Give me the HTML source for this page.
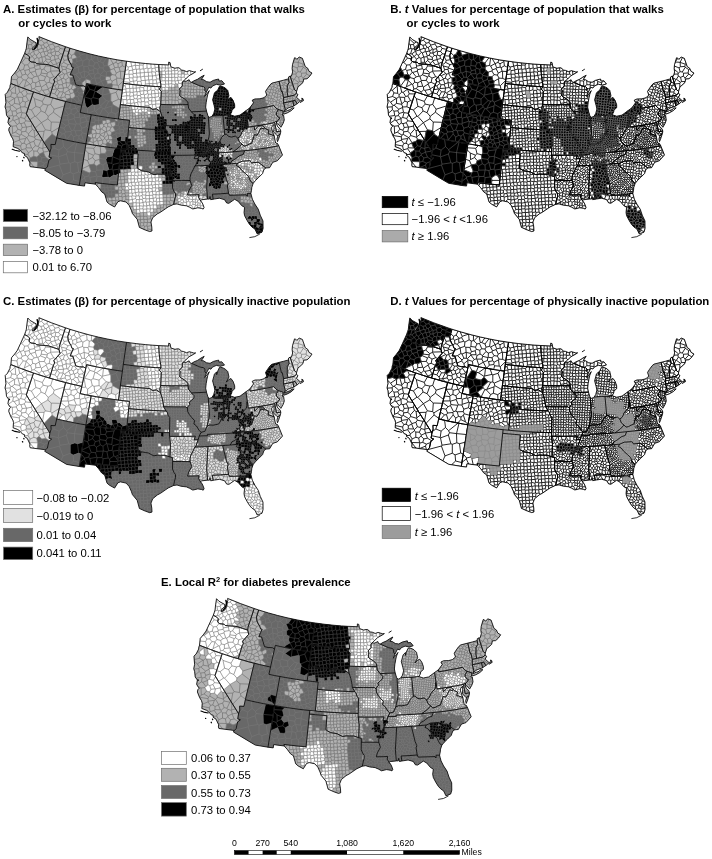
<!DOCTYPE html>
<html><head><meta charset="utf-8"><title>Figure</title>
<style>html,body{margin:0;padding:0;background:#fff}svg{display:block}text{font-family:"Liberation Sans",sans-serif;fill:#000}</style></head>
<body><svg width="712" height="859" viewBox="0 0 712 859"><defs><path id="m" d="M51 1072l51-4 2 30-41 35-4-36-8-25-1-3 9-43-3-33-1-15 50-13 39 18 2 1-1 50-24 18-12 3-7 13M55 978l-3-34 22-22 11-21 19 1 48-41 5 72 13 14 27-25-13-58 48-66-21-27 11-20 35-9-9-38-13-10 12-44-29-25h-14l2-3 32-69 8-19 28 16-12-7-16-9 10-29 4-12 28-8 13 4 18-1 5-15 15-5-7 7-7 22 22-4 20-21 6-13 8-14v-5l28 13 11 30-42 15-5-39M56 993l30 28 58-38M63 1133l2 20 7 10 15 19-8 43 4 7 45-32 6-39 29-4 7-22 45-13 5 5 45 5-2 6 5 9-21 38 10 23-14 19-33 10 12 38-13 27 9 16-7 25-11 9-46-30 25-30-17-34-39 4-32-17-8-13M72 1163l55-8 7 6M85 901l14-28 2-20 7-18 4-43 3-26 27-32 3-3 28-38 10-22 16 32-43 34 26 35 29-1M86 1021l23 34M91 1245l3 6 12 12-15 16-4 23 21 53 85 13 2 26 62-9-17 47-22 3-12 25 8 38-7 11-7-8-22-16-47-18 2-21 73 14M104 902l15 27-14 36M104 1098l16 14 39-4 9-16-47-40M112 792l57 6 13-26M119 929l38 4M120 1112l7 43M123 1262l3 70-18 23 1 3 19 31 7 26-1 10 59-24 25 34M126 1332l28-10M128 1200l13 5 30 41-9 12M133 1446l1-21M141 1205l49-19 1-3-28-26M142 734l14 3M145 1034l52 9 10 27 42-2 6-48 30-14-27-46-21 5-11 9-47-2 19 66 30-26 27 8M146 984l25-17 8 5M152 861l4-8-48-18 55 21 21 8h-1l-20-8-7-3M159 1108l11 27M168 1092l37-17 2-5M169 798l14 66M170 947l1 20M171 1246l22-15 17 6M179 1292l30 10M183 671l21-46M184 864l34 13 14 5 11-14 55-27-35-37-20 64M190 1186l3 45M191 1183l16-8 13-48M193 1368l7-16M193 1401l2-7M197 922l15 1 44-31v-1l16 6-40-15M197 1043l1-5M199 703l4 1 19 47M203 704l32-10M205 1075l10 47M207 1175l40 10M207 1509l18 21 19 5v11l36-3 4-15 41-29-1-13-8-6-54-2 2-31-24-15M211 1343l56 33h2l17-21 60 18 2-4-7-64-17-11-39 44 1 17M212 923l25 42M214 1498l42-11 6-9M218 625l36-44 39 7-3 15 2-14 29-25-23-25 38-28-17-23M218 877l38 14M218 1318l40-4 9-43 47-10 10 33M222 1275l42-5 3 1M226 974l2 38M232 798l30 3 1 3M238 553l16 28M243 1227l21 43M244 1546l1 9 28 19 18 38 5 3 44 56-38-4-5-15 2-23-8-17 10-33-21-36M247 650l31-2 18 36 48-9 13 21-4 15-46 14 36 44 28-8-18-50M248 704l44-9 4-11M249 1068l32 14-16 50M256 892l16 46 56 2-24 73-23 69M256 1487l28 41M257 742l20 11 24-28h6M257 1208l53 7-42-68M257 1385l10-9M258 960l14-22M258 1314l27 24M260 493l3-10 5-47 1-6 6-39 46 42 26-14-4-2-41-23-24-25-3 22M262 543l24-5 12 1M262 801l20-24 38 9 23-17M264 1447l33-16 19 49M268 436l16 11 4 38M269 1376l30 50-2 5M274 550l22 18-4 21M277 753l5 24M278 648l27-33-15-12 20 16 27 3 17 2-19-2 10-30 25-17-5-22-20-10-9-32 42-12v-1M279 1090l-16 48 36 59 51 84 6 9 15 25 54 86-39-63-38 31M279 1090l43-131 13-40-8-3-23-8-32-11 55 19M279 1090l35 9 45-35-16-78-21-27M284 447l31-2 6-12M285 1006l19 7M286 538l15-49M292 695l9 30M293 588l3-20M296 1615l80 2 2 3-7 56-31-5M298 841l9 3 20-22-7-36M299 1197l50-35 10 2 55 62 64-37 4-26 52-41 7-30-34-48-28 7-28 76-40-17-52 54M299 1426l40-13 15 45 29 6 8 12 35 9 3-3 4-68-8-13 15 23 59 95 5-14 35-25 8-35-38-1 43 2-5-1M301 1579l37-16 29 7 23-18 4-11 40-19 1-1 59-10-26-41-39 12M304 908l15-18 23-4 15-19v-39l34-17 2-6-14-41-8-3M305 615l5 4 25 3M307 844l12 46M310 1215l13 22 33 53 8 13-23 2M314 1099l35 63M314 1261l9-24M315 445l9 28M321 564h1l23 28M322 564l23-21M324 1486l30-28M325 1499l13 11v53M327 822l30 6M328 940l7-21 46 15 7 2 48 16-55-18M337 622l9 39 51-9 4-12h-2l-33-3-12-13M338 1510l35 2 18-36M339 468l22-23v-18l-14-8M339 1413l15-21-8-19M342 886l50 33-4 17M343 986l80 28 32-56-19-6 18 5 3-6 44-19-19-39-53 11 28 47M344 675l2-14M350 1281l64-55 40 72-13 15-70 2M354 1392l57 12-28 60M357 696l46-8-6-36M357 867l50-5-16-51M359 1064l41 13 11 33M364 1303l22 35M365 553l28-29 10 5 14 41h2l30-3 11 24 44 4 6 11 39-9 1-2-6-38 8-6 5-37 29 1 14-31-13-21 9-17 59 21 45 15-14 45-8 26 4 33v4l3 7-44 7-19-39 2-7 55 3 3 29 14 32 10 15-25 10-16 26-51-13-10-11 33-25 4-20M366 637l10 1 15-15-2-40-19-8M367 1570l9 47M371 1676h4l60-25 9-20-37-17-29 6M373 1512l21 29M375 1676l69 9 12 2 18-18 15-67 28-22-22 17-6 5-3 13-12 54M376 638l23 2 40 2 15 2-6-1-47-3M378 499l15 25M379 764l25-16 51 20-12 36-50 1M381 440l2-27 32-11 15-20-41-16 2 21-8 26M389 583l28-13M390 1552l29 27-12 35M391 623h36l-8-53M392 919l25-20-2-29 46-29 22 47-1 5M400 1077l32-36 47 10M403 529l30-14 6 3 15 42-5 7M403 688l15 9 20-6 39 35 28-12 32 53 20 7 13-15 8-9 22-25-3-9 21-2 19 22 9 5 21-5 21 39 12 4 2 49 43-24-2-6 7 23 46-21 23 27 7 32h11l-22-1-9 17-25 10-17-8-32 21 6 28-34 11-15-36 1-5 24-7 18 9M404 748l8-17 6-34M407 862l8 8M409 453l25-5 17 26h12l10 36 1 1 31-20 6 3 33-7 8 22-42 22 11 24-17 20-34-22-16 7M411 1404l14-3 16-88M412 731l60 7 5-12M415 402l27 29-8 17M417 899l12 5M419 1579l36-7 40 25M420 483l12 6 19-15M423 1014l9 27M426 1485l9 36M427 623l6 3 23-20 4-15M430 382l44 18-3 26-29 5M432 489l1 26M433 626l6 16M433 1414l35 56M434 1522l21 50M435 1651l9 34M438 691l18-32-8-16M439 518l34-8M440 1424l81-84-3-21-11-12-53-9M443 804l22 27-4 10M444 1631l42-16M451 1127l31 36M454 957l37 11 4 2 32 9-20 65M455 768l13-8 32 21 37-14M455 958l36 10M456 606l29 24 23-17 2-7M456 659l51 4 5-6 24 8 46 15 8 3 6 25 4 17-30 34-6 7 12 44 38-17 14 46 33-12h1l39 3 4 7 20 14h22l17 26M463 474l23-18 19 35M465 831l27-8 8-42M468 760l4-22M470 553l14-23-10-19M471 426l17 25-2 5M474 400l42 17 18 7 62 22M478 647l-24-3 32 4 26 9M478 647l7-17M478 647l8 1 39 14 11 3 54 18 7 33M478 1189l35 31 92 3-12 51-75 45M483 888l45-27-22 73-5-2M484 530l25 1h1M488 451l41-11 20 31 38-8M491 1571l26 9M491 1571l8-52-4 28 87 18 9-64 44-36-9-72h1l-41-9-19-5 59 14M491 1571l4-24M492 823l42 20 1-3 11-21-1-3 26 2 5-8M494 1511l5 8 12-36-7 22M495 970l50 14 24 7 8-11 27-2 28-56-2-3-35-1-23 44-24-23 24-46h1l22 25M495 970l13-42 40 11M495 970l11-36M504 575v20M505 714l2-3 89-3M507 663v48M507 1307l6-87M508 613l24 35 34-9 16 41M508 928l9-31 13-43 5-14M509 531l2-37M509 1444l2 39M517 897l47-7-16-31-18-5M521 555l23 2M521 1340l48 34 24-100M525 662l7-14M527 979l18 5 55 16 33 8-28-30h-1M528 861l6-18M529 440l5-16M534 1122l81 62 30-125-104 33M539 1480l52 21M544 487l5-16M545 816l-6-22 18-20M546 819l-7-25 25-28M548 859l30-23 13 11-12 38 56-3-5 37M549 597l18 39 38-19-11 34-4 32M550 595l35-10 24 18-4 14M552 509l5 5M552 551l28 7 5 27M552 1446l15-67 2-5M564 890l8 3M566 639l1-3M567 1379l17-68 9-38 14-58 4-15 12-50 17-68 1 1 55-1 16 11 48-11 5 3 45-34 8 2 9-40 9-42 5 1 6-1 63 18 13 55 18 8 50-7-1-55 31-28 1-7 4-5 74-16-19-55 41 7-5-1 9-37-8-13 3-23 44-24 5-7-16-30 9-20-22-45 6-8-16-42 29-12 20 14 39-22 4-10 42 6-9 62-6 41-45-2-4-2-38 20M569 991l31 9 54 14-21-6M571 818l7 18M572 962l5 18M573 893l6-8M578 750l14 7 45-21M580 558l26-20-20-23M582 1565l3 4 79-29 11-23-9-20-31-32M584 1311l41 27 20-1 11-17-16-38-47-9M585 1569l15 73 89-14 14 5 45-15-3-92-70-9M586 1384l39-46M591 847h32l5-8M592 757l24 32-2 4M594 648v3M594 648l28-83M594 648l10 1M594 1650l-138 37-9 15 161 97 22-50 73-27v-89M594 1650l6-8M594 1650l36 99M600 484l46 10 9-27-13 37-18 54M605 978l46-9 17 23-11 23 52 13 6 1 1-44 15-3 22-19 24 2 9-10 4-23-13-17-33 14-6-3M605 1223l10-39M606 538l24 4-21 61M607 1215l54 42 23-11 31 61 22-6 15 7 13 46 25 6 24-18 9-14-10-22-61 2M608 1799l58 34 29 5 98 16 6-41 14-82 33 39 41-10 11 14 14 63 42 5v-2l-2-14 33 4 25 3-1 47 34-5 5 3 26-6v-32l25 3-5-1 5-38h78l1-6-23-42-17-7-43 29-13-8-51 6-12-11h-47l-14 61h-6l3 16 12 14 18-26M611 1200l70-1 3 3 5 34-5 10M614 660l11 37-7 17M616 789l16-6 14-42M623 847l12 33v2M623 1150l55 6 4-10-41-63M625 697l35-4 5-13 56 22 13-27-10 21-4 10 1-4M630 542l16-48M632 783l26 13 30-21M632 922l13 7 10 13 44 7 5-12M635 880l34-4-8-49M637 624l44 23M640 1082l16-68-11 45M640 1282l21-25M642 504l47 15 11-37 61 18 19 6 22 47 64-22 5 57 22 12 21-3 1-54-25-6-23-7-1 1M645 929l44-28M645 1337l19 61 48-59-3-24-53 5M651 969l4-27M654 1014h2l53 14h3l-16 54M656 1014l1 1M658 796l4 31M660 693l10 39-3 4M664 1398v3l-37-8 60 13 60 12-14-3-46-9-23-5M664 1540l25 88M665 673v7M666 1497l96-77-15-2 11 2 30-34 47 22-21-66M668 992l38-14 10 7M669 876l9 3 12 17M670 732l47-19-15 35 27 3 5 17-34 11M678 879l27-42M678 1156l3 43M679 561l-1-8 11-34M682 586l31-8 12 15 4 33 25 7 14-18 50-12-21-36-27 6-29-33-25 13-30-26M682 1146l27-12 31 14 36-37-11-26M684 1202l58-17 22 54 34 1 20 42-5 24M685 597l11 25 12 18 21-14M689 1236l69 7-21 58M695 1838l41-38-5-61 56-19-12-93-27-9M699 949l7 29M701 830l1-2M703 1722l28 17M706 637l3 4-1-1M709 641l10 30 15 4M709 1134l3-41M709 1315l6-8M712 1028l31 8 17 46M712 1339l25 32-4 44M713 578l3-25M714 889l11-38M715 1029l45 11h3l47 11M717 713l3-7-18 42 24 3 29-5 34-21 11 5 41-17 2 1 1 59 10 4 35-37 33 45-17 19 4 41-43-9-5 21-3-62-39 32M724 696l57-26 8 55M725 593l42-16 1 38M726 751h3l14 47-9-30M731 982l42 37 20-10 34 4M736 1800l63 16-6 38 52 7 5-33 18 3 44 6M737 1371l28-17M740 1148l6 29 47-3 9 8v51l-4 7M741 540l20-40M742 1185l4-8M743 1036l20 4 55 13 18-82 22-99 3-15M744 929l9 34M745 804l10 34-8 13M750 821l8 27 36 9 32 2M754 633l27 36v1M755 746l45 44-4 10M755 838l3 10M758 1243l6-4M758 1420l48 9-36-7-25 104 99 9-12 77-57 15M760 1040l13-21M762 1420l8 2M767 577l3-4M776 1111l21 11-4 52M777 915l4-30M777 965l16 44M780 506l16 5 71 19M781 669l44-15 13 9 3 50M786 955l50 16 4-18 11-47 7-34 8-36 32 56 45 14 5 8 16 3 58 38M787 1720l25 11 20-119M788 1386l2-26M790 932l39-5 11 26M794 857l21 1M797 567l5-14M797 1122l6-1-1 4 44 9 11 3-55-12 14-61 2-11-15 68M799 1813l44-33 3-10M799 1816l13-85M800 730l19 42 25 1M800 790l19-18M802 1182l48-13-4-35M802 1233l67-21 4 3h27l11-64-56 23 14 38M806 875l27 38 18-7M806 1429l53 9 1-2 37-24 15-32-39-19 3-14 7-40 32 1 11-12-7-26-27-15 7-34 7-42 38-4 9 26-8 25-46-5M813 1731l5-34 1-8 71-33 22 56 43 4 13-14 64-2-13 65M816 1064l40-3-15-89M818 603l11 8 42-23M818 1282l47-15 8-52M818 1697l77 33 17-18M819 1689l16-96 40 13 10-10-2-65 51 20-8 24 26 31-12 35 25 19 3 42M823 1328l54 15-17 92-25-27M825 654l4-43M829 927l4-14M835 1593l15-97 33 35M837 859l21 13M838 663l41 1 10-9 4-55M843 714l42 10 4 14 52-1-9-39 11-15 35 9 20-14-23-53 8-9-12-59-9-3-47-11M843 1780l25 51M844 1535l15-97 7 1 60 10 39 6-28 28-84-5-3 18M847 971l51-79M850 1169l5 5M853 1478l6-40 1-3M854 777l6 12 45 15M856 1061l21 19 46-36M858 795l2-6M860 1436l13-75M865 1267l22 18 13-70M866 836l51 11 41 8 9-16 46-27 40-17 6-29 3-3 2-43-24-15-10-25-32-2M872 1139l-15-2 55 10 55 10 18 3 36 6-31-5-35-50 57-43 16 18 14 2 6-4 72-25-6 64 43 14 3 50-29-4-55-8-6-1-49-8 1 1-3 31 4 8 37-2 8-11 31 5 6 26-1 2 15 41-7 5-15 32-32 10-2-37 15-10-3-31 29-10M872 1139l40 8-6 32M872 1139l2-3 3-56M874 1136l74-29 7 4M875 1606l18 42-3 8M876 1347l41-12-2-27M877 1343l10-58M879 664l15 43 38-9M883 1307l9-52M885 724l9-17M885 1596l41-21M887 1760l8-30M889 655l46 6 15-32 25-4M889 738v2M893 1648l47-7M897 1412l36 14 1-1 38-23 6 9 10 48 7 1 50 7 5 1 16 39 75-9-19 65-48 5-20-34 12-27M898 1774l71-13 3 4M909 845l8 2 46 10-20 49M910 989l20-13 60 14M911 1151l1-4 47 9-15 19M912 1380l14-4 4 2 4 47M914 597l5 1 43-44M917 1335l6 7 40-11-9-29-28-6M919 598l31 31M919 1270l35-25 9 4 26-5h1l33-8v-30M922 785l22-7 5-33-8-8M923 1342l3 34M926 1449l10 2-3-25M930 976l18-62M930 1378l22 1 12-46-1-2M934 1551l16-14-13-54M935 661l8 22M936 1451l49 7 3 1M941 1052l7 55M944 778l4 3 19 58M945 1226l9 19M948 781h51l14 31 32 60-26-4 11 2 5 1-9 79M949 745l31-15-2-38M950 1537l42 10 6 38-5 10-41 11M952 1379l17 11 3 12M953 1201l32 4 4 39M954 1302l11-11-2-42M955 1716l14 45M958 855l10 3 51 10M958 1826l67 8 6-58M959 1156l8 1 23 4 38-75M963 857l5 1M964 917l66-47M964 1333l34 5 5 6 1 6-9 19 25 32 7 2 19-16 19 13 5 27h15l20-30 12-1 8-13 40 2 3-5-10-43 2-8 38 5 2-4 33-7 15 20 36-35 3-25v-8l-2 25 21 1 1 28-1 2h-24l3-31M965 1291l39 3-6 44M965 1455l20 3 17 3 43 6 24 3-10-27 11-16M965 1660l38-22-10-43M967 1856l17 18 14 18 11-12M969 1390l26-21M971 557l13 3 45 9 40 9 9 2 8 1-10 73 11 6 44-24-31-52-14-3M978 1411l42-10M980 730l25 15 35-40M983 616l14-1 33 15 39-52M985 1160l1 45 33-7M985 1205h1M990 1244l15 49 11-2 39 26 9-1 15 33 6 3 24 2 6 6 43-23M991 1045l16 12 5 11M992 1547l16-13-6-73M995 1460l32-24 32 7M997 615l32-46M998 1585l62 9 14-26M998 1892l13 18 37-1 4 3-4 31 35 6v23l36 8 1 25h36l1 33 6 5 16-26 20-7-11-8-30 1-2 2M999 781l8-28 52 13M1003 1344l49-25 3-2M1003 1638l27 13 3 48-1 1M1004 1294l1-1M1004 1350l33 17 15-48M1005 745l2 8M1007 1057l54-51 26 6-39 72M1008 1534h46M1010 1833l16 2 68 7M1011 1910l6 9 30 21v3l12 38 11 39 5 4 19 17 21 11 10-13 32-1M1016 1291l23-31 24 17M1021 962l40 44M1022 1167l35 5 19 3 35 5-12 18M1023 1236l13 9 3 15M1025 1834l1 1 12 1 5 39M1027 1403v33M1030 630l11 31 35-7M1030 680l11-19M1030 1651l35-27-5-30M1033 1699l36 7 19-10-19-69 49 6 12 12-9 47-33 4M1035 871l35 6 11 2M1036 1245l25-12-1-29M1037 1367l9 10 33-28M1038 1836l36 4M1042 1088l44 47-16 39M1045 872l2 1 26-32 45-6M1046 1377v10M1047 873l23 4 47 8M1047 1943h1M1048 1878v31M1050 1468l54 7 53 6-31-48-2-1-12 9-27-14M1052 1912l29-1 2-3 29-6-2-32 36-1 4 31-1 1-31 6-6-5M1053 795l13 11 41-8 14 14M1057 1172l11 21M1059 1981l21-5 3-4M1061 1233l14 3M1062 763l39 5 6 30M1064 720l35-10 6-12 36-12M1064 1316l1-2M1065 1400l19-7 21 4M1065 1624l4 3M1066 806l7 35M1069 1470l31 4 12-33M1069 1706l13 64M1074 1872l3 2 33-4-2-27h-9l74 7 4-46M1075 2024l13-14 31-4 6 33M1077 1874l6 34M1078 1267l34 5M1080 1976l8 34M1081 1911l7 32 26-2 2-2 34 1-1 29-26 7-4 4M1083 1949l5-6M1084 1393l1-41M1086 1135l28-12M1087 660l18 38M1087 1012l21-2 14 11 64-28 24 6 14-98 9-68 4-28 1-7 12-83M1095 1778l4 26M1097 1304l21 19-9 31M1099 710l21 36 34 5M1100 584l67 13-7 27M1100 934l8 5 52-16 26 70M1100 1474l4 1 52 6-15 17M1101 768l19-22M1105 1224l45-7 4-6h18l14-21 44 6 10 1 15 1 29 56-58-7-2 3 20 41-9 7-2 25M1108 939v71M1108 1843l36 4 2 22 32-7 10 9-5 28v1h-33M1111 1180l20 3 16 2 7 26M1114 1941l9 35M1115 1360l10 23M1115 2052l31 18 17-27M1116 1939l2-32M1117 1396l7 36M1118 1323l34-11v-1l42-26 4 4 2 41M1118 1633l7-66-3-4M1119 1267l13 2 20 42M1119 2006l1-1M1120 1059l7-13 72 40 5-41 23 3 31 4 5 1-13-2-15-2-6-54 35 1 5 4 1 32 35 1-1-37 32-2 6-7 28 1 4 4 33-8 8 34 29-3 4-35 30-1 7-38 27 1 2-2 3-36-7-7-36 13-2-1-32-5-4-28-34-5-5 6-35 4 5 35-34 6-2 2 6 28-3 6-35 5-4-4 7-37 29 2M1121 1692l8 8 60-8 7-64-66 17M1122 886l51 8 7 1-20 28M1122 1021l5 25M1125 1567l74 30 8-74 2-14 2-22-4 36-4 37 24 1 4-4-2-32-22-2 48 5-3-19h-43M1126 848l46 3-7-63M1126 1433l47-10 2 22-15 36h-3M1129 1700l9 49M1132 1269l24-16 27 5 7-35 35-16 1 40M1144 1847l29 3 2-22 3-27 3-36 4-32 20-3 2 34 34-1 36-9 1 1 2 34 29 1h1l34-3 3 3-4 32-29 2 7 33-6 7-31-6-5 6-24 3-5 32-2 2 4 29 34-1 2 2h31l4 3-2 24 39 5 3-3-9-33 34-7-3-30 33-5 3-28 29-5 1-1 36 3 1 26 33 8 6-9-7-27-6-4 5-31-35-6-2 2-28 3-9-33-30 6-2 25-27 8-6-4-29 10-8-6M1147 678l35-7-2-33M1147 1185l38 5 6-40 1-6 4-32 33-4 9 25-6 6 6 27 27-4 30-3 2-2 28 4 1 2 29-3 2-3-8-28-22-1-2 33M1149 1901l5 35-4 4M1149 1969l3 3 6 31M1150 1217l6 36M1152 1312l8 17M1152 1972l32-3 4 33M1154 1936l29 2 2-2-2-36M1155 1756l29-18-6 60M1156 1481l7 1 48 5 11 1 44 4 5-53 17 13 1 24 27 5 5-4 23 3 5-4 22 1 5-5-1-25 28-4 4 25 24 1 4-30-2-2-29 5-1 1M1157 1137l39-27 3-24M1160 1187l25 3 17 2 1-26 31 5 4-5M1160 1481l3 1M1165 1385l11 32 20-1 36 32 30-9 9 5-5 48 2 1-16 16M1167 597l5 1 51 8M1168 1380l36-17-6-29M1170 781l37 3-2-71M1172 851l10 7 55-53M1172 1211l18 12M1173 894l18 2-9-38M1173 1423l3-6M1175 1445l44 17 13-14M1175 1828l4 5h33l2 2-1 30-25 6M1178 1801l29-5 2 2 3 35M1178 1862l1-29M1180 895l44 6v-6l34-5 4 31v1l38-2-2-35-2-2-3-42 35 4 2 37 2 1 30-2v-32l-21-2-13-2M1181 1765l24 1 2-2M1182 671l9 6 10 34M1183 1258l9 8 32-16M1183 1899l32 5 8-7-8-30-2-2M1183 1938l5 26 29 2 5-29-9-7-28 6M1184 1738l5-46M1184 1969l4-5M1185 1733l5-49 3-26 3-26 3-34 4-38M1186 1190h-1l11-80M1190 1684l11 10 5 35-1 1M1191 677l33-19 32 16M1191 896l33 5-5 31-4 33-2 15 16 15M1191 1150l12 16M1192 1144l40-5M1192 1266l2 19M1193 1658l46 3-7 31-31 2M1196 1112l4-34 4-33 31 4M1196 1416l14-10 7-38-13-5M1196 1628l3-31M1196 1632l40-3 3 32 28 1 5 27h-1l-34 6-5-3M1198 1289l37 9M1199 1598l34-6v-1l-6-30M1199 2010l6-2 18 4-2-41 35-9 1 1 2 31-24 21-12-3M1200 1078l30-3-3-27M1202 1192l34 4 4 1 31 3-6-38-2-28v-1h-25M1205 1766l2 30M1206 1729l32 1 3 33 5 30 30-1 4-3M1207 784l31 14M1209 1798l36-3 1-2M1210 999l-6 46 9-65M1210 1406l40 3 12 30M1211 1487h1l10 1M1212 1487l7-25M1213 1930l2-26M1214 1835l32-5h1l35-1 4 3-2 26M1215 965l53-8 27 2M1215 1867l36-4 4 4M1217 1368l32-2-1-23M1217 1966l4 5M1219 616l5 42M1219 932l43-11M1222 1937l27-2 3-5M1223 1897l25 4M1224 895l6-37 3-25 54 7-23-3-31-4 2-17 4-27 7-44 43-4 2 2 37-2 6 30 38 1 1-1-10-38-31 3-6-35 2-3 32-7 5 3 28-4 1-34 4-5-6-23 55 6 9 1 13 1 39 3 19 2 19 1 6 36-2 2-31 6-1 31-2 3 9 40-2 35 6 5v36h-1l2 27-28-2-26-2-4 50M1225 1207l5-11M1229 1108l1-1 31-5-1-27 28-3 17-15 7 1 10 1-14-1-45-5 42 4M1229 1525l31 3 5 1 30 3 29 2 23 2-10 12-37 10-6-5 1-21M1230 858l21-1 13-20M1230 1107v-32l30-1v1M1231 1557l33-2 3 3 27-5M1233 1591l32-5 4 4 3 34 31-1 7 28h31l-2-33-2-2-2-31h44l3-46-35-3M1233 1592l5 34 32-1 2-1M1234 1171l2 25M1235 816l61 8 4-5-9-36-52 6M1235 2015l26 5 20 22 10 11 6 14 16 35 6 18 2 6 3 9 35 42 13 16 2 5 8 31 22 2 4-5 29 2v28l8 6-6 32-44-20h-1l-12-45M1236 1629l2-3M1237 1695l5 30-4 5M1242 1725l30-1-1-35M1244 1291l43-8M1245 1795l2 35M1246 745l5-38 31-11-1-26 36-8 11 36M1246 1830l5 33M1249 1366l3 3-2 40M1249 1935l7 27M1250 1051l20-19M1250 1899h38l2-3-11-32M1251 707l8-58 6-37 43 6 45 6v28l-36 10-9-44M1251 857l9 31 36-5M1252 1369l26-1 6-60M1255 1198l40 5-6 55-2 17 4-33 2-24 36 3 1-30 25-1 6 25 28-2-1-29v-1l26-3 3-28-2-2-4-21 8-10 23 1 4-30-2-1-32 4v-1l-27 6-3 25-27 1-3-29-3-1-26 3 3 30 1 1M1255 1528l10 1 21 2 1-37 26 3 28 2 7 1 37 2-5 36 2 1v1l-2 20 37 3 2-2 1-28 23-6 1-21 15 1 7 1-5-38-27 2-3-3M1257 1963l30-4 1-28M1258 890l2-2M1258 1052l2 22M1259 649l22 21M1259 1994l29 3 2 2 33-3 7 31-43 8 3-36M1260 1528l4 27M1261 1102l2 2v29M1262 922l6 35-4 39M1263 1104h28l-3-32M1263 1134l32-4 1 1 1 26M1265 1586l2-28M1266 1492l9 1 14-17M1267 1662l4-4 34 1 5 29-1 1h-37M1268 1493l14 1h5M1269 1000l31-8 4 4M1269 1590l34-3 3 33 31-4M1270 1625l1 33M1271 1200l18 2 8-9-2-34M1271 1439l2-19 3-33h36l1-26 26-7 3 3 1 28h26l1-1 30-2 2 3 28-2 5 27 22-3 5-29-1-1-30 5-3-27-28 3v24M1271 1444l7-76M1272 1724l2 1 3 29M1273 1420l36-3 5-29-2-1M1274 1725l33-6 2-30M1275 1493l7 1 32 3 2-16M1276 1387l3-26 3-30M1276 1792l6 37M1278 1755l33 1 3-3 28 3 2 31M1279 1361l27-5 7 5M1281 2042l6-7M1282 696l9 10-2 35M1284 1254l5 4M1286 1531l30 2 8 1 28 2-4-36M1286 1832l27-8-4-34M1286 1929l2-30M1287 1959l3 3-2 35M1288 1452l24-4 2-26-5-5M1289 1202l6 1-2 15M1290 1896l26-2 3 37M1290 1962h27l6 34 33-10 4-23M1291 706l35-5M1291 743l3 35-3 5M1291 1104v1l31-8-10-39M1291 1105l4 25M1291 1242l14 12 25-7 1-24-2-2M1293 841l-6-1 11 1 43 6h1l29 3 5-36-8-7 4-35M1294 778l35 1 5-8M1296 824l2 17M1296 1131l30-4M1297 1193l27-7 2-23M1297 2067l32-3v-1l33-2v-33l-2-1-29 1-2 35M1298 885l32-3M1299 963l1 29M1300 819l33-8-4-32M1300 920l2 2M1300 1558l4 27 30-1 3-36M1303 1587l1-2M1303 1623l3-3M1305 1033l2 2 1 23M1305 1254l1 23-19-2 22 2 26 3 5 18 25-2 10-13 28 2-7 39-25 1-6-29M1305 1659l5-8M1306 1277l26 2 4-28-6-4M1306 1300l3-23M1306 1300v1M1306 1300l30 2 4-4M1306 1331v25M1307 1035l34-7 4 2 4 32-27-3 25 3 2 32M1307 1329l30 1-1-28M1307 1719l5 5 2 29M1310 1688l29-2 5-33-3-2M1310 1790l1-34M1312 1448l5 3 27-5 2 1 25-4 2-28h-1l-3-30M1312 1724l36-5 3 3 27-1 6 32 28-1 3 36v1M1313 1497l3 36M1313 1824h1M1314 1388l24 2 6 25h28M1314 1422l26-2 4-5M1314 1497l27 2h4l-1-19M1315 1864l1 30 32-1 3-3-3-32 5-6 31 4 5-5-3-29M1317 1451l4 26M1317 1962l4-4M1319 2120l18-26-8-30M1321 1857l27 1M1321 2126l44 7v37l-6 7M1322 1097h1M1323 1934l30-8 1 1M1324 1186l6 5M1328 741l4-5M1330 2027l1 1M1331 1223l27-4 5 26-5 7 9 31 26 2 19 1-9-1M1332 883l1 39M1332 1279l18 2-15-1M1333 811l2 1 33-5M1334 958l8 29M1334 1584l1 1M1335 812l7 35M1336 994l5 34M1336 1251l22 1M1337 952l33-2 6 6 27-3 5-7-10-31 2-3-3-35M1337 1330v1l34-6v29l28 4 2-29-5-5M1337 1331l2 23M1337 2094l28-1 2 1 27-1 7 34-3 3-33 2 2-38M1338 1390l5-5M1339 1618l38-4-3 38-2 27 16 12 1 1-8-6-3 35 37-3 8-9 26 4 5 1 30 5 29 16 5 2 21 10 15-3-5 33-29 3-3-2-31 5-2 28M1339 1686l4 3 35-6 3 3M1340 1420l4 26M1342 1357l26-1 3-2M1342 1756l4-4 32 8 6-7M1343 1689l5 30M1344 1653l30-1M1345 1030l29-7 4-5-4-26M1345 1499l31 3 24 2-15-2M1346 1447l3 29M1346 1752l5-30M1347 1062l31 3h2l31 3 28 2h-3l13-16h38l4-6-11-29 9-12 26 1 2 2 2 32-28 6M1347 1790l27-2 6 30M1348 1893l5 33M1349 1062l31 3 6 1 25 2v-46l4-4M1349 1129l6-5M1351 1828l2 24M1351 1890l32-2 2 2M1352 1095l25-5 8 8M1352 1536l28 2M1353 624l9 1 30 3M1353 652l1 2 40 2M1354 654l6 37M1355 1160l1 29-1 1M1356 1189l32-5M1356 1986l8 9-4 32M1357 1157l23-1 2 1 6 26M1358 1219l3-4M1362 849l32 3-23-2M1362 2028l31 2 2 2 35-7 1-1 26-5 4-31-5-5-27 3-9-30 5-7 31 3 2 2 35 1 1-1-2-33 31-7 6 33h31l1-28 31-7 2 35 32-2v-32l-5-4-29 3-9-32h-24l-3-3-29 2M1362 2061l2 1 1 31M1363 733l2-1v-38M1363 1245l27-2 3 42M1363 1960l24-2 5 4 28-6M1364 1995l29 1 4-3-5-31M1364 2062l31-3v-1v-26M1365 732l37-3h1l-4-35 34-6 5 3 33-11 9 7v36l3 1 33-4M1365 2132v1M1365 2170l36-9-3-31M1367 916l4 2 27-3M1367 1283l-17-2 25 2M1368 1356l2 28M1370 950l1-32M1370 988l6-32M1371 1443l4 4M1371 1477l5 25M1373 771l31-3 2 2 37-8 1-36-41 3M1373 1415l25-2 6 29M1374 1023l12 43M1374 1788l5-5-1-23M1374 2198l30-1v1l4 28M1375 1636l3-42 38 2 2-2-1-31M1375 1636l41-10v-30M1375 1636v5l-3 38 6 4M1375 1641l13 17 33 2 3 3 30-5-7-30 3-4h28l4-4-2-27 2-2-2-25 31-8-4-27 36-5 12-14-37-1 38 1-2-23 29 3 1 21 30 1v-24l29-2v27l33 1-2-28 22-6v-26l-26 2-4-4-23 4-7-25 6-7 26 5-2 23M1376 814l33-2 4-5 39-4 1 1 33-6 3 2 34-5M1376 1472l25 2 6-6M1377 1090l1-25M1377 1614l2-29M1378 1018l33 4M1378 1594l2-34M1379 1783l36 5M1380 1156l3-32 28 5M1382 1123l1 1M1382 1157l33-7M1382 1540l31-12 7 5M1383 1888l1-32M1387 1958l4-36-3-2M1388 1658v33M1389 1213l1 2 4 23 27 4 3-3-1-29 29 2-4 26 8 7-2 25 2 2 5 18 13 1h15l-2-23 2-3 24-4 2-23-1-2-32-3-3-19 5-6 24-5 1-29v-1l-6-30h1l34 2 1-1 27 1 2 24-1 2-33 2 7 30 27-6 4 3-2 29 7 5 1 27-3 3-24-3-7 7 1 26 36 2 18 1h3l42 1-8 11-31 5-2 3-26-3-4 5-30-2v-1v-22l32 2 2 18M1389 1851l30 4 2 2M1390 1215l31-7 2 2M1390 1243l4-5M1391 1922l29 1h1l36-6 4 3-5 32M1393 690l6 4M1393 1996v34M1394 2093l3-3 32-2 4-27-38-3M1395 2059l2 31M1395 2274l10-12 32-6M1397 1993l26 1 6-8M1398 651l33-1 2 38M1398 853l4 18M1398 853l50 4h-5l11-16 39-6 35 1M1398 853l-4-1 24 2-9-42M1398 1413l3-3 1-25M1399 1358h1M1400 912l38-5 2-3M1401 1329l22-2 4-4 25-2 4 30h1l30-8 4 4 23 2 1 2 30-2 2-2 25-1 2-2 31-2-2-25M1401 1410l31 4 3-4M1401 1474l4 30h-5h7l37 2M1401 2127l32-2-1-33-3-4M1401 2161l1 1h34l-2-36-1-1M1402 729l2 39M1402 2162l2 35M1403 953l8 26-4 5M1404 2198l32-6 2 2h35l1-1 32-5-1-30 2-2-2-31 30-5-1-32-2-1-27 2-1 1-3 29-32 3-2-32-35 2M1404 2231l1 31M1405 1504l27 2 27 1 17 1 3 21-3 2-29-1-4-3M1406 770l7 37M1407 1504l6 24M1407 1702l-18-10 29 16 34 6h2l25 4 5 1 23 13 6 3 26 12 13-2 21-4h12l24 1h11l1 33 32 1 2 31-33 3-3-2-31 7-6-5-24 1-6 7 2 25 33 4 5-5-4-27M1407 1702l16-13 1-26M1407 1702l11 6 5 1M1408 946l29-4 7 7 3 29 1 2M1411 979l36-1M1412 1092l-1-24 25 2M1412 1093l7 26M1412 1752l3-3 27 4 8-8-1-32M1413 1286l48 4M1413 1286h-1l8 1 7 36M1413 1286l10-11 31-5M1413 1814l4 4 2 37M1414 1180l8 7 25-6 4 2 24-6 9 31M1415 1718v31M1416 1626l7 5 24-3M1417 1152h25l4-5 28 6 1 24 34-3M1417 1818l33 3 4-5M1418 854l25 3M1418 1594l28 1 34-2M1418 1885l3 4v34M1419 1561l29 1-1-32M1420 1287l35 2 19 2h9l5 28 24-4v-22l25 1h8M1420 1923l5 26M1421 1208l1-21M1421 1242l2 33M1421 1660l2-29M1421 1889l31 1 5 27M1423 1327l7 25 26-1M1423 1689l24 5 10-9v-25l-3-2M1423 1994l8 30M1424 1239l24-1M1428 1355l2-3M1430 1383l1-1M1430 2025l6 33-3 3M1431 650l16-16M1432 1414l1 23M1432 1506l2-34M1434 2126l34-3 1-1M1435 1439l25 3 2-3 3-24-8-8M1436 876l15-19 25 2M1436 2058l31 2 1-2-7-36-4-3M1436 2162l1 2-1 28M1437 942l1-35M1437 2164l33-3 4-4 31 1M1437 2228l4-5-3-29M1438 691l7 33 35-1M1439 2294l13 6 14 5 12-15 41 5 1 15-23 6-31-11M1441 2223l33 3-5 34-24 2M1442 1120l5 5-1 22M1442 1152l5 29M1442 1753l4 28-1 2M1443 762l2 2 7 39M1443 1070h-4l51 4-3-20M1443 1070l1 19M1443 1070l41 3 14 1h-8M1444 726l1-2M1444 949l35-14 6 6M1444 1015l5 5v34M1445 764l39-2 2 36M1446 1090l25 3 13-20M1446 1781l34-4 6 6M1447 1125l24-6 9 26 23-2M1447 1694l5 20M1448 1562l2 2 25-2 5 4M1449 1020l31-1M1450 1564l-4 31 4 29M1450 1745l29 7 1 25M1450 1821l1 30M1450 1852l4 36-2 2M1451 857h-3l45 4v-26l-4-35M1451 1183l3 28-2 1M1452 1321l2-3 1-29M1453 804l1 37M1454 1211l25 3M1454 1318l31 4 3-3M1454 1888l32-5 2-3M1456 1245l23-6 3-6M1456 1272l31-4M1456 1983l2-29M1457 1351l4 26M1457 1660l23-6-2-30M1457 1685l26 6 1 28M1460 1442l4 25h31l1-1-2-26-32-1M1461 1470l3-3M1461 1920l26-2 5 3M1461 1988h34l1 26-3 5 2 33-27 6M1461 2022l32-3M1462 1378l22 2 5 4 3 23 26 2 3-30 23 1 6 25-3 4h-28h-1M1465 1415l24-5 3-3M1466 1508l29 1v-42M1467 2060l1 28 36 2M1467 2090l1-2M1468 2123l6 34M1469 636l2 44M1469 2260l5 4 4 26M1470 2161l4 32M1471 1093l5 18-5 8M1473 2194l3 30-2 2M1474 910l5 25M1474 1153l6-8M1474 2264l41-9 3 16 1 24M1475 1562l1-31M1476 1111l30 4-4-37 21 15 29-3 10-15 38-3 7-28 2-37 43-5 4-33 3-2 24 2 2-2 35 1 1 2-1 29-31 1-6-31M1476 1508l32 2 10 1-2-1 11-14-6-31 3-3 28 7 1 19 1 1M1476 2224l34 2v-6l7-19 10-24 18-15 28-23 10-6 22-11 3-3-6-36-32 1-3 4h-33M1478 979l3 2 8 26M1479 1239l10 26M1479 1529h26l2 2M1479 1718l4 30 32-5 2 35M1479 1752l4-4M1480 687l32-7 7 6M1480 1654l8 5v27l-5 5M1481 981l40-9-9-30M1482 1591l33 1h28l4-3 28 3-2 28 6 4 26-2 8 29-3 4 2 26 3 31-4 5 5 25h-7l-28-1-1-27h1l30 3M1482 1620l32 4h1l30-3-2-29M1482 1813l6 40-1 1M1483 724l2 36h40l32-6 37-7 26-2 32 2 4-5-3-28-5-4 7-30v-1l-35 1 2-34-35-1-41-3M1483 1291l29 2M1484 762l1-2M1484 1380l7-33M1485 1322l2 21M1486 1883l1 35M1488 1659l24-6 9 30 22 1 3 3 31-1-1-28-28-4-33-4-3 3M1488 1686l28 3 5-6M1488 1853l26-5M1489 1291l25 2 23 1h6M1489 1384l28-9-2-24M1489 1410l6 29-1 1M1493 861h9l6 1 39 2 8 1 29 1 25 1v-1l9 7 33 3v25l32 3 2 3-4 22 9 10-5 28M1493 1955l2 32 36-4 5 30 26 1 6 5-4 31 2 2 4 32M1494 1954l32-2 3-5M1495 1439l23-6 1-24M1495 1509l21 1M1495 1987v1M1495 2052l3 2 34-6-2-26 6-9M1496 1466l25-1M1496 2014l34 8M1498 2054l7 35M1501 2119l4 6M1502 1078l-4-4 25 18v1l12-1 31-3 26 19 13 8-7-36 8-30 9 10v26l1 1-4 30-5 6 4 13 9 27 22-1 2 2-1 26-1 1v22l25 4 3 21-1 2-34 3-2-17 3 30-25 4-5-3-28 4M1504 1143l4-27-2-1M1505 1529l3-19M1506 2188l11 13M1507 1732l8-11 1-32M1507 2156h29l9 6M1508 639l4 41M1508 862l2 35M1508 1116l24-4 3-20M1508 1203l7 6-1 27M1509 1173l24-1 1 1M1510 2226l5 29M1511 1558l4 2 24-2 4-32M1512 1315l8 6 23-5M1513 1261l4 5 27 2M1514 940l37-5v39l35-8 8 8-2 29-34 6-1 31h51l-1 4 33 1 22 1h28l27 1h1l-1 10-22 5 1 22-5 4-20-2-1 1-4 24 4 4 21-2v-25M1514 1293l3-27M1514 1349l6-28M1514 1624l1-32v-32M1515 1008l7-35-1-1M1515 1209l26-5v-1M1515 1238l30-2 6 25M1515 1624v26M1515 1721l30-8 9 6 26-5M1515 1743l3-6M1517 904l28-1 6 32 35-2 1-1 25-2-2 41-16 3M1517 1010l40-1h1M1517 1375l4 4M1518 717l37 4 2 33 11 36 31-1-5-42-2-22-1-14-2-30v-4l-2-32 2 27-37 6M1518 1433l10 8-4 21M1519 1042l5 3 31-2 2-3M1519 1817l3-3-2-34M1520 1852l33-7 3 32M1521 1888l3 26h-1M1522 973l28 2 1-1M1522 1814l30 4M1523 1092l1-47M1524 1914l29-2 8 7M1526 1952l6 31h-1M1527 1496l26-8M1528 1441l21-7-2-25M1529 800l33-3 6 36h1l36-10 3 18-3-19 13-13v-33l-20-1-4-28M1529 836l39-3M1530 863l25 2 19 1 35 1-1-26v1l1 24M1532 1112l3 2 4 30M1532 1983l27-6 1-30 32 2 2-2M1532 2048l1 1-1 38M1533 1172l5-27M1533 2049l31 1M1535 1114h27l5 30-1 1M1535 2120l5 4 31-3 12 12M1536 2156l4-32M1539 1558l5 4 26-5 5-8-6-36-14-1M1541 1204l6 29-2 3M1543 1317l4 30M1543 1684l5-30 3-29-6-4M1544 1380l4-5 28-2v30l-26 2M1544 1562l3 27M1545 903l7-7-5-32M1545 1349l3 26M1545 1713l1-26M1547 1233l23-4M1549 1434l2 1 27 1 4 21-2 3 4 30-1 2M1549 1777l1 1 38-2-3-35M1550 680l10 35 31-4M1550 975l7 34M1550 1778l8 33M1551 1435l2 33 27-8M1551 1625l22-5M1552 896l28 4 7 32M1552 1090l14-1 11 9 15 10M1552 1469l1-1M1552 1745l2-26M1553 1845l1-2M1553 1912l6-32M1554 1744l19-3h8M1555 721l5-6M1555 1043l7 32M1556 1512l21 1h7M1559 1977l8 6-5 31M1562 797l6-7M1562 1114l15-16M1566 2052l33-5-2-31v-1l35-1 1-2 32-2 2 37 35-3-7-31 8-10 40 10 2-12 1-2 29 1 8-11 16-4 6-22-2-2 5-33 27 17 4-3 3-31-1-2-24 4-9 9-21-30-20 16-17-3 4-30 1-1h24l1-22 11-9-20-21-14 2-4-4-27-3-1 34 30-6v1v28M1567 1144l31-7 9-13 14 42v1l-1-4M1567 1171l1 26M1567 1983l27-1 3 33M1567 2088l4 33M1568 1169h30l2 29 26-6-5-25 4 21 17 3M1568 2019l29-3M1569 833l5 33M1569 1513h8l34 1-3 40 29 4 33-10 6 6-3 27 26 3-4-32h7l14 41 3 1 15-3 22-38-54-1M1570 1557l8 32-3 3M1572 1200h26l2-2M1572 1346l5 26 26-1 4 4 32-4 1-2 21-3 5-27 12-10 4 14 13 17 15 4 1-1 28-2 2-4 25 2v-25l-4-4-25 7 4 20M1573 1319l1 25M1575 1264l6 32M1575 1296l24 1h9l3-37M1575 1549l31 6-5 31 6 5 34-11 4 4-4 29 28 4 6-6 27 1-3-28M1576 1373l1-1M1576 1403l2 1 30-2-1-27M1576 1658l4-4 30 1M1577 1234l27-9 1-1 28 2-4-19-3-15M1577 1686l2 2 33-7h30l3 3-2 24-28 4M1578 1404l1 31 29-6 1-27h-1M1578 1436l1-1M1578 1589l23-3M1579 1624l1 30M1579 1688l2 26M1580 900l7-9-3-25M1582 1457l29 4 4-26-7-6M1582 1810l7-34h-1M1583 1880l5-6h36l1 1-4 34M1584 1490l26-5 4 5M1586 933v33M1587 891l7 1-1-1 20 23-1 16M1587 1847l1 27M1589 672v9l2 32 1 12M1589 677l29 5 2-2M1589 1776l27 4 5-5M1591 713h27l2 32-1 29 35 3 3-3-5-27M1592 1003l16 16v21M1592 1842l29 1 3 31M1592 1949l2 32v1M1593 891l16-24M1594 892l19 22v6l-1 16 43-1-4-34-28 6-10 13M1594 1981l35-2 4 33M1598 775l2 22-1-8M1598 1137l4 27 19 2M1598 1169l4-5M1598 1200l7 24M1599 1085l6 31 2 8M1599 1085l-1-5 2-8M1599 1085l16 1M1599 2047l2 2 4 31-3 3M1601 2049l33-6-2-29M1602 1297l3 17M1603 1371l4-27h26l7 25M1604 1225l2 32M1605 822l-5-25 5 26M1605 1116l2 7M1605 1342l2 2M1605 1622l7-10 26 4 3-3M1605 2080l27-2 16 14 8-5 10-7 16-11 33-15-13-10M1606 1050l1-6 51 2h4h5l-2 13-21 3-3 23 29 2M1606 1555l2-1M1607 1591l5 21M1608 842l45 3 3-4h30l4 30-5 4-30-3-4 4M1608 1019l2-48M1608 1297l53 2-25-43 29 1h26h1l20 1 5 26 21-1h1l25-1v26l24 2 1 23-23 1M1608 2119l40-27M1609 1007l2-41 45 3M1609 1402l30 1 3 23M1610 1485l2-23-1-1M1611 966l1-30M1611 1136l31 2v24M1611 1514l25 1-22-1M1612 1117l32-6-5-24 2-2M1612 1462l28 1 3-5M1613 1651l26-4 2 1 1 33M1615 1060h27l2 2M1615 1435l21-2M1616 1087h23M1616 1742h31l1-29-5-5M1616 1780l3 28M1618 682l1 30 29-2M1618 713l1-1M1618 776l1-2M1618 809l34-2 2-30M1618 873l5 34M1620 1742h26h5h-4M1621 1843l2-2-1-31M1622 646l28 1 5 32M1623 1841l33-2 1 1 32 1 2-2h35v-35v-10v-28l-12-3-14-4-5-2-9 9 2 39-2 2 5 32M1625 1188l4 19 4 17 9-11M1625 1875l30-1 2-34M1626 1913l32-1 4 30-34 5 3 30 35-2 1 1 36 1v26M1626 1945l2 2M1629 1979l2-2M1632 2078l5-32 28 3 1 31M1633 1224v2M1633 1344l4-6-1-29M1634 2043l3 3M1635 1243l1 13 35 1-2-17M1636 1256l19 32 6 11-17-1M1637 1338l29 1M1638 1515l-1 43 4 22M1638 1515l27 1 5 32M1638 1515h-2h7M1638 1616l1 31M1639 1371l3 29 25-2 5 30-4 3M1639 1403l3-3M1640 1045l2 15M1640 1463l4 24-1 1M1641 1648h28l2-1-2-30M1642 1138l2-2 23 5 2 17 22 5 3-2 24 3 1 1-1 21-26 3 2 22 3 2h18l4 3 24-5 3 4h22l1 24 1 1h21l3 18h-27l3-18M1643 1190l24-2 23-1 2 2M1644 1111l2 1 20-1M1644 1136l2-24M1644 1164l22-3 3-3M1644 1487l27-1 3 2M1645 1584h25l3-3M1645 1684l26-5-2-31M1646 1742l10 30-3 4M1648 1713l27-3 3-4 24 4 1-34-26 8 1 22M1650 647l32 2-1 32-26-1M1652 807l2 1 2 33M1652 1002l4 2 2 42M1653 714l31-5 31 3 2-3 26-4 1-25-27-9-6 6-29 4 2 28v32l3 2v30l30 2 1 33 1 1 29-1 3 2 29-5 1 1 6 27 36 5v-18l5-4 5-4-10 8v8v31l-23 26-19-14-2-31 8-7M1653 845l2 27M1654 808h30l3 33h-1M1655 1288l6-5 28 1-4 26-10 10-3-10 6 19M1655 1874l4 3 2 31 35 2v-1l39-6-10-24v-11l29 7M1656 742l28-1M1656 1004h29l5 42M1656 1772l30-6M1656 1839l-1-32h31M1657 774h29l1-1M1658 1912l3-4M1659 967l-4-32 26-6M1659 1877l28-6 2-30M1661 1283l4-26M1661 1299l11 11M1661 1366l7 5 2 23 27 3v30l-1 29M1662 1942l5 5 30-8-1-29M1665 1059l3 3 24-2 3 2M1665 1516h30l1-34M1665 2010l2-1v-33M1665 2049l2-2M1666 1161l1 27 3 26 24-3M1666 1975l1-28M1667 1046h24l1 14M1667 1141l2-3 1-23M1667 1217l3-3M1667 1398l3-4M1667 2009l28 4M1668 1062l3 24M1668 1371l28-8-14-20-1-6 30-4 1-24-27 1M1669 1138l26-2-4-23 26-3v-22l-21-4M1670 1238l24-1 3 3 24 1-1 17h26l-4-19h-20l-3-23M1670 1458l1 28M1670 1584l5 27M1671 1257h21l3 1h25M1671 1647l33-2-1 31M1671 1679l6 5M1672 1428l25-1M1675 1320l6 17M1675 1710l4 42-28-10 44 15M1676 1516h19v36l-19 2M1679 1752l21 7 26 7v35v3h10v-8l-10-2M1681 681h1M1682 649h4v-4l19 4-4-23-14-5-1 24M1683 904l2-29M1684 808l1-1 33 1M1685 807l1-33M1685 907l31-1 2-1 30-2 1-2 33 4-2 27 19 18-1 7 2-41 15 1 3 3-4 33-10 9-6-5 16 13 1 24 2 3 2 28 28 2 5-31 27 25 2 17v8l-1-14h-28l-5-5M1685 1004l4-4M1687 743l30-4 30 2 1-1 29-1 6-28-6-6-1-28h-3l-23 5-6-2M1687 841l29-5 3 3 27 5 7-7 26 3M1687 1871l6 4 3 34M1688 1805l38-4M1689 1284l1-1 22 5 2 20-2 1M1690 871l25 3 3 31M1690 939l29-2 2 2-1 29M1690 1187l1-24M1690 1283l1-26M1691 1046l26 1 4-47 30 3h29l6-6 29-3M1693 1875l32-6v10l13 32 2 3-5-11M1694 1161l2-24 18-1 6 5 21-3 4 23 21-3 7 6 21-2 2 25-1 2-3 24 2 2 27-3-3-23 2-3h25v-24h25v27h-1h-21l-3-3M1694 1237l3-24M1695 1136l1 1M1695 1258l2-18M1695 1360l3 5-1 32M1695 1513v3M1695 1513l16-3 3-19 1-2-4-25 6-6 18 4 4 5 24-7-2-20 4-4-3-24h29l-5 24h-21M1695 1513l1-27v-23l15 1M1696 1363l2 2-1 22 15-4-2-19M1696 1439l1-28v-24M1696 1439v24M1696 1439l18-1 3 20M1696 1486l18 5M1697 1411h14l6-23 20-1 3 25-1 1-27-1 3 24-1 2M1697 1939l4 3 35-3-3 36 16 13 6-23-9 34M1701 1600l15-7M1701 1600l-6-48 15 1h17h32h20h10l2-37-1-2-25 1-1 1-24-4-5 5-22-5-2-2M1701 1600l4 32-1 2v21l33-4 13 30 20-3 4 32 2 3-9 16-16-3-11 9 9 20-9 12 10 18-14 11M1701 1734l18 7 3-5 18-1M1701 1734l-1 25 2-49M1701 1734l1-29 18 9 20-12 2-4 32 12M1701 1942l3 34 29-1M1702 1612l3 20-1 13M1702 1705l1-28 39 12 8-8M1703 1677l1-22M1703 1977l1-1M1704 1634l19-17 12 6 18-11 18 15-1 12 7 9-4 27 26 10 2 21 35-6-3 24 17 9 8-4 18 6v22l-20 3-4 29-18-10-6-12 8-12-23-24 20-7M1705 649l2 11 5 10 5 1M1710 1553l3-41M1711 677l6 32M1711 1333l5 4-5 26M1711 1411l1 1M1712 1258h24l2 25M1712 1288l5-4M1712 1383l5 5M1714 1136l5-24 21 4 1 21v1M1714 1308l21 2 2 27h-21M1714 1763l2-2 3-20M1715 712l2 27v36l29-3 1-31M1715 1213l5-25-2-2M1715 1436l23-2 2 3 21 3M1715 1489l22-4 2-18M1715 2054l21-10 9-43 4-13M1716 836l3-27M1716 906l3 31M1716 1761l24 6M1717 1047h34v-44l4-34-34 1M1717 1057l2 2 23 3 5-4h24l-2 26-2 3-23-1-2 28-2 2M1717 1088h1l1-29M1717 1110l2 2M1718 1047h26l3 11M1718 1088l25-3 1 1M1718 1164l2-23M1719 839l-4 35 34-3-3-27M1719 1165l24-2 2-2M1719 1594l4 23M1720 999l1 1M1720 1188l22 5 1 18M1720 1714l2 22M1721 939l29-3-2-33M1721 1241l1-2M1725 1851v17M1725 1869l1-30M1726 1817v-13h29l-2 16M1727 1553l11-12-3-24M1734 1591l18 10 1 11M1735 1310l3-2 1-25M1735 1462l5-25M1735 1623l6 23 29-7M1736 1258h11h19h29h8h-9M1736 1804h28h36h13h-1h-28l-4 8 27 20 8-18 27 6 4-5 27 10-14 23-13-4-9 4-25 1-3 28-19 6-11-9M1736 1939l13-12 6 9v28l15-4 13 29M1736 2044l49-24 4 25-19-6-34 5 7-31M1737 1387l3-3-1-23M1737 1485l4 4h23l1 26M1737 1651l4-5M1738 1308l25 2 1-2M1738 1434l1-21M1738 1541l23-3 3-22M1738 1911l12-6M1740 1384l22 2 5-26-1-1M1740 1412h22l3-23-3-3M1740 1512l1-23M1740 1702l11 24M1741 1137l26-1 1 1 27-1 27 2 1 22 22 2 2-24h24v-22l4-4-6-27h-20l-3 4v20l1 2 24 5M1742 1062l1 23M1742 1114h24l1 22M1742 1193l6-6 20 1 3 24 21 1M1742 1239l1-1 3-23M1742 1689v9M1743 705l4 2 1 33M1743 1163l5 24M1743 1238l26 1M1744 1047h28h4h44l-4-18 3-4M1746 772l3 2-1 34M1746 1258h1h20M1747 707l30-2M1749 774h27l4 31M1749 901v-30h32M1749 1755l21-5-2-18-1-3M1749 1927l-9-13 14 20 22 4-2 17-4 5M1750 936l2 1 28-5M1750 1785l10 2 19-28 18 2 11-29 1-1h4M1751 810l2 27M1751 1047h21h8h15l3 35 22 3v-1l26 5M1752 937l3 32 23 2 21-21 2-51-8-7 17-18 11 13-6 30M1752 1601l13-10-1-38h26l8 25 7 8-7 28h-15l-12 13M1754 1934l1 2v29v-1M1755 1804h29M1755 1845l2-21M1755 1846l25 6M1756 1553h3h5M1760 1787l5 7 34 2 1 8M1761 1538l18 15M1762 1330l1-20M1763 1460v1l27 1-1-23 25-3v-23l25 3 2 21 25-2 3 4 23 5-1 20 2 28h-24l-2-2-27 2-1 24 1 1h24l8 35h17h17l11 12 34-4 3-9-6 17-6 19 25-1h15l-10 28-9 24 14 6 3 14 25-1 1-12 7-9 20 4 3-24 18 5 2-1 4-14-11-11 17-17 7 1 4-3 3-18-5-22-1-3 1 13-29 1h-9l-14 1-31 1h11l2-21-1-3-12 24 4-7-27-5 1-21-3-3-1-21 3-4 21 4v-1l-16-27-9-15-17-14-3 4-1 25 24 4 1 20M1763 1461l2 27-1 1M1764 1282l1-1 1-23M1764 1804l1-10M1765 1281l25 4 1 1 23-2 3 25-3 2-23-4v-21M1765 1389l22-1 3-3-1-22-1-2-21-1M1765 1488l20-1 5 6v21M1765 1591l13 7 5 16M1766 1114l3-3-2-24M1766 1158l2-21M1767 1908l13 23-4 7M1768 1187v1M1768 1187l27 2M1768 1187l5-23M1768 1215l3-3M1768 1732h40M1769 1084l23 3 4 25-1 1v23l-1 25v1M1769 1111l26 2M1770 1678l3-3M1770 1750l9 9M1771 1058l9-11M1771 1822l9-10M1774 1955l29 6M1775 2000l10 19 17-2 11-20-14-12M1776 677l14 1 26 22 1 1 19 3 10 4 19 8 10-3 2 29 16 14-3 1-32 32-16-18-30 4v25l-31 6M1776 774l5-5-1-26-3-4M1776 1047l11-13-7-31M1776 1713l25-5v-2M1777 1648l18-1 8-29-5-4M1778 971l8 26M1778 1598l20-20M1780 743l34-2 3-2 25 2 4-33M1780 1931l27-6 1-3M1781 769l29 4 2 2M1782 905l12-12-1-1 7-7M1783 711l26-3 7-8M1785 1487l6-24-1-1M1785 2019v1M1786 1436l3 3M1787 1034l29-5M1787 1388l4 24 22 1h1M1787 1892l3-9M1788 1310l3-3M1788 1361l5-24-4-4M1789 1363h26v-26l-3-2 2-24M1789 1553h24h11h20l-2 10-10 21-6 6-21-4M1789 2045l14 5 5 1 24 3-3-25 8-9 27 5 5 35 8 4 19 8 32 18 7-2 5-1 16-34 15 1 3-2 6-24-6-8-18 5-3 23 3 5M1790 1285l5-27M1790 1385l27 2 1-22 24-4 2 1h22l3 1-1 23-1 1-3 24 5 4 21-3 3-21 24-1 11-15-11-11 2 1 8-7 4-22h22l21 1 4-20 3-3-5-23h-16l-5-6-24 3 1 21-2 2-27-2-1 1 2 24-5 6 18 24v-1l-24 1v27l-25-5M1790 1493l23-4-1-25-21-1M1790 1553h34h17l31-1M1791 1240l4-3 26 3 2-27-2-1M1791 1516l23-1v-25l-1-1M1791 1843l14-2 7 8M1792 1087l6-5M1793 1337l19-2M1794 893l7 6-1 17M1794 1161l26 2v23M1794 1215l1 22M1795 1047h13h19h17l37-1-33 1 4-15M1795 1647l9 4 15-5 8-24 4-2-5-30M1796 1112l20-3 4-24M1796 1187l22 2M1797 1761l3 4 28 2M1799 1685l8-7 19-1 5-18-12-13M1799 1796l1-2 20-2 14-13M1800 1765v29M1801 1708l8 23M1802 2017l10 10 17 2M1803 1618l24 4M1803 2050l9-23M1804 962l10 8 25 15 6 4-31-19M1804 1651l3 27M1805 1841l2-9M1805 1963l27 1 6 9 32-18 9 14 9 4 3 17 36 7-2 15-24 10-1 30-23 12M1807 1925l1 3M1808 1047l15 13-3 24M1809 708l8 31M1809 1877l4 3 24 2v-34M1810 773l4-32M1810 874l12-14 1-1v-21M1812 800l16 16M1812 1464h1l5-24-4-4M1812 1804l3 10M1813 1413l5-24 21 1 6 20-6 6M1813 1464l25 4 6-5-4-24-22 1M1813 1553l4-36-3-2M1813 1880l4 33M1813 1997l17-1 10-13 14 4 25-18M1814 953l32-2 3 24-10 10M1814 1258h27l-3 26 4 5-5 20 3 4-2 24h-23M1814 1258h-11h17h28l-1-17 23-2 14 11 14-16-1 1h11v-21l24-1-3-30 29 10-3 17 2 2 23 4 5-5-1-19-24-1-2 2M1814 1258l2 25-2 1M1814 1490h24l2 2M1815 1363l3 2M1816 1109l6 4 24-4M1816 1283l22 1M1817 997l31-5 4 4M1817 1309h20M1817 1387l1 2M1817 1517l22-1M1818 920l29 1 2 26 25 2 6-26 4-3 19 4 8-32v-1l23 4 31 2 3 23-1 1 2 31-4 3-2 24-2 2 1 30-30-2 3-25-28-4 3-25 23-1 6 27h22M1820 1047h7h21M1820 1163l3-3M1820 1258l3-17-2-1M1820 1792l11 12 21 1h33l5-11 11-2-1-16 1-4 8-32 1-2 15 2 6-27 17 4 10 13h1l17-6 17 27-11 12-23-33M1821 887l30 4v1l27-2 1 1 32 1M1822 860h28l2-2-2-26 1-1 4-19h7l22-11 7-4 9 21 16 5 3 2 20 8-1 27 3 3 28 3 15-14h-1l-44-19M1822 1113v24v1M1822 1137l22-2 3 3M1823 828l27 4M1823 1060l20-2 1-11M1823 1213l19-1 6-23M1823 1241h24l-1-26h22l5-5 19 3v-1l18-15 8-7 9-9 2 2M1826 1677l5 6 20-8 2-21-22 5M1830 1996l7 24M1831 1620l12 2 7 5 34-8 3-18 21-5 16 23-6 7v28l27-4 7 5 8-7 3-10M1831 1683l5 17 18 1 5 5 27-4-9 32-1 1M1831 1804h-18l38 1h19l7 17-4 3M1832 1584l24 14 7-4-21-31M1832 1964l3-19M1832 2054l7 1 25 3 5 2M1836 1755l8-3 12 8M1837 1882l7 5-3 22M1838 1337l1 1 3 23M1838 1468v22M1838 1973l2 10M1839 1338l28-3-1 27M1839 1390l3-4 2-24M1839 1942l30-1 1 14M1840 1313l26 1 11-13-1-14-34 2M1840 1439l1-2M1840 1517l1 36M1841 1258h17h-10M1842 741l3 3 32-2M1842 771l3-27M1842 1212l4 3M1842 1386l25 1M1842 1820l4 24M1842 1911l27 9 8-12-11-29-22 8M1843 1058l4 3 30-5 5-5-1-5 3 23 19 3-3 28 29 3 3-3-5-28-20-3-2-29 25-4h1l29 3 2 3-7 25 5 7-4 23-24 3M1843 1622l13-24M1844 1135l3-24M1844 1463l18 1 7-25M1844 1553l35-1h10l35-1h6h24l-48 1M1844 1752l6-19M1845 1410l19 1M1846 951l3-4M1846 1815l5-10M1847 921l1-2 3-27M1847 1061l2 24M1848 919l32 4M1848 992l-3-3 25 23 9 9 1 11M1849 975l26 5-3 30 33-4-1-24 3-2M1850 860l1 31M1850 1627l5 26 25 6 1 18-22 7-5 17M1851 831l32 2 1-32M1851 1675l8 9M1852 858l29 2 3-26 25 1 10-10M1852 1789l1 2-1 14M1853 1654l2-1M1853 1791l24-9 3-20-4-5M1854 1987l4 5 8 30-2 3M1855 812h-22l24-22 1-1M1858 1258l17 14 1 7 26 6 6-23-3-4h-27l19-23M1858 1729l1-23M1858 1992l30 2 3-4M1859 1848l8 10 44-21-10 42 2 3-13 24-13 2M1862 1464l5 5v21M1863 1594l18-1 6 8M1864 1517l4-4 1-21M1866 1314l2 19 24 4-3 24 4 3M1866 1435l3-20M1866 1879l3-5 32 5M1866 2022l19-10 16 10M1867 1335l1-2M1867 1469l24-5 23 5 2 19-1 2-22 3v-1M1867 1858l2 16M1868 1215l2 24M1868 1513l25 4 1 1 23-1 7 34M1869 1085l4-4 16 5 13 16-6 7 5 24-5 5h-25v22l23 3 3-2h25l11 13 6-6 2-22-2 19v3l-12 13M1869 1189l4 21M1869 1363l20-2M1869 1920l4 16-4 5M1870 1012l2-2M1870 1162l1-2M1870 1189l26-4-2-22M1870 1805h31l3 10 24 2 6-21-33-6-1-14 4-14 5-22 3-6h-35M1873 1081l4-25M1873 1936h7l-4 14 16-1 2-23 5-2 4-21-7-10 12-22 9-16-4-13 17-2 8 10 14 5-4 25-22 1-2 22h-21M1874 949l5 6-3 24 28 3M1875 713l19-7 11 3 13 4 20 6 19-1-24 16-24 13-16 9M1875 980l1-1M1875 1112l21-3M1876 1260l8-10M1876 1260l2-2M1876 1260l-1 12 1 15M1876 1279l1 25v-3M1877 1782l13 12M1877 1822l31 5 3 10 6 18-14 27M1878 890l5-27-2-3M1879 891l5 29M1879 955l26-4 5 4M1879 1552l2 41M1880 1309l22 1M1880 1309l14 26 23 28M1880 1309l-3-5 17 31 5 5M1880 1659l9-10 29 5v24l-2 1-9 34 10 11 15-28 1-4 16-33h12v35l-3 3-10 20M1880 1762h24M1880 1936l7-26-3 12-8 28 28-1h26l-2 16 27-5-2-12-9 1h-15h-37M1881 1038h21l3 2M1881 1677l7 8 28-6M1882 1051l4 31 14 18 14 18-12-16M1883 833l1 1M1883 863l26 1 2 27M1884 1069l2 13 3 4M1884 1619l3 5 31 2M1884 1922l10 4M1885 1805h16v-15M1885 2012l3-18M1886 1702h1l20 11M1887 1624l2 25M1887 1702l1-17M1888 1973l19-12 17 7 4-3M1889 1552l5-34M1890 1412l3 4h26l-1 24 27-1M1890 1906l-3 4 9-17M1892 1213l6 21-6-22 8-7 8 9M1892 1337l2-2M1892 1444l2-2 23-1 1-1M1893 1416l1 26M1893 1493v24M1896 1138l1 23M1896 1185l14 12M1899 1924l26 5 1-2 30-11 1-15-32 4 1 22M1900 1205l18-15 15-16M1900 2052l16 2 13-11 24 5M1901 1133l21 5v23M1901 1772l30-8 8 4 14-2 3-34 2-2M1901 1792v13l7 22M1902 1038l3-32 26 4 1-1M1902 1285l3 4 23-4 3 3M1903 924l3 2-1 25M1903 1072l4-3M1903 1309l2-20M1904 1334l24-1 3 3M1904 1815l9 27M1904 1949l3 12M1905 709l4 38M1905 1258l4-22-1-1M1906 926l28-2v-29l7-32M1908 1262l20 2 3-3 25 5-1 19M1908 1596l9-11v-21M1908 1871l9 2 9 8M1909 835l2 27 27-2M1909 864l2-2M1909 1236l23 2-1 23M1910 1738l15-30 7-12 3-7-17-11M1912 1734l5-10M1914 1469l7-7-4-21M1915 1490l4 24 21-2 3 3v26l-13 10M1916 1488h23l4-23 1-1M1916 2054l19 34M1917 1390l5 23-3 3M1917 1517l2-3M1917 1585l26 10-1 22-18 2M1917 1873l21-23M1919 1365l24 26 7-5 23 2 3 24-4 2-2 24-8 8 3 3 8 14-5 5M1921 1462l22 3M1922 1138l6-6 13 14-5-5-1-2-21-21 23-1-2 22M1922 1413l20 1-3 14 9 7M1924 1903l1 2M1924 1968l4 28-1 1M1925 1708l6 5M1925 1740l5 5 26-13M1925 1929l4 20M1925 2012l4 5v26M1927 1072l6-5h22M1927 1358l25 4-2 24M1928 1132l-14-14 16-1 31-1 29-1 25-1 15-1 5 31 2 1 24-5-1 30 23-3 2 28-25-4-4 4h-23l-3-3 5-23-24-2-2-2h-25l-1-1 2-24-23-3-3 3 1 25h-21M1928 1264v21M1928 1333l2-22M1928 1375l18 20-4 19M1928 1817l7 8 12-3 14 11 9-5 20 19 12-2 4 4v17l9 11-26 23-2-1-3-2h-25l-2 4M1928 1996l26-4 6-2 19 11-5 19M1929 1103l1 14M1929 2017l24 6 3 2M1930 1036l3 31M1930 1745l1 19M1930 1840l5-15M1930 1949h14l32-1-10-18 14-6 19 12-7 16h-3l-4 21 10 17 9 15-6-11-19 7M1931 1010v26M1932 1213l1 1 22-4M1932 1238l1-1v-23M1932 1309l22 3v-1l6-20M1933 954l6-6 26 7M1933 1237l24 1v-26M1933 1692l25 5M1934 924l4 4 1 20M1934 1796l3-3 2-25M1935 984l4-3M1935 1689l14-30 31-1M1936 1141l23-1M1937 832l-21-9 25-16h2l-6 25 41 18 5 2 16 7-15-7M1937 1117l22-1 27-1h4l17-1-17-15-3-26-27 1M1937 1793l11 5 22-26-17-6M1938 928l29-7M1939 1488l2 3-1 21M1940 2087l38-9h3l-10-24M1941 1491l25 1M1942 1413l30 1M1942 1413l4-18-3-4M1942 1413l-3 15 23 18M1942 1617l4 4 24-2-10 29-11 11 3-4M1943 807l26-11 12 11 35 3 2 53 6 1 4 32-28 2-4 25-28-3M1943 1515l24-2M1943 1541h22l4-4M1943 1595l9-8h-10l9-27M1944 1949l19-20 3 1M1945 1650l1-29M1947 1822l7-17h17l7-12-1-20 1-1 4-9M1948 1568l19-1v19M1948 1798l6 7M1948 1880l6 6 24-19-3-9 15-11M1952 1361h21l3-22 24 3 25-2 2 2-3 24h-22v24v1h19l3 23-27-1 5-22M1952 1361l1-25 1-24M1952 1361v1M1952 1587l30-1v-2l15 13-6 18 21 6-2-27-13 3M1952 1855l5-3 4-19M1953 1948l37-1-1 5M1953 2023l1-31M1954 1311l24 6M1954 1886l5 11M1955 1960l7 5-2 25M1956 1097l5 4 29-2M1956 1266l2-2 23 1 2 1 20-3 1 1 2 27 22-1 2 3 22 4 1 17 23 5-1 20 18 4-3 23-13 1-3-2-2-23h-18l-4-24-23 2-2 20M1956 1916l7 13M1957 1238l1 1 21-2h1l24 2-1 24M1957 1852l18 6M1958 1239v25M1959 1116l3 21M1960 1039l5-25-3-3M1960 1165l2 1 21-2M1960 1191l2-25M1961 1101v15M1961 1659l9-1 30-1h9h-4M1961 1694l22 13 2 6-9 11M1962 1042l25 5 7-7 27 6 2-1-1-30 2-2 3-25 26-3 2-26-2-3 5-4 35-46-15 37-4 17-19-1M1962 1965l26-9-3 17 13 21M1963 979l29 6 5-30-3-3 2-29 27 3 1 29h25l-3 8 7-7M1965 897l4-5v-26M1965 1014l27-3 1 1 29 3M1965 1541l5 24 17 1 5-17-6 20 26 3 11-24M1967 1567l3-2M1969 796l6-3 34-23 6-4 9 13 18-27-27 14M1969 892l29 4 2 2M1969 952h25M1970 1438l25 2v21l-1 2-20 1M1970 1516l39-5 2 1-15 30M1970 1619l12-33 5-20M1970 1658l21 30 18-1 8 8-19 21 6 7 25 1 4-4-3-15-7-9-6-1M1970 1772l7 1M1970 1828l6-9 26 3 1 2-1 21M1971 1805l5 14M1972 1614l14 4 5-3M1973 1361l6 6 20-4 3 3M1973 1388l2-2 27 4M1973 1463l17 28 1 2 20 19 7-1v-20l1-1 28 4 4 3-3 6-26 7 8 5 13 2 7 6 3 16h-23v-24M1974 1337l2 2M1974 2052h28v-20l14-13 12 21 6 18 7 18-9 15-16-7-19-3 10-23h27M1975 1386l4-19M1976 1291l5-4 2-21M1976 1412l20 3 1-2M1976 1948l14-1-2 9M1977 1644l10-12 19 13M1978 850l3-43M1978 1772l33 11 4 12 18 4 2 1 20-3 16 11-2 27-2 44v5l-30-6-9 5-13-6M1978 1793l27 14-3 15M1978 1867l8 10-2 20M1979 1237l2 28M1980 1216v21M1980 1924l7-25M1980 2028l22 4M1981 1287l22 6 3-2M1981 1314h19v28l-1 21M1981 2078l16 3M1982 1584l4-15M1983 1707l8-19M1984 1165l2 24 22 1 2-1 20 3M1984 1192l2-3M1985 1140l1-1v-24M1985 1211l23 5v-26M1985 1713l13 3M1986 1139l21 1 8-26M1986 1618l1 14M1986 1877l20-11M1987 1047l2 24-2 2M1989 1071l30-1 2-24M1989 1900l13 8 24-9 5 9-13 23 9 8-1 20 3 6-2 10 45 10 4 3v3l-44 5-7-15 2-6M1990 1492l19 19M1991 1493l5-4 22 2M1992 985l2 2-2 24M1992 1952l2 3 32 4M1993 1012l1 28M1993 1751l9-3 2-25M1994 987l30-2 3 3M1994 1463l2 26M1994 1955l6 31-5 4M1995 1440l3-5 22 3 2 2 23 1-3 23-20 3-3 23M1995 1461l23 1 4 5M1996 1415l2 20M1997 955l26 1 1-1M1998 896l2-37 24 5 25-17 32 1 3 4-6 36 2 2-5 10-12 22-10 23-4 10M1999 1936l8-7 11 2M2000 859h-1l19 4M2000 1314l1-1 2-20M2000 1657l10 12-1 18M2000 1986l25-5M2001 1313l25 6 1 1M2002 1748l4 1 20-8 10 10 22-8 3 2 13 1-1 31-2 31M2002 1908l5 21M2002 2052l5 6M2003 1549l23-1 35-2h5h9v-10M2003 1824l35 1 2-1-5-24M2004 1239l3-3 25 6 3-22 21-2v-23M2004 1264h26l2-21v-1M2004 1525l7-13 11-2M2005 1528l23 13 2-2M2005 1807l10-12M2006 1749l12 21-7 13M2006 1849l17-1 15-23M2007 1114l12-1 1-40-1-3M2007 1140l6 5-4 20M2007 1236l1-20 21-3 4-18M2010 1189l1-22M2010 1669l21-4 8 9-16 22M2012 1621l1 1v14M2013 1145l22-1M2013 1622l20-8 3 2M2016 810l15-13h4l12 8 2 42M2016 2019l-2-4-13-7 3-3 16-8 12-1M2018 1462l4-22M2018 1511l30-8 5-10 2 4-12 20M2018 1770l16-5 2-14M2019 1113l46-2-35 2M2020 1073h38l-1-1 3-28 2-20 1-6-39-5M2020 1438l4-23h20l5-21 5-4 21 3 7 6-4 16-2 7-5 29-6 14-14 32M2021 1391l5-4 23 7M2023 926l1-1 4-29 22 1-1 8 14 17-6 6-4 17M2023 956l1 29M2023 1045l37-1M2023 1848l14 11v19M2024 779v1l-11 15 18 2M2024 864l10 2 16 14v17M2024 925l33 3M2024 1366l3 3-1 18M2024 1414v1M2026 1319l4-26M2026 1548l2-7M2026 1741l3-17M2026 1899l2-16M2027 1342l24 3 3-3M2027 1369l23-2 1-22M2027 1939l24-7 6 3 1 13 15 5 3 35M2028 1290l4-23-2-3M2028 1656l10-11-5-5M2028 1656l28-1h14l3-1h6h8l11-32-16-7-2-9-8-6-12 6M2028 1656l-19 1 23-1 30-1h8M2029 1213l6 7M2029 1965l25-6 4-11M2030 1705l30-11-6-18-15-2M2031 1665l1-9M2031 1908l15 6 22-23-1-7M2032 1243h27l1 1 28 2-2-30 16 3-1 17-1 2-1 20-9 11v6l29 6v-1l23 4 2-2 15-1 1 23 17-1 5 6 19-1 1 1-1 17 16 6 7-6-3-17h-19M2032 1267l23 3 5-26M2033 1600v14M2033 1600l-23-6 2-22 24 11 3-5 21-3-14-28M2033 1600l4-5h12M2033 1720l18 4 13-27 13 3 2-31-17-3-8 10M2033 1799l11-26h12l5-28M2034 1765l10 8M2035 1169l2-1v-23M2036 1583l1 12M2037 1168l20 5 3 18M2037 1547l2 31M2037 1859l28-24h4M2038 1645l8 1 10 9M2040 1824l25 11M2042 1464l3 3 20-2M2044 1415l3 4v21l25 6-1 5 22-9 6-3-13 6 4-21 17-3 3 3-2 15h-9l13 1h13l9 16 15-6 4 16 17-4v-9l4-4 20 2 2-2 11-1 5-16 12 3 7 8 17-7 6 7 9 1 5-4 3-13 13-2 6 14-6 7-1 7 7 8-11 18-9 1-3 3-2 13 20 4-2 22-13 1-5-26v-1M2045 1441l2-1M2045 1467l2 27M2046 1646l8-25M2046 1914l5 18M2047 805l19 12 19 2-4 29M2047 1419l30-2-5 29M2049 905l1-19 28 2M2050 880v6M2050 1318l3-4M2050 1367l1 2 23-4M2050 1523l19-10 2-2v-7l-16-7M2051 1369l3 21M2051 1724l5 6 20-9 1-21M2052 1297l3-4 25 2-4 24h17l1 19-1 5M2053 985l13 16 4-21 4-20M2053 1493l7-15 10-25 5 9-1 12v1l-3 28v1M2053 1539l8 7M2054 1959l18 26M2055 1270h1l34 2-2-26M2055 1293l1-23M2055 1797l4-22-3-2M2056 1218l2 2 1 23M2056 1620l13 6 10 28M2056 1730l2 13M2057 1173l3-3M2057 1935l14-6 2 24M2058 1073l7 38 6 20 8 26 4 9 13 7 5-2 4 4 21 1 1-1 22 5 2-21 15-2h3l23-2-2 25h22l2-25h-16l-18 1-14 1-16 2 9-32 22 5 3-2 24 2v1l26 7 1-1-1-29 5-4 5-21-2-3h-27l-1-2 3-23 1-1 24 3v23M2058 1220l28-4-1-20-2-30v1M2059 1775l14 2M2060 1478l14-4M2060 1575l6 3M2060 1694l4 3M2061 1140l10-9M2062 1655v11M2063 1018l3-17M2066 1546l3-33M2067 1887v-8l1-20 2-34 2-31 24 3 5 11h19l6-6 25 3-4-26-11-3-6-29-28-1-4-4-24 3 3-40 16-2 12 15 26-6-5-19-20-8 9-33-42 2 6 7v8M2067 1887l3 26 15 9-5 31-7 7-3-47M2067 1887h21l11-11 17 10-1 25-3 3h-17l-10 8M2068 1859l15-4 7-25 5-3 6-19M2068 1891l3 38M2069 1626l13-11M2070 1453l1-2 15-6M2070 1825l20 5M2071 1503l16-5 6 5 8 2 8-6 12 3 9-21-18-4-2-14 23-1 1-6M2071 1511l13 10 7 11 11-1h26l-1-20-6-9M2072 1342l3-3M2072 1600l1-21M2072 1794l1-30 1-19M2073 1764l27 20-4 13M2073 1960l3 31h19l5-26 5 20 23-16 4 23-8-50 21-1 40-2 19-1 4-1 36-2 20-1 11 24 1 1-5 30 16 5 19-6 22 15 1 2 17-12 14 8 1-1 11-6 15-35-5-8 34-1 1 11-11 7-19-9M2074 1475l16 6h1l5-18 13-1 3-22M2074 1746l2-25M2075 1393l2-26M2075 1462l17-3 1-17M2076 1422h12l-3-23-2-3 4-15 25 2 1 1-3 18 21 5 1-1v-20l3-2 1-20h19l3-18 19 2 1-1 2-18 17 1 1 19-20-2M2077 1417l1-2 5-19M2077 1576l19 7 4-1 23 2 6-20 13-4 12 25-5 4-26-4v14v1l13 11 2 11-4 4-1 25h-2h-5l10 25-10 17M2077 1705l2-34 18 19 9-5M2079 1661v10M2080 890l8-17 21 8 16-21v-1l28-12 4-31 40 10-4 24 11 2 41-12-13-17-13-15-22 18M2080 1295l11-8 2 32M2080 1558l23 2 1 2 25 2-18-33 32-1 23-1h-6l5-16 4-4 21 7v-26l-2-2 7-20 10 1 2 2 17-2 3 8h17l1-16v-1l-16-4 2-13M2080 1606l16-10 8 11 19-8M2080 1953l39-4-7-35M2082 1399l7-28-2 10M2083 1855l15 14 1 7M2084 852l36 3 5 4M2084 1521l9-18M2085 819l16 3 20-12 14-7 11-3 11 16M2085 1195l1 21 2 21 2 32M2085 1196h20v1l20-1 1-20M2085 1399l23 5 2-2M2087 1498l3-17M2087 1654l26-2 18-1 32-2 24-1 5-1 35-2 5 21 7 27 15 3-2 20 21-3 4 6-11 17 3 3 19-4 5-4 13 7-2 12-18 8 9 17 4-1 13 20 6-2 5-9 3-1 8-22 11 4 9-5 1-15 14-1 8-18 18 8 5-5 18-2-1-24-1-1-14-17 8-4 6-18-6-13 5-15 28-1 2-1 29 6 2 3-5 24-3 29 13 5 6 23 3 4-12 27-3 2 12 12-2-2-6 5-10 26 6 4 15-5 4-8-7-20 8 24 8-6 2-30-27-2M2088 1237l12 1M2088 1422l2 2M2088 1887l7 27M2090 1272l1 15M2090 1275l2 24 1 22 22-2 5-17 18 1h2l2-19M2090 1366l-1 5 2-14 22 4 2 4 21-1-2-22 1-1 2-16-1-1 2-21M2091 1357l3-18 24 2-3-21v-1M2091 1481l14 2 4 16M2091 1532l-17 1 35-2h2M2092 1299l26 1 1-19M2092 1459l4 4M2093 1321l1 17v1M2093 1703l4-13M2095 1827l20 13 28-9-23-23M2096 1583v13M2098 1622l3-2 3-13M2098 1742l7-24M2098 1869l17-13 15 9v15l20 11v1l15 4 13-10 25 3 1-1 7-20 20-2 6 27-6 6-27-11M2099 1258l20-2 4-17h-1v-19l4-4 19 5 2-2 19 5 2-2 19 2-3 18-19-1 1-17M2100 1582l4-20M2100 1784l7-7-5-31M2101 1171l16-7 4-3 8-1-2 15M2101 1236l21 3M2101 1505l1 26M2101 1620l14 5 8-25M2102 1219l3-3v-19M2103 1560l6-29M2105 1175v21M2105 1216l17 4M2105 1483l7-6M2105 1985l2 12 25-5 13-2 10-2 39-6 17 5-26-41v-7M2107 1421l1-17M2107 1777h27l2-1M2108 1439l20 2 2-12 19-1 7 8-25 5 22-5 6-1-3 1M2109 1462l1 1M2110 1424l17 1 3 4M2112 1383l3-18M2113 1361l6-19-1-1M2113 1384l19 2M2113 1652l3-26h18M2115 1320l21 4M2115 1625l1 1M2115 1652l11-1M2115 1840v16M2115 1911l22 1 6 12 33 3-3 12 31-1 16-1 17-2-6-36M2116 1886l14-6M2118 1300l2 2M2119 1256l5 7-5 17M2119 1342h15M2119 1949l6 3-1-10 14-1 5-17M2120 855l1-45M2123 1239l18 1h1v19l20 3-1 18 20 4-4 19M2123 1584v1M2124 1263l15-1 5 20M2125 1196l3 2 18-1 3-17 22 1-2 20h-19l-4-4M2125 1440l6 1h-3M2125 1952l3 17M2126 1216l2-18M2126 1802l8-25M2127 995l15 3 3 23-10 10-9-33 1-3 10-37 13 12-6 26 25 2 2 3 23 2-2 22 4 6 25-1h1l23 4 4-4 23 2 6-18-5-6 2-9 12-14 13-6-3 33-19 2M2127 1425l4-18M2127 1511l18-11 6 7 14 6M2128 1531l6-1 17-23M2129 1160l22-1M2130 1747l5-5 33 5h9l16-4 20 13-3 13 28 16-4 17 10 10-7 23h-17l-6 5-3 28-24-14-13 6-17-4-7 35M2130 1865l21-16 6 7M2131 1712l3 1 1 29M2132 1406l19 2 2-21 2-1 2-20-2-2M2133 1462l2 4-5 15 17 9 7-4 16 2-1 21M2133 1651l25-2-3-23 2-1 24 7 5-4-1-12 8-6 13 3 4 22 22-4-1-14-4-8 5-16-3-3-16-1-5-18 7-4-6-23-12-3-7 9 1 22-2 3-2 8 8 9 12 1 5 15 15 1M2134 1530l26-1M2134 1713l14-3 12-24 5-3-2-34M2135 1031l3 12 3 12 7 31 1 4-9 35 18-1 1 3M2135 1341l21 3 2 2M2135 1384l18 3M2135 1466l15 2 4 18M2136 1611l13-11 16 11-8 14M2136 1676l24 10M2137 958l1-5 3-14 3-8 23-24v29l6-21 6 8h26l-3 24-5 5 2 24-1 2-27-5-2 25M2137 1325l21-2 3 3-5 18M2137 1912l13-20M2138 1043l25 8-6 28-7 7h-2M2138 1622l17 4M2138 1941l35-2M2139 1262l3-3M2140 1125l-3 10-16 26 29-2M2140 1303l17 4 3-3M2141 939l32 4 6-20M2141 1240l4-19M2142 998l2-2M2142 1240l22 3v17l-2 2M2142 1560l4-4 17 2 10-9 17 1M2143 1530l3 9 23 1 2-11 22-1 4 13M2143 1831l5 1 6-7 1-11-4-9M2145 1021l19 1 4 5 24-2M2145 1500l2-10M2145 1941l10 46v1M2146 800l28-7 12-3 5 20 27-3 1 1M2146 1539v17M2147 1219l3-18M2147 1779l9-4 12-28-5-26 21-12 12 20 22-12 9 13-6 22-8 4M2148 1710l15 11M2148 1832l3 17M2149 1428l2-19h18l2-2v-18l-16-3M2149 1450l6-5-2-9M2149 1589v11M2150 970h18l7-22 22 4M2150 1086l10 14 27 3-3 27M2150 1468l3-2M2151 1408v1M2153 847l11-4 29 7M2154 1585l6-1 12 7-2 17-5 3M2154 1825l34 3 12-22 5-2 29-2M2155 1445l15 8M2155 1814l25-19 20 11M2155 1987l30-41M2156 1775l20 10 11-12-10-26M2157 1079l31-4 3 3 23 2M2157 1307l1 16M2157 1366l17 2 4-3-1-17M2158 1124l2-24M2158 1649l17-1 17-1 13-1 22-1 15-1-5-9 20-18-4-10-22 10M2159 1281l2-1M2160 1584l6-19 23 10M2161 1326h17l2 3M2163 1051l4-2 1-22M2163 1558l3 7M2164 1022l7-21M2164 1243l1-2M2164 1260l18 2 1 1-2 21 17 2 3 3v19M2165 1683l20 6 3 6-4 14M2165 1896l12 29-1 2M2167 1049l22 4-1 22M2168 970l3 3M2168 1222l2-19-1-2M2169 1157l3 23-1 1M2169 1409l4 23 14-3 13-20-1 1-9 15 22 7 4-16-17-6M2169 1540l4 9M2170 1203l20 1-1 19 16 5v15l-3 3 2 20 18 1 3 21-2 19 21 3-2-22h-17l-24 1M2170 1462l1 3 23 2 1 1M2170 1608l15 8M2171 1389l5-3 15 2 12 15 14-29-1-2 5-21h20l6-7-1-16-3-32v-2l11-10 22-1 2-21-17-5 1-18 20 1v19l17 3 5-20 3-2 19 7 4-2 17 4 7-23 17 1 2 2 24 1 2 2h18l3 2-3 20 19 6 5-24-2-2h-19M2171 1407l30 1 2-5M2171 1465l-1 23h18M2171 1529h-5l23-1 2-12h-1M2172 1180l18 1v-1M2172 1591l15-8M2173 915l4-14 3-8 26 8-1 22 21 4 3 26 24 1-2 27-23 1-5 23-2 1 1 24M2173 943l2 5M2173 1432l-14 3 20-4-5 18M2174 1368l2 18M2174 1860l4 26M2175 1648l6-16M2176 1785l4 10M2177 1925l23-3 3-33M2178 1326l4-17M2178 1365l18 3 1-1 19 5M2179 1431l8-2 2-3 7 23M2180 893l14-29 11-3 5 1-4 38v1M2180 1156l1-24M2182 1262l5-16-3-4M2183 1263l21 4-6 19M2185 1689l12-20 36 1-6-25 26-2-11 1M2186 1628l21 10 3-3M2187 1224l2-1M2187 1246h15M2187 1648l10 21M2187 1773h20l3-4M2187 1854l2-21 25 7M2188 1695l31 8-1 14M2188 1828l1 5M2189 1053l2-1 5-21M2189 1426l1-1M2189 1528l17-1 2-14 9 3v1l3 9-14 1M2190 1181l2 21-2 2M2190 1490l18 2-1 21h1M2191 1052l26 5M2191 1078l-4 25 26 4 21 3M2191 1388l5-20M2191 1516l16-3M2191 1572l17-1M2192 1155h6h6l4-22M2192 1202l18 1 24 2-2-22-19-2-1-1M2193 1528l32-2h8l20-1 17-2M2193 1610l2-18M2193 1743l3-14M2194 1003l2-2 2-23M2194 1451v16M2196 1001l25 5M2197 1330l4-4M2197 1367l2-17-1-1M2199 976l23-2 6 8M2199 1350l18-3 4 4M2200 1922l20 15M2201 1408l-1 1 10-21 7 8 23 3 2-2h5l13-13h9l7-6-1-14-11-5-10 2-15-9 8-8 15-1 2 16M2202 947l25 7 2-1M2204 1155l26 1 1 11 3 30 9-10 21 6 4-22 4-2-1-18-22 3v14l19 3M2204 1266v1M2205 1228l5-3 17 2 9-6 2 25-12 1 1-20M2205 1243l19 5 2-1M2205 1469l6-17-4-4M2205 1646l2-8M2206 900l24-2 5 5 25-1-4 26-1 1-1 24 35 4 1 2-12 24-12 24-2 3 3-3 6 1M2206 1613l6-5M2207 1471l2 20-1 1M2207 1593l6-4M2207 1773l-2 31 15 31M2208 1132l5-25 2-25M2208 1937l30 19 6-21M2209 1491l15-1 7 6-14 20M2209 1544l3-2 13-16M2210 862l23 7 2 1-5 28M2210 1225v-22l3-22M2210 1388l4-8 3-6 18-18 4-4M2211 1452l18 4-5 13M2211 1987l14 4 21 6 4 7 21-15M2212 1542l25 11v1l-2 9 22 14 1 13 13 3 6 25 15-8 11 13h8l-8 16h-4l-35 3 1 6 12 11 23-12-1-8M2214 1155l16 1 2 27M2214 1380l21-3v-21M2215 1567l14 2v21M2216 1416l4-3-3-17M2217 1332v15M2217 1374l24-23M2217 1517l25-2-1-13-4-4-6-2M2218 1056l3-26M2219 1703l18-16-4-17M2220 1413l15 4-11 18M2220 1526l28-1-6-10M2221 1309l2-2M2221 1752l34 10 1 3 8 32 9 21 4 9 4 11-2 6-5 16v1l24 1 2 21h12l5 7 2 9-21 7v12l-13 11-5-30-1-7-3-19 21 12 3-2M2222 974l5-20M2222 1267l2-2 16 1 2 22M2223 1005l27 3-1 22M2224 1248v17M2224 1326l22 5-2-21M2224 1490l3-13M2225 1991l13-35 37 2M2226 927l5-3 4-21M2227 1730l20-2 7 27 6 26 1 6 23 19 8-6-1-20h-29l14-22-6-9-16 6M2229 1569l6-6M2231 924l24 5M2231 1167l14 4-2 16M2231 1866l8-4 31 24 8-2-4-24 6-20 21-6 1-3 10-14 12-1 5 9 11 7 15-9h2l4 3 22-5-1-16 7-5 14 6 3 10-1 3 7 11-4 11 15 11-11 16 11 10 18-8 1-9-19-9 11-20 5 1 9 7 5 11-11 10M2232 1156l40-5-12-15 4-19-25-11M2232 1156l2-16M2232 1156h-2l19-2M2232 1593l24-2 2-1M2232 1631l5 4M2232 1666l14 2 25 6-4 17-9 2-12-25 19-20M2233 1526l4 27M2234 1197l1 14 25 3 6-19h20l3-2 19 6v1l-3 20 3 3-1 17M2234 1205l2 16M2235 870l19 11 13 13-7 8M2235 1139l25-3M2235 1211l2 26h23l2 2M2235 1377l2 2 5 18M2235 1417h1l12 7v12M2236 1417l4-18M2237 1237l2 19 4 38M2237 1379l12-4 5-14M2237 1498l10-18 20 3M2237 1554l17-8 3-2 1-20 11-1 33-2 16-1 12-1 12-9-1-6-19-5-1 21 9-1 33-24 20-15 18-18 3 6 16 6-4 20-15-13 3-13M2237 1687l10 41-1-3 6-9M2237 1835l6 13 36-4M2237 1893l30-3-18 45 36-3v-3M2237 1935h12M2238 1246l2 20M2238 1785l18-20M2239 1256l16 5 6-4M2239 1693l7 32M2239 1862l4-14M2241 1502l24-5M2242 1059l4-4 22 3 6-22-2-4M2243 1296l32 14-4 16-25 2M2244 1085h20l8-21 22 1 1 1-1 22 27 8 2 2-3 3-2 14-1 6-15 26-12 1-18 3M2244 1477l3 3M2244 1812l26-1 7 16M2245 1034l1 21M2245 1171l4-3M2245 1460l9-17M2245 1461l20 5 5 14M2246 1331l1 13 18-2 16 17-6 5M2247 1397l9 7 13-9 7 10-15 13 10 9M2248 1424l13-6-5-14M2248 1525h5l5-1M2249 1375l11 9M2250 1008l2-3v-23l-1-1M2250 2004l17 26 21 2 1 1 39-27 1-1M2252 982l26 1M2252 1005l14 2M2253 954l1-1M2253 1607l3-16M2254 1284l1-23M2254 1546l7 25 15-8 3-8 9-5-19-27M2254 1696l4-3M2255 1762l-8-34 19 8M2256 928l27 1 6 28M2257 1544l22 11M2257 1577l4-6M2257 1617l18 7 2-6M2260 1214l3 4h21l2-23M2260 1237l3-19M2260 1781l2-1M2261 1787l3 10 6 14M2262 1343l3-1 5 6 14 14v1l30 8 5-2-6 14 2 5 18 7h1l13-4 6-5 10 5 16-9 10 25 5 13-7-18-9-22-18-14-7-5-18 4 7-29-2-22 3-3v-15l2-3-1-22 5-4 19 6-2 17-21 3M2263 1444l5 15 15-6M2264 1117l1-1 22-3 5 4 26-2M2264 1193l2 2M2264 1642l-11 1 24-2 26-2 11-1 14-2-7 19 18 5 1-25 36-3-19 1-40 4-3 1M2264 1934l21-2 4 9 6 12 11 35M2265 1116l-1-31 24 8 6-5M2265 1466l3-7M2267 894l11 11 5 24M2267 1007l8-8M2267 1691l9 6 13-1 1-21 7-2 9-20-6-6M2267 1890l3-4M2268 1058l4 6M2268 1440l16 6M2269 1384v11M2269 1739l1 10M2270 1348l3-18-2-4M2271 1151l25-3 6-1 12 4-1 22-24 1v19M2271 1593l13-5 5 2 9 7-6 13M2271 1674l6-6 13 7M2272 1169l17 5 7-26M2273 1330l22 5 2-2v-21h21l3 3 19-1M2273 1713l3-16M2273 1818l11-11 18 24M2274 1036l22 5-2 24M2274 1861l2 12M2275 1310l4-3 14 1 10-20 16 2h1l23 6M2275 1624l3 13-1 4M2276 1283h1l2 24M2276 1378l15 7-1 20 19 1 4 18-2 3-4 14-1 1-16-3M2276 1405l12 2 2-2M2276 1563l8 16v9M2276 1758h9l3-23M2276 1959l19-7v1l37-1-4 51M2277 1283h22l4 5M2277 1659v9M2277 1719l14 3 6-11-4-13-4-2M2278 1262l4-3M2278 1637l25-14M2278 1884l1 8 6 40 10 20M2279 1479l12 6 11-2 1-23-13 1M2280 1840l1-2M2280 1899h12l6 7M2281 1359l3 4 13 3 17 5 11-3-7-11-26-3-8 8M2282 1240l2-1 20 3M2283 1522l18-1 20-1M2284 1218l2 2-2 19M2284 1425l4-7 23 9M2284 1579l16-16 5 8-16 19M2284 1806v1M2285 1500l5-3 1-12M2285 1758h1M2286 1220h19M2287 1113l1-20M2287 1994l1 38M2288 1407v11M2288 1550l9-1 5-4v-24M2289 1941l26 6 7 5 39-1h8l24-1 4-22 18 11-4 11h-18M2290 1148l2-31M2290 1497l12 11-1 13M2291 1385l6-2v-17M2291 1722l2 9M2291 1780l4-5M2292 1354l3-19M2292 1800h10l10-6M2292 1899l5-14M2293 1308l4 4M2293 1698l20-11v-4l-16-10M2295 1066h25l3-3 24 4v-19l-2-7-22-2v24M2295 1953l27-1 12-26 1-1 19 6v1l16-12 10 10-11 21M2296 1041l2-2h25l2-24 8-7 12 33M2297 1333l19 3 2 21M2297 1383h16M2297 1549l3 14M2297 1711l18 2 3 4 15 3 6-6 16 7 2 2 17-2 4-20-1-1-20 2-12-6 17-17-4-5 6-18-1-1 13-23h-1l-10 19-2 4 15 8 14 7-11-5-17-9M2298 1039l-1-27 28 3M2298 1597l19 1 5 8 26-13 11-9 11-8-2 1-3-2 4-18 6-4 1-16h19l2-4 15-7 14 21 6-2 5-15 1 1 22-3 21-24 6-1 30-3-2 37 5 3-2 22-11 7-1 13-21 9-1-2 4-25 19 5M2298 1862l2-1 7-20-6-7M2298 1918l10 5 7 24M2299 1262l3 3-3 18M2299 1774l12-5 12 14M2300 979l10-5 22 31 1 3M2300 1861l18 7-6 15M2302 1265l20-1 4-17M2302 1483h1l21-7 2-9 4-4h16l4-16h11l10 9-2 6 17 16-3 2-14 11-3-2-7-21 10-6M2302 1508l8-11 11 1 1 1M2302 1545l16 4 1-1 11-18-12-10M2302 1800l10 17M2303 1460l1-1 22 8M2303 1483l7 14M2303 1639l16-31-8 15M2304 1459l2-17M2304 1750l8 13 18-7 4 4M2305 1571l16 10-4 17M2306 1653l11 4 4-2M2306 1738l5-1 7-20M2307 1441l20 5 1-2v-17l19 2 3-4-6-11 7-8 14-2-2-13M2307 1841l5 1 17-17M2308 1199l8-23-3-3M2308 1200l23 2-1 20-22 1M2308 1923l7-4 5-18-1-2M2309 1406l1-1 5-17M2310 1405l23 3-9 15-11 1M2311 1737l18 6 7-6 14 1 7-15M2311 1769l1-6M2312 1842l9 6 17-7h1l1-9M2313 1683l5-12 20 6-1 17h-15l-9-7M2314 1151l26 8-5 16 21 7 6-4-2-19-14 3-6-3M2315 1713l7-19M2315 1919l19 7M2316 1176l15 2 3 22-3 2M2316 1336l1-1 25 1 17 2 4-22-20-5M2317 1335l4-20M2317 1637l11-27-3-5-6 3 3-2M2317 1657l1 14M2317 1890l16-9-2-14-6-2-4-17M2318 1312l1-22M2318 1549l8 27 16-3 7 4-1 16 20-16M2318 1792l11 15 17-4-8-19-12-2M2318 1868l7-3M2319 1369l17-4-3 30M2319 1548l24 4 5-6 21 11M2320 1066l1 30M2320 1290l6-19h18M2320 1901l18 5-3 19M2321 1498l7-15-4-7M2321 1581l5-5M2322 1264l4 7M2323 1098l24-21v-10M2324 1423l4 4M2324 1816l5-9M2325 1368l10-3M2325 1605l23-12M2327 1446l3 17M2328 1444l18-5 1-10M2328 1483l15 5 1 1h22M2328 1610l25 6 3-4 6-23-3-5M2328 1636l12-1M2329 1743l1 13M2330 1222l1 1-1 22M2330 1530l17-1 2-12-19 2 43-4-3-13-7-7M2331 1178l4-3M2331 1223l21 1v-23l1-1 22 4 5-20 20 2 5-25 19 7-3 17 5 6-5 18 22 6-4 19M2331 1867l8-3 16 2 3-4 24 7 3-5 16-3 9 7-13 18 8 10 18-3v-15M2332 1952h21l8 48M2333 1408h1l10 6M2333 1720l3 17M2333 1881l8 7 15-14-1-8M2334 1200l18 1M2334 1395v13M2336 1365l12-3 5-1 25 19 6-4 15-11 9-14 5-10 3-9 3-14 11-6 3-8 1-3-4 9v2M2337 1694l3 3 5-1M2338 1677l5-7 15 4M2338 1784l8-7-1-13M2338 1841l1 23M2338 1906l4-3h13l-1 28M2339 1660l2 1 2 9M2339 1714l1-17M2339 1841l21 13 7-9-6-19M2341 1504l3-15M2341 1661l27-20-3 10M2341 1888l1 15M2342 1510l27-19M2342 1573l1-21M2343 1488l4-23-1-2M2346 1439l4 8M2346 1777l18 7h1l25-1h1l15 3 11-14-11-10 3-8-14-21-6 10-18 2 5 16 11 2 2-20M2347 1249l1 2 1 16M2347 1391l4 15M2347 1465l12 3M2347 1529l3 4-2 13M2348 1251l25-3v-19M2348 1362l5 24M2349 1517l30-3 7-1 11 20M2349 1577l16-2M2350 1425l12-1 8 7-9 16M2350 1533l25 2 1 2M2350 1738l5 6M2352 1224l2 2M2353 1200l3-18M2353 1616l4 17M2353 1952l29-1M2354 1759l13 7-2 18M2354 1932l7 19M2355 1721l2-19M2355 1823l-9-20 17-11 1-8M2356 1612h25l12 12-17 8 6-3v28l-4 6M2356 1874l5 6 20 6-6 18-5 3v13M2357 1823l15-21 10 3M2358 1862l2-8M2359 1338l4 4-3 24M2360 1159l26-5 12-3 7 10M2360 2001l20 11 17 20 21 25 4 2 12-36 5-3v-17l19-10 2-23 18-6 2-30h-6h9h14l6-18 8 7 4-19v-2l3-25-15 4-3-4 5-25h-17l-5 8-16 2-1 14 15 3-1 15-15-2-2 2 3 20-5 3-4 15-22-1 2-13-13-9-9 8h-16l-2 10v1M2361 1880l-6 23 15 4M2362 1178l18 5v1M2362 1424l7-15 20-2M2362 1589l21 5-2 18M2362 1679l13 4 6-8 16 2 4 5 15 19 12 11 11-22-29-10M2363 1316l3-2 5-18h15l5-3 2-17 21 1 2 2 17-1 11 13 19-19 2-10-29-2-3 18M2363 1342l17-3 5-16 4-2-3-25M2363 1792l9 10M2365 1404l4 5M2366 1290l5 6M2366 1314l19 9M2367 1766l9-5M2367 1845l13 1 9-6 11 4 1 17M2368 1273l2-1 21 1 2 3M2368 1641l7-9M2369 1743l2 2M2370 1272l3-23 21 4 1 1 19 3v20M2370 1431l15 5-1 13-13 7M2370 1502l23-3v-12l8-6M2371 1227l5-22-1-1M2372 1994l35 1v-1l23 2 6-31 8-4 16 9M2373 1248v1M2373 1515l33-4h4l6-15v-2M2374 1721l3 4M2375 1535l4-21M2375 1553l19 6-24 17 17-13 10-7 21-7 14-4 14-38 35-3M2375 1683l2 17M2375 1904l24 11v2M2376 1205l21 5 6-4-1-18 19-3M2378 1701l17 2 5 25M2379 1382l-1-2 13-9 8-6 13-22 1-2 1-4 5-19M2380 1183l6-29M2380 1339l5 7-1 30M2380 1846l5 18M2380 1930l17-3M2381 1665v10M2381 1886l3-2 13 2M2382 1629l21-9 19-8 13-1-5-9 15-25-4-7-24-1v27l13 6M2382 1657l28-8M2382 1869l2 15M2383 1480l10 7M2383 1594l9-4 13 9-8 24-4 1M2383 1821l5 4 1 15M2384 1449l7 8 16-2 5-5 9-10-20 22M2385 1346l27-3M2385 1436l14-12-5-4 19 14 9-9 18 1 8 34-8 1-1-1-13-15-2 27 9 3 4 14-3 3-18 4M2386 1478l3-4 18-19M2386 1513l29-3-3 16M2387 1402l3-2 4-25 26 3 2 3 16 7v8l-18 21 2 8M2387 1563l7 6-2 21M2387 1763l5 3-2 17M2388 1825l17-6M2389 1321h16l11 11M2389 1474l2-17M2389 1800l2-17M2390 1400l20 1 10 16M2391 1273l4-19M2391 1293l17 7-3 21M2391 1371l3 4M2392 1766l14-4M2393 1499l13 12M2394 1253l5-21M2394 1559l3-3 4-1-6-18M2394 1569l23-1v1M2395 1703l6-3 15 1M2397 1210v20M2397 1623l25-11 24-1-1 21M2397 1677l-5-7 10 14M2397 2032l7-9h30M2398 1151h2l22-16 37-28 4 29-12 8-21-2-2 24-4 2M2399 1915l6-19M2400 1186l2 2M2400 1844l8-3M2401 1555l25-8M2401 1682v18M2403 1206l16 4-2 22M2403 1620l12 14M2403 1806l9-11 13 1 4-3 20 3v11l-20 9-5-6-18 6M2404 2023l3-28M2405 1599l12-3M2406 1786l6 9M2406 1968l1 26M2408 1300l4-2 4-19M2408 1351l14 15-2 12M2409 1754l12-6 11 5-3 19 22 2 2-21-11-4-10 4M2410 1401l12-20M2410 1511l25-3-1-16M2410 1868h2M2411 1950l25-1h15l12-1 10 14 1-20-17-9v-1M2412 1298l21 6M2412 1450l-13-26 22 16 5 5M2412 1830l18-2 4 4M2413 1434l8 6 19 21 23-5h2l-5 1-12 3M2414 1257l3-3M2414 1337l13-2 9-21 10-1 12 14 13-3 10 17 8 1 3 10-2 9 8 10-3 16-26-2-3 5 2 13-21 9-9-16M2415 1510l31-3h1l3-15 18 3 2-12 7-8 19 8 26 5-18 13-13 2-16 1-28 3M2415 1917l12 19-12 3M2416 1662h26l1-29M2416 1950l29-1 18-1M2417 1568l1-19M2417 1702l23 21 16 14 19 18M2417 1772l9 2 3 19M2417 1961l19 4M2418 1726l1 1 2 21M2419 1210l2-1M2419 1727l19-2 4 24M2420 1474l4-2M2422 1135l8 7M2422 1366l11-8 16 4 6-3 10 4 7-18 9-4M2422 2059l8 5 16 9-3 27 10 2 11-10 15 4 10-6 21 1 4 8 2 22-25 8-2 24 1 3 24 8 1 9-9 16h-36l-5 4 5 10 7 11 19 31 6 6 9-7-3-27 5-4-7-24M2423 1893l1 2v14M2424 1810l1-14M2424 1895h19l4-17-6-8M2426 1191h21h1l24 2-4-25-5-32M2426 1774l3-2M2427 1335l5 5 21-1 3-5 2-7M2427 1936h3l5-5M2428 1166l18 3 1-1 4-24M2428 1712l22 19 6 6 10 10 19 18M2429 1816l1 12M2430 1310l6 4M2430 1936l6 13M2430 1996l9 7M2430 2064h24l6-9 2-20-23-15M2432 1340l1 18M2433 1475l8-7 12 1 1 4 16 10M2435 1508l11-1-9 23M2435 1611l22-1 3-28 24 7M2437 1489l12 2 1 1M2437 1918l10-8 14 7M2438 1388l4-2 7-24M2438 1531l9 20-6 19M2438 1725l2-2M2439 1460l2 8M2439 1690l1-1 4-25 27 1 26 7 6-4-8-23 25-11 3-3 20 28 13-10-7-23 30-4h3l12 9 7-9 23 5 6-3 20 2 3 7-6 16 28 10 4-2 3-12-10-9-19-3M2439 1833l13-18-3-8M2440 1426l1-1 22 5-3 27M2440 1689l21 7 7-2M2441 1236l27 7v4l-3 15M2441 1425l6-13M2442 1386l24 4M2442 1662l2 2M2442 2134l-2-9 3-25M2442 2134l2 11 2 12 19 36M2442 2134l5-6 6-26M2443 1215l1-1 4-23M2443 1895l2 2 18-3M2444 1214l25 5v-11l-1 39-2 11 14-5 3 18-4-26 30-7 6-14-3-6-18-4-5 5-15-7-1-8 7 49M2444 1291l-10 10 18-18 6 11 15 2 9-18-18-13-1 7-11 11M2444 1961l1-12M2444 2145l45 8M2445 1577l15 5 11-21h15l2 3M2445 1897l2 13M2446 1169l1 22M2446 1313l12-19M2446 1611l36-3-8 30M2447 1168h21M2447 1551l18 4 6 6M2447 1878h16l2 14M2447 2128l42-1-10-31M2448 1840l16-15-1-5-11-5M2449 1491l5-18M2449 1796l4-4 16 4M2450 1731l5-5 32-4M2451 1774l3 4 25-8M2451 1949l6-16M2453 1339l2 20M2453 1469l10-13M2453 1753l13-6M2453 1792l1-14M2453 1851l6 1 8 10M2454 2064l10 28M2455 1726l6-30M2456 1334l16 11M2457 1610l30-2-2-17M2458 1993l18 10 17-6 7 9 33 4-9-18-7-24-2-9-6-25h-29M2459 1852l18-16h3l8-8v-6l11-11-9-16M2460 1528l12 9-7 18M2460 2055l32 5 5-4 3-22-1-1 1-27M2461 1123l6 38 11-5 11 5 9 11 28-7 5 4-14 26 25 6 1 23h27l5-24 5-3 4-30 20 10 18-20 10 2 4-3 26 8 3 7 22 3 2 19-32 3-1-2-12-5-10-13-2-17M2461 1123h17l10-37-8 6-21 15 2 16M2462 2035l5-4 32 2M2463 1430l2-1 18 4 6 9h1l11-5 6-13 13-5-3-22-2-2 5-22h16l-7 23-12 1M2463 1820l12-12 13 14M2463 1878l3-2M2464 1265l2-7M2464 1825l13 11M2465 1363l5 5-1 17M2465 1429l5-24 16 6-3 22M2466 1914l15 2 2 18M2467 1161l5 34h16l6 19M2467 2031l9-28M2468 1243l1-24M2468 1403l2 2M2468 1495l7 9M2469 1208l4-4-1-11M2470 1368l20-7M2470 2189l20-33M2471 1324l3-3 27 3 2-17-4-4 5-31 19 7 6 11 15-2 1 1 2 11-6-38-25 4-33 5 13-2-14 9M2472 1195l1 9M2472 1452l18-10 5-2 8 5-4 16 3 4h3l21 22-4 1M2472 1452l-7 4 24-14M2472 1452l1 1 26 8M2472 1537l20-1-6 25M2473 1296l3 3-2 22M2473 1453l4 22M2473 1962l1-28v8M2474 1212l5 30v3M2475 1800v8M2476 1299l23 4M2476 1641l13 1 6 3M2477 2214l31 3M2478 1123l3 8-3 25M2478 1964l20 14-5 19M2479 1242l10-23M2480 1836l8 16M2480 1894l4 4-2 17-1 1M2481 1131h24l8 15-24 15M2481 1699l8-5 26 5 2 3-11 25 2 2 31 3 3-16-8-12-17-2M2481 1879l8-5-6-14M2482 1608l14-1 8 3-4-1-4-2-9 1M2482 1915h20l1 1M2484 1898l18-8 1-9M2486 1411l6-2 8-14-5-8M2487 1503l9 30 19 4M2488 1086l9-6 3 20 18-3 23-4 18-3 17-3-3-24-26-7-5 4-1 33M2488 1195l12-9-2-14M2488 1828l17 5 7-16 3 6 14 9 3 1-17-10-18-28-3-8M2489 1342l12-18 14 8 16-4-1-19 22-1 2-2-4-9-3 3 18-18 6-6 11-15 20-1 23-2 11-11 17-3 17-3 7 9 25-1-1-14 27-5 19-4-14 3 5-17h26l3 4-11-1 12 1 13-11 6-8 11-18-20-11-5-8 7-2 9-20 9 4 13-23 20 6 1-14-26-9-18-5-5-2-11 20-6 10v3l-12 2 1 15 10 3 1-20M2489 1642l15-32 10 19 26-2 2-1 22-34-7-7v-12l8-9h21l9 10 10-1 15-25 18 2 9-24 15 1 8 13 18-1-2-25h-11l-10-12-17-5-6 6-1 13-23 5-5-20 9-8 20 10M2489 1694l8-22M2489 1874l11 3M2489 2090l3-30M2489 2127l2 2M2490 1726l16 1M2491 1503l5-20 6-18M2492 1352l22-2 3 3 23-3-4-19-5-3M2492 1409l15 15M2492 1536l4-3M2495 1440l21-9 2 4h13l11-11-1-5 6-6 8-3 5-8 3-3-6-15-11-6-1-3 13-25-14-3 27 5-9-2h-4M2495 1791l2 4 11 16h-9M2496 1269l5-1 3 4M2497 1080l1-2 19-25 18-25-8-16 6 2 16 32 19-13 20 4 2-8 24-14 13 18-9 15 15 16-3 13-12 2-32 6 10 10 5 30-5 2-21-9-17 14-18-14 13-27 6-1 11-2 5 30M2497 1934h12l2-11M2497 2056l26 13-13 22M2498 1078l12 6 8 13M2498 1371l18-2 4 4M2498 1978l19-10M2500 1100l8-2 45-7M2500 1186l16 9h1M2500 1395h15M2500 1609l12-7 3-8 13-6 11 6 18-9M2500 2034h26l1 33 21 6-4 24 6 19-3 5 5 12-3 24 20 4 10-5 28 7 1 1 19 40 3 6v25v29l-30-9 2-26-7-7 8-22 24 4M2501 1268l33-4 7-2 8-1h4l-12-14v-21l2-2M2501 1437l17-6 6-19 17 7M2502 1890l8 11 5 1M2502 1915l8-14M2502 2251l16 18 20 14 4 3 25-15 20 6 2 4 42-5v8l-9 31-2 7-36 14-12 2h-1l-18-40 33 9 5-2-2-24M2503 1307l21-5 6 7M2503 1445l13-5 5 12 20-3-10-14M2503 1668l14 2-2 29M2503 1785l22-7 7-5 30 26 4-4 22-22 14-14 1-1-10-12 2-33 11-5-8-25 26-5v-24l-10-7-32-25-10 1-30 3M2504 1501l31-3 10-1 8-1 13-2 8 31 18-6 5 4 15 6 3 13 5 6M2505 1131l13-17 14 6 8-2M2505 1465l14-7 2-6M2505 1755l6-5-3-21M2505 1833l5 8 19-9M2505 1852l3-1 15 9 9-27 8-9 3-4 14-17 5-4M2506 1582l9 12M2508 1098l10 16M2508 1811l4 6M2508 1851l2-10M2509 1238l10 18 22-9M2510 1084l8-30-1-1M2511 1750l24 12 6-5 20 6 6 5-1 27M2511 2244l22 7 6-7 29-4 1 2-2 29M2512 1218l4-23M2512 1602l27 20v-28M2513 1146l8 3 5 16M2513 2213l11-2 10-17-19-21M2514 1350l1-18M2514 1629l10-1-1 3M2514 2099l30-2M2514 2164l8-5h24l2 30-14 5M2515 1224l26 2M2516 1266l3-10M2516 1369l1-16M2516 1431h2l3-11-1-1M2516 1440l2-5M2516 2121l7 4 24-4M2517 1500l9-1 19-2h4l2-26 4-2-1-23-12 4-1-1M2518 1054l24 6M2518 1562l11 9-1 17M2518 1877v-3l5-14M2519 1458l12 12 7-4 13 5M2520 1540l14-4 6 6 20 8 5 14M2520 1634l-3 36h21l5-11M2521 1149l7-7 4-22M2521 1420l8-24M2522 2159l1-34M2523 1279l11-15M2523 2069l4-2M2524 1302l5-12M2524 1412l5-17 7-23 8-25-2 6-2-3M2524 1628l25-2M2524 2211l12 10 3 23M2525 1778l15 46M2526 1499l12 30-4 7M2526 2034l3-2 19 8 1 1 16 24-17 8M2527 1012l-5-10 28-13h14l33-1-13 24-23-7 3-16M2528 1142l26 7-10 22-13-2M2529 1395l8-2 10 20M2529 1571l13-3 15 5M2529 2032l5-21-1-1M2531 1470l-5 17 9 11M2532 1773l3-11M2533 1014l22-3 13 22M2533 2251l5 32M2534 1704l13-23 21 4 7-33 4-30M2534 2011l14 29M2536 1331l14-5 2-18M2536 1372l9 3M2536 1373l6-20M2536 2221l27-8 11 14-6 13M2537 1393l1-1 22 10M2538 1392l8-14M2538 1466l4-16M2538 1529l12-7 22 4 2-1M2538 1670l9 11M2539 1622l1 5M2539 1732l4 7-2 18M2540 1542l2 26M2541 1262l4 25-1 1M2542 1201l9-12-1-11-6-7M2542 1424l11 11 3 9 21-7 5 5 7 4-2 19h-1l-15-3-1-3 12-17M2542 1716l30-8 1 1-2 25 3 3-13 26M2542 2286l8 6 3 6M2543 1739l28-5M2546 2159l3-2M2547 1056l2-10M2548 2189l14 6 1 18M2549 1497l13-2 5-21 17 6 1 1 24-6 5 12 30-5-1-10-3-4-5-1-21 20-30 4-22 4M2550 1178l34-12v-5l31-9 7 5M2550 1297l17-17 3 12 22-5-3-26 13-1h1l22-2 19 17 15 14 10 5 6 2-3 27-4 4-1 11-21 10v1l3 7-12 18 1 1h20l2-10-11-9M2550 1326l17 9 7 12 12-21 8-16-22-3-5 28M2550 1522l3-26M2550 2116l29-10 6 23 11 4 7 20 4 10M2551 1189l24 11M2552 2133l24 4 9-8M2553 1261l12-2 6-33-1-2M2553 1435l11-14-9-11M2554 1149l5-5-1-12M2554 1306l15-2 1-12M2554 1446l1-1 1-1M2555 1011l6-6M2555 1445l15 14M2555 1469l10 1 2 4M2556 1649l19 3 23 4 16-9M2557 1384l12-7-6-25-1-2M2559 1144l22 10 3 7M2560 1550l12-17v-7M2562 2195l11-7-4-27M2563 1352l23 13 4-1 13 7 1 3h21l-2 19-20-13 1-6M2563 1399h9l8-12 17 2 2 7 1 2 17 6 1 5-9 12-5 4 17 18-15 7-9-6-8 2M2564 1421l15 2 3-3h14l4-22M2564 1592l10 5 13-5 8-18M2565 1259l28-5 22-4-15 3 3 7M2565 1282l-16-21 51-8M2565 1470l6-8M2565 2065l18 28 2 4-6 9M2566 1494l22-3 33-5 1 7M2567 1280l4-4M2567 1768l35-9M2568 1685l1 1 27-5 2 2M2569 1304l3 3M2569 1377l9 4 2 6M2569 1686l3 22M2569 2242l29 14-11 21M2570 1088l16-3M2571 1226l23 7 8-5 9-18 5 1 10 6 14 29 17-33 25 17 3 8-4 1 20-4M2572 1399l8 11 2 10M2572 1533l16 17-2 14M2572 1623l2-26M2572 2338l14-31M2573 1063l18-19 9 6 18-2M2573 1709l22 4M2573 2188l25-1 10-23M2574 1347l-3 5 6-11 9-15 5-9 3 10 13 1 8-3 11 9 6-2v-20l-10-1-7-17 9-9-15-6-10 19-5 12-3 7M2574 1737l19 9M2574 2227l21-5M2576 1087l27-5 15-3 4-1 27-5 29-5-8 1-40 8M2576 2137l3 19M2577 1341l13-4 4-10M2577 1437l2-14M2578 1381l8-16M2580 1197l27 6 4 7M2580 1410l19-14M2581 1154l15-27M2582 1261h7M2584 1012l6 17M2584 1166v1M2584 1480l2-15M2584 1491l1-10M2585 2097l11 36M2587 1465l20 2 1 1 1 7M2587 1592l16 19-2 11M2588 1037l3 7M2588 1491l7 10h18M2588 1550l1-1 26-7M2589 1549l8-26M2590 1337l4 8 20 7-11 19M2590 1364l4-19M2591 2305l31 10M2592 1287l7 11M2592 1519l3-18M2593 1254l1-21M2594 1631l31 23 11 9 11-14M2596 1095l26 3v-20M2596 1420l7 5-6 19M2596 1681l2-25M2597 988h2l10-2 8 15 35 8-2 11 30 19 17 7 14-13 16 6 15 21 1 2 16-13 5-30-1-3 3-6-35-23 17-18 21 5h1l8-34 26 4 4 13 25 5-9-39-10 6-10 15M2597 1389l6-9M2598 2187l5 13M2598 2256l2-1M2600 1050l3 32M2601 1125l5 1 11-5 25 12 6-29 23 12 4 5 22-15 14 17-10 14 21 15 10-3-3-28 19-3 6 12M2601 1294l-7 16 27 2-6 13M2601 1294l8-15 9 4 7-25 17 16 2 1-4 15 1 1-5 20 12 6 15-22-22-4M2601 1294h14M2602 1228l23 21-10 1 21-3M2602 2229l28 6M2603 1425h1M2603 1611l16-12 6 2 16-5 13 8 1 2-5 20M2603 1758l23-23 7-21-27-6M2604 1177l6 13 24-14M2605 1573l7 5 27-4 19 3 7 9 16-5 5 6-6 22-25-3M2606 1126l9 26M2606 1450l1 17M2607 1203l3-13M2607 1328l10 22-3 2M2608 1468l18-7 9 6M2609 986l31-9 7-7 3 3 5 33-3 3M2609 1421l22 11 4-5 12 4 2 18-3 2-6 17M2612 1529l6-8M2612 1578l7 21M2614 1015l3-14M2616 1211l28-22M2617 1121l8-19h23l7-19-6-10M2617 1350h3l6-16M2617 1404l6-11 19 1-2 17-5 6v10M2618 1283l22 7-16-5M2618 1409l17 8M2620 1350l6 4 20-5M2621 1312l1-1M2621 1443h3l2 18M2621 1486l30-5 11-1-18 2M2622 1098l3 4M2624 1443l4-2 18 10M2624 1627l1 27M2624 1654l35 26-20 16-1 3-5 15M2624 1678l14 21M2625 1249l15-3 41-7-11 2M2625 1374l3-2 9 2M2625 1601l5 23M2626 1217l30-6 1-15M2626 1354l2 18M2627 1033l18-6 5-7M2628 1441l3-9M2630 2264l1 12M2632 1312l4-1M2632 1332l9 3 9-13-2-5M2633 1064l22-9 9 4 6 10M2636 1156l8-20-2-3M2636 1663l21 16 18-20M2638 1375l4 19 14-2 3-1 17 12v8l-2 21 11 3 3 19h11l6-4 12 7 12-10 11 3 4-6h21l18 5-9-16-9-2v13l-5 19-18 3-2-16M2638 1550l3 4-2 20 2 22M2640 1411l16 5v-24M2641 1335l5 13M2641 1516l6 10M2641 1554l24 2 5-16M2642 1274l10-13 1-17M2643 1472l22-7 7 13-10 2 18-3-15 25M2644 1136l31-1v-14M2645 1027l10 28M2647 970l7-8 14-9-5-14-8-25 7-11 35 24-9 27-9 15 4 9 30 7-16 26 7 5 7 17M2647 1431l9-3 11 9 7-5M2648 1102v2M2648 1497l3-16M2649 1449h16l2-12M2650 973l29-4M2650 1322l18 5M2652 1261l19 7-10 22-2-1M2654 1604l11-18M2655 1006h25l8 5h9M2655 1083h16l15-17-8 2 24-5-5-17M2656 1194l9-23M2656 1211l1 2M2656 1416l2 1-2 11M2657 1679l2 1 36-3-16-20M2658 1375l3 9 17-6 4-7 14 3 2 6-11 15-3 1-8 7M2658 1417l18-6 14 6 4 8v4l-9 6M2658 1577l10-18 10 5 3 17M2659 1391l2-7M2660 1365l4-2 7-21-4-4M2661 1290l17 8 10-6 4-15 26 3v10l2 7-13 6-19-11M2662 903l9-13 4-7 14-20 11-15 14-12 6-5 31-8 40-10 11 50 2 8 31 18 7-2 31 5v-7v-18l-33-18-7 1-8-19-20-21-14 3 3 12-28 19 8 14-4 25h-2l-12 17 4 16 28-13 1-12-19-8M2662 1164l16-24 9 3 6 20-6 11M2662 1527l13-13M2663 939l25 15 23 7 13-10v-20l7-6 26 5-13 32-20-11M2663 1295l6-1M2664 1059l16-20 8-28M2664 1363l15 3 3 5M2665 1449l3 4-3 12M2665 1556l3 3M2668 1453l19 1h1M2671 890l39 5 4-2 13 5 16-29 25 14M2671 1083l6 8-6 25M2671 1268l5-2 1-16M2671 1342l14 7 8-8 5 1h-2l8-27-19 2-5 21 13 3M2672 1323l11 2-3 13 16 4M2672 1478l11-2 18-3-2-19M2672 1636l11-24-3-3M2675 1135l3 5M2675 1296l14 7-4 14M2676 1266l15 10 1 1M2677 1091l20 7v8M2678 1298l11 5-6 22M2678 1378l6 18M2678 1564l12-7 16 5-5 23-15 2M2679 1366l7-15 17 12-7 11M2680 1006l3-28M2680 1477l4-1 9 13-1 20-6 5M2682 1230l13-33-6-4M2682 1645l15-5 17 6 14-23 22-7v-26l-15-1-8-4-1-21 9-7 22 20 12-6-2-17-11-11 8-22 3-2 23 15 8-5 20 2-15-37-5-11-22-10-11 23-21-3-1-27 26-5 7 12M2683 1476l4-22M2683 1612l11 5 17-8v-16l16-8M2684 1476l41-7 18-3M2685 1238l24-5 1-32 25 6 6-26 5-4-4-24 13-8M2685 1349l1 2M2686 1066l20-4-4 31-5 5M2687 1143l14-6M2687 1395l16 9h9l4-4 15 3 10-10h8l-1-3-4-26-3 1-3 20-19-3 3-15 19-2M2688 1539h1l22-3 3-4-3-14-1-1 14-18 13 2 7-8M2689 863l12-2 11 10 2 22M2689 1539l1 18M2690 1417l13-13M2691 1276l14-24-3-3M2692 1509l18 8M2693 1163l21 6 8-17M2693 1489l24-2 7 12M2694 1425l18-9v-12M2694 1429l13 11-2 10M2694 1617l3 23M2695 1197l11 1 4 3M2695 1677h1l18-31M2697 927l2-1 11-31M2698 1380l17 9 1 11M2699 926l25 5M2701 861l14-23-1-2M2701 1473l21-4 20-3M2701 1585l10 8M2702 1063l35-8 5 5M2702 1093l22 7 7-10 33 5-16 23M2703 1363l3-1 16 5 1-17 19 7-4-9-5-12-1-3-12-36M2704 1016l25-6 5 5-7 24M2704 1315l1-1 27 22 4 13 2-1M2705 1252l17 4 6-26M2705 1314l2-11M2706 1062l13-3 18-4 23 26-17-19M2706 1198l11-22 24 5M2706 1362l2-16-10-4 36 12 8 3 2 7M2706 1562l2-1 18 3M2707 1440l5-4 15 8 2 3M2708 1346l15 4M2708 1561l3-25M2709 1233l24-4M2711 961l4 23-2 1M2711 1123l15-4 3 2M2711 1518l29-1-9 21 7 10-3 9M2711 1609l16 13 1 1M2712 871l28-8 3 6M2712 1416l5 11-5 9M2714 1169l3 7M2714 1532l17 6M2715 838l26 14 12-11-2-18M2715 984l14 4 2-1M2715 1389l4-7M2717 1427h15l-5 17M2717 1457l5 12M2717 1487l8-18M2718 1280l-1-9 9-11-4-4M2719 1059l12 31M2724 1100l2 19M2726 1260l13-16v14l1 24v3l-3 22-1 13 12 13 6 6 22-8 15 9 16-21 1-9-33 6 1 15M2727 898l3 3 26-1M2727 1622l8-33M2729 988v22M2730 901l1 24M2731 1403l3 5 18 3-3-18M2732 1149l10 4M2732 1333v3M2732 1427l2-1v-18M2734 1015l29 1M2734 1354l2-5M2734 1426l8 3 2 15M2735 1207l3 5M2737 1307l19-4-8 30M2737 1501l5 14 22 6M2738 1385l3 8M2738 1548l18-5M2739 1258l14-3 7 34 1 9 4 20-5-25-13-67 6 29M2740 863l1-11M2740 1285l20 4M2740 1517l2-2M2742 1429l13-6 1 7 9 1M2744 962l4 7M2746 1177l16 3 6 11-4 21M2747 1226l9-11M2750 1590l2-1 5-12M2750 1616l23-8 4-5-25-14M2752 1411l3 12M2753 841l13 3M2754 1339l14 13 12 2 14-7-3-7M2756 1303l5-5M2757 930h1l2-14M2758 930l17 7 3 3M2759 1049l20 4 16-19 15 6 11-7 18 7-3-11 6 25 3 12 7 25-6 16-4 11 35-14 9-3 18-6 13-16h25l-30 28-19 11-22 12-35 12-6-8 1-9M2760 1293l27-2 8-8-16-13-16-34 5-20-3 16 13 9 15 11 5 7 11 14 13-23 9-15 3-10-24 5h-1l-5-28 6-2 5-23 4-2 15 28-24-3M2760 1463l28-5 10 25M2762 1180l13-16-10-16 1-8v-15l17-30 27 9-6-43-16-1-9-7M2764 1019l31 14v1M2764 1095l9-6 10 6-2-1 7-34M2765 1148l8 12M2765 1496l4 16-2 7M2766 1010l9-10-6-26M2766 1140l20-5 3 3M2767 1216h1l13-10v-1l10-14 7-12-3-2-17-9-3-4M2767 1554l23-13v-7M2768 1191h23M2769 1461l19-3-5-9M2769 1512l32-15-3 32M2769 1571l6 2 22-19 15 10 13-14-7-19M2770 974l34-7 4-10M2772 1115l12 2 3 4-1 14M2773 1089l-13-8 21 13M2774 858l26-4 7 28 7 34 7-2-5-1 19-24M2775 937l14-27-1-7M2775 1000l13 2 10 9 19 4 17-20 2-1v-18l11-3 33-7 18-4 3 21 24-3 4-22-1-3-30 7 23-31 27 16 16-14 16 12-12 22-3 6 12 11 15 13 7 7 4 3 14-5 17-1 1 5-33 19-8-9-18 20-5 2-6-9-14-26h-3l3-9 4-1 4-20 9-6M2775 1316l-10 2 19-4 24-4-8-23-5-4M2775 1573l15 15 22-24M2776 1368l4-14 22-11-4 11-9 27-4 13-10 23-6-27 7-22 13 13M2777 1603l13-15M2778 1241l14-14 17 3M2780 1158l16 5 3-4 3-13 21-2v3l-2 4h2l13 1 3 20 4 28-2 7-7 18M2781 1206l11 21M2784 1117l4-20M2784 1314l3-23M2787 1121l20-6 4 4M2787 1197l17 5M2788 1002l21-18 25 11M2789 891l18-9M2789 910l25 19M2790 1541l7 13M2794 825l6 29M2794 1347l8-4 5-21v-3M2795 1033l3-22M2795 1177l1-1 19 1M2796 1163v13M2798 1142l4 4M2798 1259l9-15 3-14M2799 1159l23 8 1-16M2801 1497l2-3M2802 863l28-10 12 34M2804 871l10 43v2l8-2 2 9M2804 967l5 17M2804 1061l2-2 38 7 1-2 7 27-5 14-21 2 18-41M2805 810l30-8 14-4 36-10 5 34 25 7 6-5-20-63 5 15 32 18 6-1 40 29-6 13-52 4-2-6 11 34 8 24-17 9-8 20 3 11M2806 1059l4-19M2806 1102l1 13M2807 1244l15 6M2810 1104l15 4 1-1M2814 914l2-1M2817 1015l4 18M2819 1175l4-6 16 3M2821 914h1l7 29 7 33 35-8 9-2-7-36-1-6 1-39v-31l7-11-28-13-2-7-25 8M2822 914l33 9-4 18-22 2M2822 1167l1 2M2823 1144l3-2 4-8 2-23-7-3M2830 853l3-3M2833 962l3 14v21l34-4 2-1 26 24-8 2-30 6-6 24-12 6M2834 1203l7 4M2836 994v35l24-5M2836 997v32l28-6 26-5 7-2v1l15 12 21 1-5-21-10 2-17 4-3 1M2839 1040l6 24M2840 849l12-19M2845 1066l35 15 2-1-4-32 34 17 2 4-31 11h-1M2847 973l6-28-2-4M2847 1105l-1 2 34-26M2849 798l3 3 36 9 3 16-11 17M2850 823l2-22M2853 945l24 7-5-28 1-25-18 24M2854 1048l23-1 1 1M2864 1023l6-30M2871 968l4 14-3 10M2873 867v-13l4-5 24 10-5 23 30 18M2873 885l11 4-1 31h35M2873 892v7M2873 930l10-10M2875 982l24 2 2-1M2877 849l14-23-1-4M2877 952l3 14M2877 1047l20-30M2884 889l12-7M2886 1101l7 17M2888 810l-3-22 1-19 15-8h13l5-19 40-2 6-11-43-36 4 26-7 23M2897 1016l31-7 1 5 5 23 12-3 4 5-9 19 20-14h1l-12-5M2898 962l44-10 22-19 2-19 13-43 2-4 18-13 31-29 2-10 3-13 2-11 33-3 26-24 3-4-31-20-7-10 6-35-35-22-29 47-22-3-16 12M2899 984l2 31M2901 859l10-6 4-24M2906 776l17 53 15-35M2911 853l24 14M2912 1029v36M2914 1069l25-9 2-2M2918 1011l10-24 23 7M2921 824l3 9-1-4M2922 693l-1-8 2-25 48 19 12-11-1-44 51 18 8-9-17-50-19-8-13-5-24 23-8-9-26 29-2 7 49 3 1 1M2923 660l2-15 7-25M2925 980l3 7M2926 839l19 58-2-6M2928 955l14-3 6-5M2929 958l30 15M2929 1014l20 4 7-6-5-9-23 6 20-6M2933 1030l6 30-5-23M2934 613l11-35h9l6 6M2944 793l19-31-4-22M2945 897l21 17M2946 1034l3-16M2955 993l13 7 9-16M2956 1012l15 26-9 6M2963 762l23 11 28-12 17 20 4 21M2965 1029l8-23 26-2M2968 1000l5 6M2971 679l10 38M2978 835l1 36M2981 623l24-48M2983 668l46-4 4-22M2984 822l11-6-9-43M2995 816l37-1M3003 720l12 12 46-2M3014 761l1-29M3017 1002l7-2-7-18 12 4 5 15M3029 664l3 9M3031 781l37-41M3041 633l12 33 24 16 3 6-13 7M3080 688l11 25 29 17-21 30"/><path id="s" d="M335 919l-8-3-55-19-54-20-55-21-55-21M456 1687l-154-20-5-15 2-23-26-55-28-19-1-20-19-5-25-29-22-16-47-18 4-52-7-26-19-31-22-56 4-23 15-16-12-12-15-26 8-43-22-29-6-56-9-28 9-43-7-82 22-22 25-49 2-20 7-18M108 835l7-69 30-35 28-38 33-71 40-88M590 683l-54-18-50-17-32-4-55-4-33-3-12-13-44-5-20-16 6-35-22-18-28-16M246 534l10-29 7-22 6-53 9-61 24 25 41 23 18 10v18l-29 30-7 22 22-4 20-21 14-27 2-32 8-26-2-21 127 51 139 50M495 970l-4-2-55-16-55-18-46-15M335 919l-72 219 93 152 143 229M793 1854l-127-21-219-131 9-15M499 1519l-8 52 26 9-28 22-15 67-18 18M495 970l50 14 55 16 54 14h2M590 683l10 42-30 34-31 35 7 25-11 21-40 130M567 1379l-15 67-43-2 2 39-12 36M859 1438l-53-9-59-11-60-12-60-13-60-14M656 1014l-89 365M655 467l-61 184-4 32M655 467l45 15M818 1053l-55-13-54-12-53-14M700 482l96 29 94 26 94 23 94 20 94 18 93 14M700 482l-22 71 4 37 14 32 13 19 10 30 15 4-14 31-18 42 27 3 14 47 15 50 36 9 43 2 21 13M955 1842l-105-14-5 33-52-7M859 1438l-66 416M912 1147l-55-10-55-12 16-72M858 872l-40 181M1224 901l-51-7-51-8-52-9-51-9-51-10-51-11-51-11-8 36M1211 1487l-48-5-59-7-59-8-60-9-59-9-60-10-7-1M912 1147l-53 291M1185 1190l-54-7-55-8-55-9-54-9-55-10M1736 2044l-54 25-26 18-51 35-32 17-46 38-17 43 8 51 2 39-23 6-45-16-58-26-22-81-48-58-11-33-22-49-30-33-56-12-26 9-33 53-52-29-24-21-23-80-30-21-33-45-29-32M1207 1523l-34 327-74-7-73-8-74-9 3 16M1185 1190l55 7 55 6-8 72M1204 1045l-19 145M1605 1116l-13-8-26-19-43 4-25-19-59-4-59-5-58-6-59-6-59-8M1224 901l-20 144M1700 1759l-49-17h-42l-36-1-34 6-26-12-29-16-30-5-36-6-29-16-17-13 10-140-58-5-59-5-58-6M1211 1487l-4 36M1266 1492l-44-4-11-1M1233 833l-9 68M1609 867l-54-2-53-4-54-4-54-5-53-5-54-7-54-7M1265 612l-32 221M1265 612l97 13 94 10 71 6 60 4M1695 1516l-59-1-59-2-59-2-59-4-59-3-59-5-59-5-16-2M1287 1275l-21 217M1661 1299l-62-2-62-3-63-3-62-5-62-5-63-6M1587 645l99 4 1-28 14 5 6 34 5 10 38 12 23-5 17 1 27 23 19 3 29 12 29-10 24 7 20 6 19-1-24 16-43 23-33 33-24 22M1587 645l2 36 3 44 8 72 8 44 1 26M1605 1116l16 51 8 40 4 19 3 30M1607 1044l-9 36 7 36M1881 1046l-54 1h-55h-55l-55-1-55-2M1609 867l-16 24 20 23-6 130M1875 1272l-17-14h-55h-56l-55-1-56-1M1636 1256l25 43M1661 1299l11 11 10 33 16 22-3 151M1695 1516v36M1982 1586l-40 1 12-36-65 1-65 1h-65l-64-1M1695 1552l10 80-5 127M1700 1759l26 7v38M1901 1805l-88-1h-87M1726 1804l-1 75 15 35 15 22v29l-10 36-9 43M2004 2005l-3 3 13 7 14 25 13 36-9 15-16-7-38-6-50 12-32-18-32-14-25-3-31-4-38-12-34 5M1833 812h29l29-15 9 21 16 5M1833 812l-10 8v39l-30 33 8 7-3 58 16 13 31 19 34 32 2 25M1875 1272l2 32 17 31 23 29 29 31-7 33 26 21 25 42 21 21M1914 1118l27 28-2 22-21 22-26 22 6 22-22 26-1 12M1881 1046l5 36 28 36M1901 1805l16 50-30 55-11 40 68-1 46-2-5 26 19 32M1949 1659l-17 37-23 44-9 36 1 29M2065 1111l-75 4-76 3M1916 823l67 29 16 7 35 7 16 14-1 25 14 17M1916 823l25-16 34-14 34-23 33-18-18 28-11 15 22 2 31 20 35 5 34-19 39-10 12-3 5 20 27-3 14 16 13 17-41 12-40-9-39 17-16 21-21-8-13 27-12 22M1982 1586l-22 62-11 11M2073 1654l-3 1-61 2-60 2M1992 1549l-10 37M2011 1512l-19 37M2330 1519l-77 6-87 4-92 4 1 13-83 3M2076 1991l-56 6-16 8M2071 1451l-23 52-37 9M2063 922l-17 41 12-11 35-46-15 37-8 37-8 44-5 48 8 39M2065 1111l14 46 4 9M2083 1166l11 172-5 33-11 44-7 36M2247 1344l-30 30-17 35-13 20-28 6-28 6-32-2-28 12M2073 1654l6 7-12 218 9 112M2227 1645l-35 2-61 4-58 3M2132 1992l-25 5-7-32-5 26h-19M2083 1166l13 7 21-9 4-3M2121 1161l16-26 12-45-8-35-15-57 12-45 6-22 23-24v29l10-35 17-37 11-3 28 8 21 12 24 24 12 54-26 51 23-25 23-11 22 31 15 43v29l-27 24-3 20-15 26M2230 1156l-32-1-32 2-45 4M2285 1932l-81 6-80 4 8 50M2509 1934l6 25 9 33 25 49 34 52 20 60 27 57 1 74-11 38-36 14-13 2-21-46-32-23-22-24-26-42-24-46-6-32 6-52-28-16-38-45-34-19-18 13-39 27-22-3-21-33-52-15-49 8-13 2M2227 1645l37 152 13 30 4 11-7 22 5 32 6 40M2303 1639l-50 4-26 2M2230 1156l17 188M2302 1147l-72 9M2378 1380l-25-19-39 10-30-8-19-21-18 2M2509 1934h-35l-1 28-10-14-168 5-10-21M2302 1147l44 15 54-11 59-44M2446 1507l-14 38-35 11-27 20-22 17-29 15-16 31M2303 1639l11-1 62-6M2421 1440l-38 40-53 39M2330 1519l116-12M2376 1632l-13 23 29 15 24 31 40 36 31 30 10 28 18 28 17 10M2376 1632l46-20 74-5 8 3 10 19 68-7 77 58M2378 1380l16 40 27 20M2473 1204l-4 4-1 39-5 25-29 29-4 11-11 6-6 23-14 24-21 15M2421 1440l19 21 25-5 25-14 28-11 26-84 27 5 15-26 23-47 31 11 4-15M2446 1507l99-10 117-17 126-22M2459 1107l14 97M2459 1107l21-15 17-12M2473 1204l10 67 58-9M2497 1080l3 20 59-10 59-11 60-11 59-13 23 26 23 14M2497 1080l38-52-13-26 28-13 49-1 41-11 14-15 14-9-13-39 20-31 25-35 20-17 71-18M2532 1833l-14 41-3 30-6 30M2659 1680l-20 16-13 39-38 38-31 30-14 17-11 13M2541 1262l6 38 24-24 11-15 20-1 23-2 19 17M2541 1262l8-1 66-11 66-11 66-13M2644 1275l15 14 30 14-9 35 18 4 44 15M2788 1458l37 92-52 58-45 15-32 54-37 3M2742 1357l6 33 8 40 18 3 14 25M2780 1354l-12-2-32-32 4-38-1-38-22 27 1 19 15 46 9 21M2747 1226l18 92 43-8M2747 1226l9-11 12 1M2830 1134l-9 17 15 1 7 48-12 35-22 38-16-21-28-20 3-16M2768 1216l-5 20 16 34 21 17 8 23M2783 1095l-17 30-1 23 13 20 20 11-17 26-13 11M2802 1343l-4 11-13 40-10 23-6-27 11-36M2780 1354l22-11M2783 1095l49 16-2 23M2791 813l23 103 8-2 14 62M2791 813l44-11 50-14M2808 1310l-1 12-5 21M2846 1107l-4 11 35-14 27-9 13-16h25l-30 28-41 23-35 12-6-8M2836 976v53M2836 976l44-10M2836 1029l16 62-6 16M2836 1029l54-11 38-9M2939 1060l-56 20-37 27M2885 788l6 38-18 28v31l-1 39 8 42M2880 966l62-14 22-19M2885 788l1-19 15-8M2901 761h13l12-42-5-34 4-40 20-67h9l14 15 24-23 32 13 29 83 24 16 14 31 29 17-24 34-26 24-33 3-7 34-31 29-18 13-15 47M2901 761l23 72 21 64 21 17M2928 1009l11 51M2928 1009l23-6 20 35M2971 1038l-10 6-22 16M2964 933l16 12-15 28 27 24 11 10 21-7-7-18 12 4 6 20-33 19-8-9-18 20-5 2M2966 914l-2 19"/><path id="o" d="M278 369l24 25 41 23 18 10v18l-29 30-7 22 22-4 20-21 14-27 2-32 8-26-2-21 127 51 139 50 45 15 96 29 94 26 94 23 94 20 94 18 93 14 97 13 94 10 71 6 60 4 99 4 1-28 14 5 6 34 5 10 38 12 23-5 17 1 27 23 19 3 29 12 29-10 24 7 20 6 19-1-24 16-43 23-33 33-24 22h29l29-15 9 21 16 5 25-16 34-14 34-23 33-18-18 28-11 15 22 2 31 20 35 5 34-19 39-10 12-3 5 20 27-3 14 16 13 17-41 12-40-9-39 17-16 21-21-8-13 27-12 22-17 41 12-11 35-46-15 37-8 37-8 44-5 48 8 39 14 46 4 9 13 7 21-9 4-3 16-26 12-45-8-35-15-57 12-45 6-22 23-24v29l10-35 17-37 11-3 28 8 21 12 24 24 12 54-26 51 23-25 23-11 22 31 15 43v29l-27 24-3 20-15 26 44 15 54-11 59-44 21-15 17-12 38-52-13-26 28-13 49-1 41-11 14-15 14-9-13-39 20-31 25-35 20-17 71-18 44-11 50-14 1-19 15-8h13l12-42-5-34 4-40 20-67h9l14 15 24-23 32 13 29 83 24 16 14 31 29 17-24 34-26 24-33 3-7 34-31 29-18 13-15 47-2 19 16 12-15 28 27 24 11 10 21-7-7-18 12 4 6 20-33 19-8-9-18 20-5 2-10 6-22 16-56 20-37 27-4 11 35-14 27-9 13-16h25l-30 28-41 23-35 12-6-8-9 17 15 1 7 48-12 35-22 38-16-21-28-20 3-16-5 20 16 34 21 17 8 23-1 12-5 21-4 11-13 40-10 23-6-27 11-36-12-2-32-32 4-38-1-38-22 27 1 19 15 46 9 21 6 33 8 40 18 3 14 25 37 92-52 58-45 15-32 54-37 3-20 16-13 39-38 38-31 30-14 17-11 13-14 41-3 30-6 30 6 25 9 33 25 49 34 52 20 60 27 57 1 74-11 38-36 14-13 2-21-46-32-23-22-24-26-42-24-46-6-32 6-52-28-16-38-45-34-19-18 13-39 27-22-3-21-33-52-15-49 8-13 2-25 5-7-32-5 26h-19l-56 6-16 8-3 3 13 7 14 25 13 36-9 15-16-7-38-6-50 12-32-18-32-14-25-3-31-4-38-12-34 5-54 25-26 18-51 35-32 17-46 38-17 43 8 51 2 39-23 6-45-16-58-26-22-81-48-58-11-33-22-49-30-33-56-12-26 9-33 53-52-29-24-21-23-80-30-21-33-45-29-32-105-14-5 33-52-7-127-21-219-131 9-15-154-20-5-15 2-23-26-55-28-19-1-20-19-5-25-29-22-16-47-18 4-52-7-26-19-31-22-56 4-23 15-16-12-12-15-26 8-43-22-29-6-56-9-28 9-43-7-82 22-22 25-49 2-20 7-18 7-69 30-35 28-38 33-71 40-88 10-29 7-22 6-53z"/><g id="x" stroke="#000" fill="none" stroke-linecap="round"><path d="M372 386L378 410 374 436 362 462 343 486" stroke-width="15"/><path d="M2498 2376Q2550 2375 2595 2343" stroke-width="8"/><path d="M122 1492L150 1503 195 1512" stroke-width="11"/><path d="M169 1566h1M238 1574l2 4M225 1605l2 4M93 1180l2 6" stroke-width="13"/><path d="M2003 707l22 -14" stroke-width="9"/></g><clipPath id="cA0"><path id="rA0" d="M941 1052l50-7-1-55 31-28 1-7-58-38 66-47-11-2-51-10-5-1-46-10-51-11-8 36-22 99 5 1 15 89 21 19 46-36zM1578 1261l-3 3-24-3-7 7 1 26 36 2 18 1-24-1-32-2v22v1l4 30-2 2 3 26-4 5 6 25 26-2 2 1 1 31-1 1-27-1 2 33-1 1 1 19 1 1 2 23 21 1h-8l-14-1-12 14-4 32 5 4 3 27 28 3-2 28 6 4 26-2 8 29 26-4 2 1 1 33h-30l3 31-4 5 5 25h30l10 30-3 4 2 31-33 3 1 31 33-2 1 1 32 1 2-2h35v-22l27 3 2-16h-19v-8l14-11 10 2 5 7 34 2 1-2v-29l-3-4 11-29h-40l-1-3 9-16-2-3-4-32 3-3 26 10 8-7-3-27-9-4-18 1-7-9 1-12-18-15-1-11-18-10 22-38-46-1 3-40-2-2 3-19 1-2-4-25-15-1v-7l1-17 17-1 1-2-3-24-1-1 6-23-5-5-15 4v10l-27-3-2-23 28-8-14-20-4-14-6-19-11-11-25-43 35 1-2-17 1-2-3-21 3-3-3-26-24 2 1-26-2-2-22 1 1 3-19-2-4-27-31 7-1 1 2 24-1 2 1 26 4 3-2 29 7 5zM1584 1513l30 1 22 1-25-1-34-1zM1633 1226l2 17 1 13zM1629 1207l4 17v2zM1602 1297h6h10zM1695 1501l1-19v4zM1638 1515h5l33 1h-11zM1702 1612l-3-28 2 16 4 32zM1704 1655l-1 22v5v-6l1-31zM1156 1481l-15 17-19 65-48 5-14 26 5 30 4 3 19 69-19 10-36-7-1 1-13 65 12 11 51-6 13 8 43-29 17 7 29-18 5-46 7-64 3-31 4-37-4 38-3 34-3 26-3 26-5 49 20-3 1-1-5-35 31-2 5 3 34-6h1h37l1-1-5-29 5-8h31l-2-33-2-2-2-31-1-1 3-36 10-12-23-2 28 2 28 2 5-36h-9l-5-25-22-1-3-29-2-1-27 5-5-3 2-26-5-5 5-29-2-1h-36l2-19-26 1-2 40-40-3 7-38-13-5-36 17-3 5 11 32-3 6 2 22-15 36 3 1zM1295 1532l-30-3 21 2 30 2 8 1zM1209 1509l-2 14 4-36zM1212 1487l10 1-11-1zM1268 1493l-2-1 9 1 7 1zM1309 1496l5 1 27 2-28-2zM1345 1499l20 2-17-1-7-1zM1579 1688l33-7-2-26-30-1-4 4 1 28zM1691 1113l-21 2-1 23 26-2zM1715 1213l4 3 24-5 3 4h22l3-3-3-24-20-1-6 6-22-5zM1712 1309l-1 24-30 4 1 6 13 17 15 4 1-1 5-26h21l4 20-2 4 1 23-3 3 3 25h22l3 24-4 4 2 20v1l27 1 1 1-6 24 5 6 23-4-1-25h1l5-24 22-1 4 24 18 1 5 5v21l2 2h24v1l22-3 1-2h23l2 3-1 21 3 3v26l-13 10h24l-6 17 19-1 3-2 17 1-1 3 26 3 24 11 3-5 21-3 6 3-17 17h-12l-4 5v14l3 2 18 5 2-1 4-14 12-6 8 6 2 9 16 7-11 31-14 1-3 1h-8v11l-8 10 6 18 4 3-13 27 5 6 2 13 3 2 13 1-1 18 27 20-4 13 5 11-6 19-5 3-7 25 15 14 17-13 15 9v15l20 11v1l15 4 13-10 25 3 1-1 7-20 3-28 6-5h17l7-23-10-10 4-17 18-20-1-3-8-34-1-3 6-9 21-3 3-16-9-6 4-17-25-6-14-2-5-21 15-1 11-1 24-2 26-2 8-16h-8l-11-13 6-13 19 1 4-17-16-10-16 19-5-2v-9l-8-16-15 8-4 6 1 13 13 3 6 25-2 6-18-7-4-10-22 10-4-8 5-16-3-3v-21l6-6 2-9v-1l-25-11-3 2 6 23-7 4-17 1-1-22 7-9-4-13-22 1h-5l23-1 2-12h-1v-26l18 2 1-1-2-20 17-2 3 8h17l1-16v-1l9-17-6-7-17 7-7-8-12-3 4-16-17-6-9 15-1 1-2 3-8 2-20 4 14-3-4-23h-18l-2 19-19 1-2 12-3-1h-13l-13-1h9l2-15 17 1 4-18-21-5-2 2-23-5 3 23h-12l1-5 1-2 4-16-7-6-21-3-5 4-5 21h-20v-1l-3-23 5-4 1-18-3-3h-22l-3-3 1-21 25-2 2 2 24 3 3-3-4-24 3-4-1-17 3-4 1-23h-1l5-26-1-1-1-23-2-2-21 2-6-7 4-18h23l4-4-3-18-20-5v-23l-2-1-22 1-6-5-21-1-1 1-2 24-21 2-2-1-1-25-23 1 5 5-2 19v3l-12 13-9 9 15-16-11-13h-25l-3 2 2 22 14 12-10 8-8 7 6 22-6-21-19-3-5 5h-22l-4-3-19 1-2 27-26-3-4 3 3 18h-27l3-18-1-1-26-1-1 1 4 19h-10h-24l-20-1h-1l-1 26 22 5 2 20zM2192 1647l13-1 22-1zM2187 1648l-24 1-23 1 18-1 17-1 17-1zM2143 1530h-11h2l26-1h6zM2093 1442l-4 2 10-5zM2021 1510l27-7-26 7zM1942 1414l-3 14 9 7-3 4-27 1 1-24 3-3zM1943 1391l3 4-18-20-11-11 2 1zM1908 1352l-14-17 5 5zM1877 1304l3 5 14 26zM1818 1389l-5 24-22-1-4-24 3-3-1-22h26l3 2-1 22zM1875 1272l1 7 1 18-1-10zM1878 1258l-2 2 8-10 11-12zM1976 1291l5-4 22 6-2 20-1 1h-19zM1965 1449l9 15 16 27-17-28zM1949 1436l13 10 3 3zM1991 1493l-1-1v-1zM2011 1512l-2-1-18-18zM2233 1668l6 25 5 21-7-27-4-17zM2154 1486l16 2-1 21-4 4-14-6-6-7 2-10zM2102 1531h7l-35 2 17-1zM2075 1536v10l-1-13zM2046 1547h-2l17-1h5h9zM2065 1465l3-7-8 20-7 15-2 4zM2070 1453l5 9-5-9zM2096 1596v-13l4-1 4-20 25 2-6 20v1v14l-19 8zM2077 1705l-1 9 1-14 2-31v2l18 19-4 13zM2118 1652h-3h-5h3zM1636 1256l19 32 6-5 4-26zM1745 1161l21-3 2-21-1-1-26 1v1zM1764 1516l-24-4-5 5 3 24 23-3zM1972 1614l-9 24 14 6 10-12-1-14 5-3 21 6-2-27-13 3-15-13v2zM2135 1031l3 12 3 12 7 31 1 4-9 35-3 10-16 26 29-2 16-2 14-1 18-1h6l26 1h2l39-5 1 18-4 2-19-3-4 3-2 16 21 6 2 2-6 19 3 4-3 19 2 2-1 18 17 5-2 21-22 1-11 10v2l32 14-4 16 2 4 22 5 2-2v-21h21l3 3-4 20 25 1 17 2 4-22-20-5v-15l2-3 21-3 2-17 2-1 21 1 2 3-2 17-5 3h-15l-5 18 19 9 4-2h16l3-21 4-2 21 6 1-3 10-10 8-8 6 11 15 2 9-18 14-9-13 2-3-18-7-49-1-9h16l6 19 18 4 4-23h1l14-26-5-4-5-16-8-3-8-15 13-17 14 6 8-2 13-27-35 5-8-12 8-30-1-1-19 25-1 2-9 6-10 37h-17l-2-16-37 28-22 16h-2l-12 3-26 5-14 3-6-3-26-8-12-4 15-26 1-6 2-14 3-3 24-21v-10v-19l-2-7-12-33-1-3-22-31-10 5-13 6-12 14-8 8-3 3 2-3 12-24 12-24-1-2-6-28-5-24-11-11-13-13-19-11-2-1-23-7-5-1-11 3-14 29-3 8-4 14-6 21v-29l-23 24-3 8-3 14-1 5-10 37-1 3zM2296 1148l-21 3 15-3 12-1zM2191 1078l23 2 1 2-2 25-26-4zM2302 1265l20-1 4 7-6 19h-1l-16-2-4-5zM2331 1202l-1 20-22 1-3-3 3-20zM2330 1245l1-22 21 1 2 2-7 23zM2468 1237v10v-4zM2466 1258l-1 2 3-13zM2376 1205l-1-1 5-20 20 2 2 2 1 18-6 4zM2468 1168l-5-32v-3l4 28 1 9zM2306 1442l-16-3-6 7-1 7-15 6-3 7 5 14 9-1 11-18 13-1 1-1zM2328 1483l-4-7-21 7h-1l-11 2-1 12 12 11 8-11 11 1zM2269 1739l1 10 6 9h9l3-23zM2562 2195l1 18-27 8 3 23-6 7-22-7-3-27-31-3 19 31 6 6 16 18 20 14 4 3 8 6 3 6 18 40h1l12-2 36-14 2-7 9-31v-8l-1-12v-29l-28-6-7-7 8-22-5-13-25 1-4-27-20-4-3 2h-24l-8 5-24-8-20 33h36l7 24 11-2 10-17 14-5zM2587 2277l-20-6 2-29 29 14z"/></clipPath><clipPath id="cA1"><path id="rA1" d="M729 626l-21 14 1 1 10 30 15 4-10 21-4 10-18 42 24 3h3l14 47-9-30-34 11 2 49-1 2 4 7 20 14h22l17 26-32 21 6 28 6 3 9 34-22 19-15 3-10-7-38 14-11 22h-1l-16 68-17 68-12 50-4 15-14 58-9 38-16 63-47-34-81 84 59 95-4 28-4 24 26 9-28 22 6-5-40-25-21-50-40 19-4 11-23 18-29-7-37 16-10 33 5 3 80 2 2 3-7 56h4l69 9 12 2-9 15 161 97 58 34 29 5 98 16 52 7 5-33 18 3 44 6 42 5v-2l-2-14h6l67 8 1 1-16-2-1 47-11 12 13 18 6 9 30 21v3l12 38 21-5 3-4 36 8 4-4 26-7 1-29 4-4 29 2 2-2-2-36h-33l-4-31-2-22 29 3 4-46 1-6 6-60-29 18-17-7-43 29-13-8-51 6-12-11 13-65 1-1 36 7 19-10-19-69-4-3-5-30 14-26 48-5 19-65 15-17-52-6 53 6h3l15-36-2-22 3-6-11-32 3-5 36-17 13 5-7 38 40 3 2-40 26-1 6-60 3-25v-8l2-17 6-55-40-5-15-1-10-1-44-6-14 21h-18l-7-26 13 2 25 3 11-80 3-24-72-40-5-25-14-11v-71l-8-5-19-55-11-2 47 8 9-37-8-13-45 6-7-35-13-11 6-29 3-3 39 5 19-22-21-36 6-12-18-38-11-6 10-73-8-1-9-2-40-9-45-9-13-3-9-3-47-11-25-6-23-7-71-19-16-5-19-6-20 40 29 33-3 4-42 16zM511 1483l-7 22-5 14zM474 1669l12-54 3-13zM1050 1468l16 39-12 27h-46l-16 13 6 38-5 10 10 43-38 22-25-19-47 7-3 8 22 56-17 18-77-33-5 34-10 56 9-56 20-119 12-77 15-97 1-3 3-15-3 16 37-24 15-32-38-19 2-14 41-12-2-27 11-12-7-26 35-25 9 4 26-5h1l33-8v-30l37-2 8-11 31 5 6 26 45-7 6 36-24 16 20 42v1l-34 11-9 31 6 6 10 23-8 13 7 36-12 9-27-14h-15l-11 16 10 27 31 4 4 1zM1035 871l-5-1-66 47 58 38-1 7-31 28 1 55-50 7-18-8-46 36-21-19-15-89-5-1 4-18-11-26 4-14-27-38 9-17 11 1-7-32 39-32 2-6 45 15 4 41 8 2 41 8 10 3 51 10 26 4 2 1 23 4zM857 1137l15 2 40 8zM967 1157l-8-1-47-9zM908 1167l3-16 1-4zM743 1036l-11-3 15 4zM805 1112l13-59-2 11zM758 848l-3-10-5-17zM664 1401l23 5-60-13zM733 1415l14 3-60-12zM626 1393l-12-3 13 3zM898 1227l2-12-1 6zM1076 1175l-19-3-35-5-1-1 49 8zM1067 1839l27 3 5 1-25-3zM1452 1212l-4 26 8 7-2 25-31 5-10 11 42 3-1 29-2 3-25 2-4 4 7 25 26-1h1l4 26 1 1-5 29 8 8-3 24-2 3-25-3-4 30-24-1-6 6-25-2-1-25-4-4 2-28h-1l-3-30h-26l-1-28 26-1 3-2v-29l-6-29-25 2-5-18-26-3-3 23v1l-21-1-3 31-3 30 27-5 7 5-1 26 2 1-5 29 5 5-2 26 5 3 27-5 2 1 3 29 22 1 5 25 9 1-5 35 2 1v1l-2 20-2 34-3 42v5l-3 38 16 12v-33l33 2 3 3-1 26-16 13 11 6 34 6h2l30 5 23 13 6 3 26 12 13-2 21-4h8l28 1h7l-5-25 4-5-3-31h30l-1-33-2-1-26 4-8-29-26 2-6-4 2-28-28-3-3-27-5-4 4-32 12-14-37-1-10-1-20-1h7l21 1 11-14 26-8-1-19 1-1-2-33 27 1 1-1-1-31-2-1-26 2-6-25 4-5-3-26 2-2-4-30v-1v-22h2l-1-26 7-7 24 3 3-3-1-27-7-5 2-29-4-3-1-26 1-2-2-24-27-1-1 1-34-2h-1l6 30v1l-34 3 9 31-5 6-25-3zM1579 1688l-2-2-31 1-1 26-30 8 1-32-28-3v-27l24-6 3-3v-26l30-3 6 4-3 29 28 4 4-4 30 1 2 26zM1489 1291l25 2 23 1-25-1-29-2zM1744 1047h-26h-1l-26-1h-24h-5l-22-1-33-1-1 6-8 30 1 5 6 31 2 7 4 13 9 27 22-1 2 2-1 26 24-2 3 26-3 3 3 21-1 2 2 17h-6l-4 26-6 5 6 11 11 11 3 10 6 17 30-4 1-24 2-1-2-20-22-5 1-26h1l3 1h25h26l-4-19 1-1 26 1 1 1-3 18h27l-3-18 4-3 26 3 2-27 19-1 4 3h22l5-5 19 3v-1l18-15-14-12-2-22 3-2h25l11 13 6-6 2-22-5-5 23-1 1 25 2 1 21-2 2-24 1-1 21 1 6 5 22-1 2 1v23l20 5 3 18-4 4h-23l-4 18 6 7 21-2 2 2 1 23 1 1-5 26h1l-1 23-3 4 1 17-3 4 4 24-3 3-24-3-2-2-25 2-1 21 3 3h22l3 3-1 18-5 4 3 23v1h20l5-21 5-4 21 3 7 6 7-28-2 10-4 15-5 19-2 7h12l-3-23 23 5 2-2 21 5-4 18-17-1-2 15 20 2 2-12 19-1 2-19v-1l2-21-18-3 1-20-2-22 1-1 2-16-1-1-21-4v-1l5-17-2-2 1-19-29-6v-3l-2-26-2-30 2 21 2 32 9-11 1-20 1-2 1-17 3-3v-19l20-1 1-20 1-1 2-15-8 1-4 3-16 7-5 2-13-7-4-9-8-26-6-20-7-38-1-1 3-28 2-20 1-6 3-17-13-16 2-26-2-3-7 7 3-8h-25l-1 1-26-1-3-3h-25l-4 3-2 24-2 2h-22l-4 3-28-4-3 2-28-3-1 1-26-5-10 10 6 4 25 23 9 9-27-25-4-4-31 5 2 28-3 4-29 5-11 13h44h7h17l-1 11 4 3 2 24-3 4-26-5v1l-4 24 6 4 24-4 1 2-3 24 3 3h24v22l-1 2h-25v24h-25v-23l-26-2v1l-21 2-7-6-21 3-4-23v-1l-1-21 2-2h24l3-3-2-24-23-1-1-1-25 3 1-29 23 3 5-4zM2084 1181l-1-14v-1zM2030 1113l-15 1-25 1 17-1 12-1 46-2zM1881 1038v8l-1-14-1-11zM1715 1213l5-25 22 5 6-6 20 1 3 24-3 3h-22l-3-4-24 5zM1669 1138l1-23 21-2 4 23zM1930 1117l24-1-17 1-23 1zM1886 1082l6 7-3-3zM1935 1139l1 1-8-8zM2092 1352l1-9 1-5v1zM2091 1287l1 12 1 15zM1697 1387l15-4 5 5-6 23 1 1 3 24-1 2-18 1v24l15 1 4 25-1 2-3 19 2 2-3 41h17h29l-22 38 18 10 1 11 18 15-1 12 7 9 18-1 9 4 3 27-8 7-26-10-3 3 4 32 2 3-9 16 1 3h40l-11 29 3 4v29l-1 2-34-2-5-7-10-2-14 11v8h19l-2 16-27-3-1 22h-34l-2 2-32-1-1-1-33 2-2 2 3 31 1 1-4 34 5 4v32l2 2 34-5 5 5 30-8 4 3 35-3 13-12-9-13-1-3 11-6 17 3 13 23 27-6 1-3 9-9 24-4 1 2 27 9 8-12 12-2-2 4-3 12 10 4 5-2 26 5 1-2-1-22-1-2 2-22-9-8 21-23-8-10 5-15 12-3 7-17h17l5 14 26 3 1 2 35 1 2-1-5-24 20-3 16 11 1-17v3l-2 31-2 34-1 20 2-44h-4l-28 24v19l30 6v3l3 26 1 17v-1l-14 6-6-3-24 7-1 20 3 6 25-6 18 26 4 3v3h19l5-26 5 20 2 12 25-5 13-2 10-2 39-6 17 5 14 4 21 6 4 7 17 26 21 2 1 1 39-27 1-1 17-12 14 8 20 11 17 20 21 25 4 2 8 5 16 9-3 27-3 25 2 9 2 11 2 12 19 36 5 10 7 11 31 3 3 27 22 7 6-7-3-23 27-8-1-18-14-6-14 5-10 17-11 2-7-24h-36l20-33 24 8 8-5h24l3-2 20 4 4 27 25-1 5 13-8 22 7 7 28 6v-25l-3-6-19-40-1-1-4-10-7-20-11-36-2-4-18-28-16-24-1-1-19-8-3 2 1 33-4 2-26-13 3-22-1-1-32-2-5 4-23-15-5 3h-30l3-28v-1l-1-26 11-7 19 4 8-4 16 9 18-6 20 14 19-10-2-9-6-25h-29h-6l-1 28-10-14-18 1-29 1-34 1-29 1h-21l-37 1v-1l-10-20-6-40-1-8-4-24 5-16-36 4-6-13h-17l-6 5-3 28-7 20-1 1-25-3-13 10-15-4v-1l-20-11v-15l-15-9-17 13-15-14 7-25 5-3 6-19-5-11 4-13-27-20 1-18-13-1-3-2-2-13-5-6-18-4-4 4-25-1-6-7-13-3-2-6 8-19-21-30h10l20-1 10 12 21-4 1-9-23 1 19-1 28-1h14l3-1h6h8l11-32-16-7-2-9-8-6-12 6-4 14-2 1-18-5-3-2v-14l4-5h12l17-17-6-3-21 3-3 5-24-11-26-3 1-3-17-1-3 2-19 1 3-8 3-9-48 1h-17l35-1h6l13-10v-26l-3-3 1-21-2-3h-23l-1 2-22 3v-1h-24l-2-2v-21l-5-5-18-1-4-24-22 1-5 24h-1l1 25-23 4-5-6 6-24-1-1-27-1v-1l-2-20 4-4-3-24h-22l-3-25 3-3-1-23 2-4-4-20h-21l-5 26-1 1-15-4 3 5zM2128 1969l-3-17-1-10 8 50zM2138 1941l35-2 31-1-19 1-40 2-21 1zM2264 1934h-8l29-2zM1859 1848l14-23 4-3 31 5 5 15 4 13-9 16-6 10-1-2 10-42-44 21zM1844 1553h-3l31-1h7zM1813 1804h18l21 1h-1zM1761 1538l-23 3-3-24 5-5 24 4zM1982 1586v-2l15 13 13-3 2 27-21-6-5 3 1 14-10 12-14-6 7-19zM1952 1587h-10l25-1h15zM1901 1790v2l-1-16zM1935 1689l-17-11zM1966 1658l-5 1h-12zM1952 1655l8-7-11 11zM2074 1959l6-6-6 6zM2200 1922l19 14zM2231 1936l6-1h7zM1818 1389l-1-2 1-22-3-2h-26l1 22-3 3 4 24 22 1zM1770 1960l4-5 2-17-22-4 1 2v28zM2018 863l6 1 10 2 16 14v6l-1 19 14 17 12-22 5-10 8-17 21 8 16-21v-1l28-12 11-4 29 7 11 2 41-12-13-17-13-15-1-1-27 3-5-20-12 3-28 7-11 3-14 7-20 12-16-3-19-2-19-12-12-8h-4l-18-2 11-15v-1l18-27-27 14-6 4-34 23-6 3-26 11h-2l-25 16 21 9 41 18 5 2 16 7zM1942 1414l-20-1-3 3-1 24 27-1 3-4-9-7zM2001 1313l2-20-22-6-5 4 5 23h19zM2079 1671l-2 34 16-2 4-13zM2166 1157l-15 2-2 21 22 1 1-1 18 1v-1h22l1 1-3 22v22l-5 3v15l19 5v17l-2 2 3 21h17l-2-22-1-10 4 38 11-10 22-1 2-21-17-5 1-18-2-2 3-19-3-4 6-19-2-2-21-6 2-16 4-3 19 3 4-2-1-18-22 3-19 2-16-1h-16h-6l-23 2zM2231 1167l3 30 1 14v5l-1-11-2-22-2-27zM2237 1237l1 9-12 1 1-20 9-6zM2275 1310l-32-14 3 32 1 16-7 7h-19l-4-4-18 3-2 17-1 1-5 20-15-2-2-18-17-2-2 20 16 3v18l-2 2 4 23 14-3 12-19 17 6-4 16 12 3 7 8 17-7 6 7-9 17v1l20 5 3-7 15-6 1-7 6-7 16 3-2 17-1 1-13 1-11 18 12 6 11-2h1l21-7 4 7-7 15 1 1-1 21h-3l12 10-11 18-1 1 8 27-5 5-4 17-19-1-6 13 11 13h8l8-15 3-2 26-13 20-16 2-1 24-17 3-3 4-1 25-8 6-2 14-38-31 3-29 3-7 1-30 3-19 2 12-9 27-19 14-11 3-2 3-4 2-17 16-2 5-5-13-26-14 12-15-5-9 16h-11l-4-8 1-10 3-4 12-1 7-15 20-2-10-25-1-2 6-4 15-11 13-22 1-2 3-9-11-11h-16l-4 2-19-9 5-18-5-6-21 3-2 3v15l20 5-4 22-17-2-25-1 4-20-3-3h-21v21l-2 2-22-5-2-4zM2265 1342l-3 1-15 1zM2353 1361l7 5 18 14zM2235 1377l-21 3 3-6 18-17zM2344 1363l-8 2-5 1 4-1zM2284 1362v1l-3-4zM2244 1310l-21-3-2 2h-19l-1 17 16 6 7-6 22 5zM2169 1509l1-21-16-2-7 4-2 10 6 7 14 6zM2123 1584l6-20-25-2-4 20-4 1v13l8 11 19-8v-14zM2271 1593l-13-3-1-13-22-14-6 6v21l3 3-5 16 4 8 22-10 4 10 18 7 2-6zM2256 1765l-18 20-4 17 10 10 26-1-6-14zM2402 1188l-2-2-20-2-5 20 1 1 21 5 6-4zM2308 1200l-3 20 3 3 22-1 1-20zM2330 1245l17 4 7-23-2-2-21-1zM2299 1283l4 5 16 2h1l6-19-4-7-20 1zM2297 1549l-9 1-9 5-3 8 8 16v9l5 2 16-19-5-8zM2517 1053l1 1-8 30 8 13 23-4 12-2-13 27-8 2-14-6-13 17 8 15 8 3 5 16 5 4-14 26 25 6 1 23h27l1 2-6 33 28-5 1-21 8-5 9-18 5 1 10 6 30-6 1-15-1-2 9-23-3-7-26-8 8-20 31-1v-14l-4-5-23-12v-2l7-19h16l15-17-8 2-22 4 14-3-6-10 16-20-30-19 2-11 3-3-5-33-3-3-7 7-31 9-10 2h-2l-33 1h-14l-28 13 5 10 8 16zM2592 1519l5 4-8 26-1 1-2 14 9 10 10-1 7 5 7 21 6 2 16-5 13 8 1 2 25 3 6-22-5-6-3-17 12-7 16 5 2-1 18 3 9-7 3-9-7-10-17-6-3 4-22 3h-1l-2-25h-11l-13 13-15-1-6-10 1-13 6-6 17 5 15-25-18 3-11 1-30 5 1 7-9 8h-18l-7-10-22 3 8 31zM2569 2242l-2 29 20 6 11-21z"/></clipPath><clipPath id="cA2"><path id="rA2" d="M256 505l-10 29-8 19-32 69-2 3-21 46-10 22-28 38-3 3-27 32-3 26-4 43-7 18-2 20-14 28-11 21-22 22 3 34 1 15 3 33-9 43 1 3 8 25 4 36 2 20 7 10 15 19-8 43 4 7 8 13 3 6 12 12-15 16-4 23 21 53 1 3 19 31 7 26-1 10-1 21-2 21 47 18 22 16 7 8 18 21 19 5v11l1 9 28 19 18 38 10-33 37-16 29 7 23-18 4-11 40-19 21 50 40 25 22-17-26-9 8-52-5-8-26-41-35-56-8-13 15 23 81-84 48 34 24-100 12-51 10-39 30-125 11-45 1 1 11-23 38-14 10 7 15-3 22-19-9-34-6-3-6-28 32-21-17-26h-22l-20-14-4-7 1-2-2-49 34-11-5-17-27-3 15-35 3-7 1-4 13-27-15-4-10-30-1-1 21-14-4-33 42-16 3-4-29-33 20-40-61-18-45-15-59-21-62-22-18-7-42-17-44-18-41-16 2 21-8 26-2 27v5l-8 14-6 13-20 21-21 4-7-9 6 8 7-21 7-7 22-23v-18l-14-8-4-2-41-23-24-25-3 22-6 39-1 6-5 47-3 10zM262 543l12 7-28-16zM341 1305l23-2zM281 1082l23-69 24-73 7-21-13 40-43 131-14 42zM381 934l7 2 48 16zM454 957l37 11-36-10-19-6zM408 640l31 2 6 1zM306 1208l-38-61-5-9 36 59zM256 891l-38-14 14 5zM327 916l-55-19 32 11zM323 1237l-10-18 21 36zM618 577l-10 29 1-3zM513 911l-5 17-13 42 11-36zM545 984l-18-5-32-9zM562 769l8-10-6 7zM600 725l-22 25-8 9zM590 683l-54-18 46 15zM633 1008l21 6-54-14zM682 586v4l-3-27zM696 622l-11-25-3-7zM299 1629l-2 23 5 15 38 4 31 5 7-56-2-3-80-2-5-3zM1087 660l18 38-6 12 21 36-19 22-39-5-3 3-6 29 13 11 7 35 45-6 8 13-9 37 5 1-41-7 19 55 8 5v71l14 11 5 25 72 40 5-41 6-46 14-98 9-68 4-28 1-7 12-83 6-41 9-62-42-6-51-8-5-1-67-13-14-3-10 73zM1180 895l-7-1 18 2 33 5zM851 906l7-34 3-15 5-21 43 9-4-41-45-15-2 6-39 32 7 31h-11l-9 17 27 38-4 14 11 26zM1154 1211h18l14-21 16 2 34 4 4 1 31 3 18 2 6 1-2 15-2 24-4 33-2 25 21 1v-1l3-23 23 2 18 2-15-1 5 18 25-2 6 29v29l-3 2-26 1 1 28h26l3 30h1l-2 28 4 4 1 25 25 2 6-6 24 1 4-30 25 3 2-3 3-24-8-8 5-29-1-1-4-26h-1l-26 1-7-25 4-4 25-2 2-3 1-29-35-2-8-1h1l10-11 31-5 2-25-8-7 4-26 2-1 25 3 5-6-9-31 34-3v-1l-6-30-23 2-9-26-24 6-5-5-23-1-8 10-28-5-3 32-23 1-8-28-22-1-1-1-3-30h-1l-10-39-7-1-42-4-5-1-31-4-23-3-4 33-4 34-4 32-1 6-6 40-38-5zM1023 1206v30l-33 8h-1l-26 5-9-4-35 25 7 26-11 12 2 27-41 12-3 14 39 19-15 32-37 24-1 2-6 40-3 18-15 97-16 96-1 8 77 33 17-18-22-56 3-8 47-7 25 19 38-22-10-43 5-10-6-38 16-13h46l12-27-16-39-5-1 24 3-10-27 11-16h15l27 14 12-9-7-36 8-13-10-23-6-6 9-31 34-11v-1l-20-42 24-16-6-36-45 7-6-26-31-5-8 11zM1002 1461h-1l44 6zM955 1842l12 14 17 18 14 18 11-12 1-47-25-3-33-4zM1154 1936l-4 4-1 29-26 7-4 4-36-8-3 4-21 5 11 39 5 4 19 17 21 11 31 18 17-27 16-26 20-7 6-2 18 4 12 3 26 5 20 22 10 11 6 14 16 35 6 18 2 6 3 9 35 42 13 16 2 5 8 31 12 45h1l44 20 13 6 14 5 31 11 23-6-1-15-1-24-3-16-5-29v-6l7-19 10-24 18-15 28-23 10-6 22-11 3-3 40-27 8-5 10-7 16-11 33-15 21-10 49-24v-1l-10-19 8-11-13-29-15 4v-28l-6-9-13 12-35 3-4-3-30 8-5-5-34 5 3 30-2 2 4 33-1 2 2 29-33 6-2-2-33 5 4 32-3 4h-33l1 32-30 5 2 31-2 2-31-1-6-34-34 3-1-1-32 2-3 3-33 2 2-38-2-1-28 1-8-30v-1l2-35-1-1-43 8 3-36-2-2 2-35-3-3 1-28-2-2 2-30h-38l5-32-4-4-5-33h1l35-1-6-37 4-3-2-34-1-1-3-29 33-6 2-30h-37h-1l-34 6-5-3-31 2 5 35-1 1-20 3-4 32-3 36-3 27-2 22-29-3 2 22 4 31h33l2 36-2 2zM1745 2001l3-11-2 9zM1279 1361l-3 26h36l1-26-7-5zM1305 1659l5 29 29-2 4 3 35-6-6-4 2-27 3-38 2-29 3-46-35-3-10 12-3 36 1 1 2 31 2 2 2 33h-31zM1686 645l19 4-4-23-14-5zM1619 774l1-29-2-32h-27l1 12 2 22 4 28 20 1zM1651 901l-28 6-5-34-9-7v1l-16 24 20 23v6l-1 16-1 30-2 41-2 37 51 2h4h28l27 1h27l3 11-5 4-23-3-1 29 25-3 1 1 23 1 2 24-3 3h-24l-2 2 1 21 26-1 1 1-2 21 7 6 21-2v-1l26 2v23h25v-24h25l1-2v-22h-24l-3-3 3-24-1-2-24 4-6-4 4-24v-1l26 5 3-4-2-24-4-3 1-11h-17h-19h-13h-15h-4l11-13 29-5 3-4-2-28 31-5-3-3-31-19 25 15 10-10 26 5 1-1 28 3 3-2 28 4 4-3h22l2-2 2-24 4-3h25l3 3 26 1 1-1h25l4-10 10-23-14-17 1-8v-17l-16-14-10-2-24-5h-1l-15-7h-1l-44-19-20-8-3-2-16-5-9-21-7 4-22 11h-7h-22l-10 8v8v31l-1 1-12 14-10 11-19-14-2-31-26-3-7 7 3 27-34 3-25-3-5 4-2 29zM1794 893l-1-1 8 7zM1506 1115l2 1-4 27 34 2 1-1 27 1 1-1 31-7 4 27 19 2-14-42-2-8-13-8-15-10-11-9-31 3-12 1-21-15-4-4-14-1-13 20 5 18zM1668 1371l2 23 27 3 1-32-2-2zM1553 1488l-26 8-11 14 2 1 38 1-2-23zM1515 1721l30-8 1-26 31-1-1-28-28-4 3-29-6-4-30 3v26l-3 3-24 6v27l28 3zM1622 1810l33-3-2-31 3-4-10-30h-26h-11l-24-1 3 35h1l27 4 3 28zM1588 1874l-5 6 9 32 29-3 4-34-1-1zM1767 1908l-17-3-12 6 2 3 14 20 22 4-2 17 29 6 2 2 27 1 3-19 4-3 3-31-1-2-24 4-9 9-1 3-27 6zM1846 708l-10-4-19-3-1-1-7 8 8 31 25 2zM2074 960l4-17 15-37-35 46-5 4 2 3-2 26 13 16 4-21zM2099 1258l-9 11v6l29 6-1 19 2 2-5 17v1l21 4 1 1-2 16-1 1 2 22-1 20 18 3-2 21v1h18l2-2v-18l-16-3 2-20 17 2 2 18 15 2 5-20 1-1 2-17 18-3 4 4h20l6-7-1-13-22-5-7 6-16-6 1-17h19l2-2 21 3-2-22h-17l-3-21 2-2v-17l-19-5v-15l5-3v-22l3-22-1-1h-22v1l-18-1-1 1-22-1 2-21-22 1-2 15-1 1-1 20-20 1v19l-3 3-1 17-1 2zM1998 1716l6 7 25 1 4-4 18 4 13-27-4-3-6-18 8-10v-11l-30 1-1 9-21 4-10-12-30 1 21 30-8 19 2 6zM1954 1805l-7 17-12 3-5 15 8 10-21 23 9 8-2 22 1 2 1 22-1 2 4 20h15l32-1 14-1-1 5h3l2 3 32 4 1-20 24-7 6 3 14-6-3-38-1-7-30-6v-19l28-24h4l2-27-16-11-20 3 5 24-2 1-35-1-1-2-26-3-5-14zM1911 1837l-3-10-31-5-4 3-14 23 8 10zM1917 1855l-6-18-10 42 2 3zM2215 1082l-1-2-23-2-4 25 26 4zM2236 1221l-9 6-1 20 12-1zM2217 1374l-3 6 21-3v-21zM2385 1436l14-12-5-4-5-13-20 2-7 15-12 1-3 4-1 10 4 8h11l9-16zM2406 1511h4l25-3-1-16-18 4v-2l4-20-16-6-3-6-18 18-20 15-33 24 43-4zM2319 1608l-16 31h-4l-35 3-11 1-26 2 5 21 14 2 25 6-4 17 9 6-3 16-21 3-6 9 1 3 7 27 6 26 1 6 3 10 6 14-26 1-7 23 6 13 36-4-5 16v1l2 12 3 19 1 7 5 30v3l4 9 6 12 27-1 39-1h8l24-1h18l25-1h15l12-1 10 14 1-20v-8h9h14h12l2-11 4-19v-2l3-25v-3l5-14 9-27 8-9-15-46-22 7 2-30-27-2-3 2 10 10-6 5-25 8-1 14-4 4v11l3 8 11 5 1 5-16 15 5 11 6 1 8 10-1 14-3 2h-16l-6-8-18 8v15l-18 3-8-10-13-2-3 2-20-6-5-6-15 14-8-7-16 9-5-7 6-15-18-7 7-20-6-7 1-3 10-14-10-17 10-6-13-20 12-5 12 14-5 9 11 15 17-4-8-19 8-7-1-13-11-4-4-4-18 7-8-13 2-12-13-7-2-9 6-11 18 2 3 4-7 20 18 6 7-6-3-17 6-6 1-17-3-3 1-17 5-7 15 4 4 5-17 17 12 6 20-2-2-17 6-8 16 2 5 7 8-4 29 10 1-1 21 7-6 30 32-4 3 4 16 1 2 2 31 3 3-16-8-12 13-23-9-11h-21l-2 29-26-5 8-22-26-7 5-24-2-3-29-6-2 1-1 29h-26l-6-13-28 8v-28l-6 3-13 23 2-4 10-19-35 3-12 1-14 2 3-1 40-4-4-17 3-4h25l12 12 4-1 8-24 12-3 13 6 15-25 15 5 24 7 1 2 21-9 9 12 13-6 11 6v28l1 5 2-1 22-34 10 5-2 26 10-1 12 9 31 23 10 8-11-8v24l14 21 1-3 20-16 36-3h1l18-31 14-23 22-7 23-8 4-5 13-15 22-24 13-14-7-19-15-37-5-11-22-10-7-12 19-3-5-9-9-16-9-2v13l-5 19-17 3-18 3-41 7-4 1-15 25-17-5-6 6-1 13 6 10 15 1 13-13h11l2 25h1l22-3 3-4 17 6 7 10-3 9-9 7-18-3-2 1-16-5-12 7 3 17 5 6-6 22-25-3-1-2-13-8-16 5-6-2-16 12-16-19 8-18-9-10 2-14 1-1 8-26-5-4-18 6-8-31 18-3 1-10-1-1 2-15-15-3-6 8-10-1-1-23-12 4-4 16 13 5-2 25-4 1-19 2-9 1-19 2 6-1 31-3-9-11 5-17-12-12-14 7h-3l-6 18-5 20h-4l-6 1-35 3-9 23-5 15-14 4-21 7-10 7-17 13-11 8-11 9-23 12zM2529 1832l-14-9 17 10zM2378 1663l14 7-11-5-17-9-1-1zM2512 1818l-7 15 7-15zM2269 1739l19-4-3 23h-9l-6-9zM2354 1759l13 7-2 18h-1l-1 8 9 10-15 21 4 3 22-5-1-16 7-5 14 6 3 10 18-6 1-14 4-3-3-19-9-2-11 14-15-3h-1l2-17 14-4 3-8-14-21-6 10-2 20-11-2-5-16-2-2-14 1zM2338 1841h1l1-9-11-7-17 17 9 6 4 17 6 2 8-3zM2480 1092l-21 15 2 16h17l10-37zM2499 1303l4 4-2 17 14 8 16-4 5 3 4 19 2 3 2-6 16 3h-2l-13 25-9-3v1h-16l-5 22 2 2 12-1v-1l8-2 1-1 22 10 3-3-6-15 12-7-6-25 23 13 4-1 13 7 11-19-20-7-4-8-13 4-3 6-7-12 5-28-3-3-15 2-4-9-3 3-2-11-1-1 1-1-4-25 8-1 16 21 6-6 11-15 20-1h1l22-2 17 16 2 1 15 14 2 1 10 5-2-1-6 1-22-4-1-1-16-5-15-6-8 15h14l7 17 10 1 4-1 12 6 2 5 18 5 4-4 3-26 3 1 11 5-4 14-5 21 16 4h2l36 12 2-5-4-13v-3l-12-36-2-7v-10l-26-3-1-1-15-10-5 2-19-7 1-17-17 3-4 1 8-2-14-29-10-6-5-1-9 18-8 5-1 21 22-4-15 3-35 5 6-32-1-2h-27l-1-23-25-6h-1l-4 23-18-4-6-19h-16l1 9 1 8 5 30v3l4 26 18-3 3 4zM2562 1350l1 2zM2534 1264l-24 3 6-1 25-4zM2370 1272l-2 1-2 17 5 6h15l5-3 2-17-2-3zM2430 1312l1-2 5 4 10-1 12 14 13-3 10 17 8 1 12-18-27-3 2-22-3-3-15-2-6-11-18 18-1 3-21-6-4 2-3 21 11 11 3-14zM2408 1351l-9 14-8 6-13 9 9 22 3-2 4-25 26 3 2-12zM2495 1387l3-16-8-10-20 7-1 17zM2468 1403l-21 9-6 13 22 5-3 27 5-1 24-14-6-9 3-22-16-6zM2516 1431l-21 9 8 5 13-5 2-5zM2426 1445l-2 27 9 3 8-7-2-8zM2418 1726l1 1 19-2 2-2-23-21zM2377 1725l18 8 5-5-5-25-17-2-4 20zM2430 1828l-18 2-7-11-17 6 1 15 11 4 8-3 15 11 11-20zM2404 2023h30l5-3 23 15 5-4 32 2 1 1-3 22 26 13 4-2-1-33 3-2 19 8-14-29-1-1-9-18-7-24-19 10-20-14-18 6-16-9-8 4-19-4-11 7 1 26v1zM2652 1009l-2 11 30 19-16 20 6 10 8-1 8-2-15 17h-16l-7 19v2l23 12 4 5v14l-31 1-8 20 26 8 3 7-9 23 1 2-1 15 1 2 25 17 3 8 24-5 24-4 14-3 9-11 11 1h1l13-11v1l11 21-14 14 15 11 5 7 11 14 13-23 9-15 3-10 7-18 2-7-4-28-3-20-13-1h-2l2-4v-3l3-2 4-8 6 8 35-12 22-12 19-11 30-28h-25l-13 16-18 6-9 3-35 14 4-11 34-26 2-1h1l31-11 25-9 2-2 20-14h1l9-6 5-2 18-20 8 9 33-19-1-5-5-15-12-4 7 18-7 2-14 5-4-3-7-7-15-13-12-11 3-6 12-22-16-12 2-19 13-43 2-4 18-13 31-29 2-10 3-13 2-11 33-3 26-24 3-4 21-30-29-17-11-25-3-6-24-16-12-33-17-50-19-8-13-5-24 23-8-9-6-6h-9l-11 35-2 7-7 25-2 15-2 25 1 8 4 26-7 23-5 19h-13l-15 8-1 19-36 10-14 4-30 8-14 3-40 10-31 8-6 5-14 12-11 15-14 20-4 7-9 13-7 11 8 25 5 14-14 9-7 8 3 3 5 33zM2789 1194l-2 3-6 8zM2906 776l17 53 1 4-3-9-20-63zM2926 839l19 58-2-6-8-24-11-34zM2889 816l-1-6-3-22zM2798 1179l-20-11 17 9zM2775 1164l-10-16 8 12 5 8zM2766 1128v12l-1 8zM2800 855v-1v-2zM2766 1125l17-30-11 20zM2794 1099l-6-2-5-2zM2742 1060l1 2-6-7zM2880 843l11-17-14 23-4 5zM2864 1023l26-5-30 6-24 5zM2901 1015l17-4 10-2-28 6zM2948 1003h3l-23 6zM2824 923l-2-9 7 29 7 33-3-14zM2814 916l7-2h1zM2810 899l4 15v2zM2847 973l33-7-9 2-35 8zM2877 952l-3-18 6 32zM2956 1012l-7 6 7-6zM2818 1106l7 2 7 3zM2844 1066l1-1zM2696 1374l7-11-17-12-1-2-14-7-4-4-21 10-5-13-9-3-6 2-11-9-8 3 10 22h3l6 4 20-5 3 7 11 9 4-2 15 3 3 5zM2577 1437l5 5 7 4 8-2 6-19h1l5-4 9-12-1-5 6-11-20-13-6 9 2 7-19 14 2 10-3 3zM2658 1417l18-6 14 6 13-13-16-9-3 1-8 7-17-12-3 1-14 2-2 17-5 6v10l12 4 9-3zM2608 1468l1 7 5 12 30-5 18-2 10-2-7-13 3-12-3-4h-16l-3 2-6 17-5-1-9-6-2-18h-3l-15 7 1 17zM2621 1486l-33 5 7 10h18l9-8zM2567 1768l-6-5 13-26-3-3-28 5-2 18-6 5-3 11 30 26 4-4 22-22 14-14zM2780 1354l-4 14-7 22 6 27 10-23 4-13 9-27 4-11 5-21v-3l1-9-33 6-10 2-4-20-5 5-8 30 6 6 22-8 15 9 3 7zM2722 1367l-3 15-4 7 1 11 15 3 10-10-3-8 3-20zM2707 1440l5-4 5-9-5-11-18 9v4l-9 6 3 19h11l6-4zM2734 1426l-2 1-5 17 2 3 11 3 4-6-2-15z"/></clipPath><clipPath id="cA3"><path id="rA3" d="M1233 833l-3 25-6 37v6l-5 31-4 33-2 15-9 65 31 4 15 2 13 2 45 5h4l10 39h1l3 30 1 1 22 1 8 28 23-1 3-32 28 5 8-10 23 1 5 5 24-6 9 26 23-2h1l4-27-2-1-30-4-5-18 13-19h6h8l25 18v1l29-3 14-1 26 19 13 8-7-36 2-8 7-28 1-4v-21l2-48 2-41 1-16-19-22-1-1 16-24-1-13 1 12 9 7 5 34 28-6 32 3 2-29 5-4 25 3 34-3-3-27 7-7 26 3 2 31 19 14 23-26v-21v-18l5-4 5-4 24-22 1-1 32-32 3-1 16-9 24-13 24-16-19 1-20-6-13-4-11-3-19 7-10 3-19-8-4 33-25-2-8-31 7-8-26-22-14-1h-3l-23 5-6-2-27-9-5-1-5-10-2-11-19-4v4h-4l-32-2-28-1-35-1-41-3-19-1-19-2-39-3-13-1-9-1-55-6-30-3-9-1-45-6-43-6-6 37-8 58-5 38-7 44-4 27zM1349 1062l31 3h-2l-31-3-25-3zM1298 841l23 3-28-3-6-1zM1354 848l-13-1h1zM1418 854l15 2-35-3-4-1zM1530 863h4l-26-1-6-1zM1618 713l2 32-1 29-1 2-20-1 2 22-1-8-5-42-2-22-1-12zM1605 822l3 19-3-18-5-26zM1277 1754l1 1 2 34-4 3 6 37-35 1h-1l5 33 4 4-5 32h38l-2 30 2 2-1 28 3 3-2 35 2 2-3 36 43-8 1 1-2 35v1l8 30 28-1 2 1-2 38 33-2 3-3 32-2 1 1 34-3 6 34 31 1 2-2-2-31 30-5-1-32h33l3-4-4-32 33-5 2 2 33-6-2-29 1-2-4-33 2-2-3-30-2-2v-32l-5-4-29 3-9-32 5-6h36l-3-31 2-2-1-31-3-2-3-28-27-4h-1l-3-35h-12l-19 3-15 3-21-10-5-2-29-16-5-1-25-4-5-1-26-4-5-1-11-6 16-13 1-26-3-3-33-2v33l1 1-8-6-3-3-35 6-4-3-29 2-1 1-2 30-33 6zM1770 1960l13 29-8 11 10 19v1l-49 24 34-5 19 6 14 5 5 1 24 3 7 1 25 3 5 2 8 4 19 8 32 18 7-2 5-1 38-9h3l16 3 19 3 16 7 9-15-7-18-6-18-12-21-2-4-13-7 3-3 16-8 12-1 44-5v-3l-4-3-18-26-25 6-3-6-32-4-2-3h-3l-4 21 3-17 2-9-37 1-9 1h-14h-1l-4-20-26-5-5 2-10-4-4 14 7-26 3-4-13 2-8 12-27-9-3 31-4 3-3 19-27-1-2-2-29-6zM1876 1950l16-1h12zM2209 1491l-1 1-18-2v26h1l-2 12 17-1 14-1 28-1h5l-20 1h-8l-32 2 4 13-7 9 1 22 17-1 7-4-6-23 3-2 25 11v1l-2 9 22 14 4-6 15-8 3-8 9-5 9-1 3 14 5 8 16 10 5-5-8-27 1-1 11-18-12-10h3l1-21-1-1-11-1-8 11-12-11 1-12-12-6-9 1-5-14-20-5-1 16h-17l-3-8-17 2zM2283 1522l18-1h5h-4l-28 2zM2330 1756l4 4 11 4 1 13-8 7 8 19-17 4-11-15 5-9-12-14-12 5 13 20-10 6 10 17-10 14-1 3 6 7-7 20 18 7-6 15 5 7 16-9 8 7 15-14 5 6 20 6 3-2 13 2 8 10 18-3v-15l18-8 6 8h16l3-2 1-14-8-10-6-1-5-11 16-15-1-5-11-5-3-8v-11l4-4 1-14 25-8 6-5-19-18-10-10 19 18 3-2 27 2-2 30 22-7 15 46 3-4 14-17 5-4-30-26 3-11 6-5 2-18 28-5 3 3-13 26 6 5 35-9 1-1 23-23 7-21 5-15-14-21v-24l-10-7-32-25h-3l-7 1 2-26-10-5-22 34 28-3-21 3-9 1-1-5v-28l-11-6-13 6-9-12-21 9-1-2-24-7-15-5-15 25-13-6-12 3-8 23-11 5 7-3-12-12h-25l-3 4 4 17 19-1 6-3v28l28-8 6 13h26l1-29 2-1 29 6 2 3-5 24 26 7-8 22 26 5 2-29h21l9 11-13 23 8 12-3 16-31-3-2-2-16-1-3-4-32 4 6-30-21-7-1 1-29-10-8 4-1-2-4-5-16-2-6 8 2 17-20 2-12-6 17-17-4-5-15-4-5 7-1 17 3 3-1 17-6 6 3 17-7 6-18-6 7-20-3-4-18-2-6 11 2 9 13 7-2 12 8 13zM2440 1723l-2 2-19 2-1-1-1-24-1-1 12 11 22 19 6 6zM2321 1848l-9-6 17-17 11 7-1 9h-1l1 23-8 3-6-2zM2389 1840l-1-15 17-6 7 11 18-2 4 4-11 20-15-11-8 3zM2387 1763l2-20 6-10 14 21-3 8-14 4-2 17h1l15 3 11-14 9 2 3 19-4 3-1 14-18 6-3-10-14-6-7 5 1 16-22 5-4-3 15-21-9-10 1-8h1l2-18-13-7 1-15 14-1 2 2 5 16zM2377 1725l-3-4 4-20 17 2 5 25-5 5zM2422 1612l13-1 22-1h5l-16 1zM2523 1631l1-3zM2420 1378l-26-3-4 25-3 2 7 18 19 14 8 6-22-16 13 26-11 12 3 6 16 6-4 20v2l18-4 1 16 11-1h1l28-3 16-1 5-20 6-18h3l14-7 12 12-5 17 9 11 10-1h4l2-26-13-5 4-16 12-4 1 23 10 1 6-8 15 3-2 15 1 1-1 10 30-4-5-12-1-7-1-1-1-17 15-7h3l2 18 9 6 5 1 6-17 3-2h16l3 4-3 12 7 13 11-2 18-3 21-4 20-3 18-3 5-19v-13l-9-1-1-7-3-12-3-18-1-3-4-26-2-7-19-7-15-4-10-4-5-1-13-3 3-13 6-22-14-7-3 27-4 4-18-5-2-5-12-6-4 1-10-1-7-17h-14l8-15 9 4 22 7 1 1 22 4 6-1-10-5-15-14-19-17-23 2-13 1h-7l-11 15-4 4-2 2-16-21-8 1 6 38 3-3 4 9 15-2 3 3-5 28 7 12 4-6 12-4 4 8 20 7-11 19-13-7-4 1-23-13 6 25-12 7 6 15-3 3-22-10-1 1-8 2v1l-12 1-2-2 5-22h16v-1l9 3 13-25-14-3-3 10 1-4-2-3-4-19-5-3-16 4-14-8-12 18-8-1-10-17-13 3-12-14-10 1-6-4v2l-11 6-5 19-1 4-5 10 14 15zM2463 1456l-3 1 3-27-22-5 6-13 21-9 2 2 16 6-3 22 6 9h1l-18 10-7 4zM2501 1437l15-5 2 3-2 5-13 5-8-5-5 2zM2490 1361l8 10-3 16-26-2 1-17zM2426 1445l14 16-1-1 2 8-8 7-9-3zM2626 1334l6-2 9 3 5 13 21-10 4 4 14 7 1 2 17 12-7 11-14-3-3-5-15-3-4 2-11-9-3-7-20 5-6-4h-3l-10-22 8-3zM2594 1310l5-12 1-3zM2591 1317l-5 9 8-16zM2577 1437l2-14 3-3-2-10 19-14-2-7 6-9 20 13-6 11 1 5-9 12-5 4h-1l-6 19-8 2-7-4zM2521 1420l5-16-2 8-6 19zM2731 1403l-15-3-1-11 4-7 3-15 19-2-3 20 3 8zM2659 1391l17 12 8-7 3-1 16 9-13 13-14-6-18 6-2 11-9 3-12-4v-10l5-6 2-17 14-2zM2712 1436l-5 4-2 10-6 4h-11l-3-19 9-6v-4l18-9 5 11zM2729 1447l-2-3 5-17 2-1 8 3 2 15-4 6zM2389 1474l18-19-16 2zM2501 1324l2-17-4-4 5-31-3-4-5 1-14 9-9 18 3 3-2 22zM2595 1574l-8 18 16 19 16-12-7-21-7-5zM2792 1227l-11-21-13 10-3 16 13 9zM2656 1211l-30 6 14 29 41-7 4-1-3-8-25-17zM2748 1333l8-30 5-5 4 20 19-4 24-4-8-23-5-4-16-13-16-34 5-20-12-1-9 11-19 4-27 5-20 4-11 2-17 3-1 17 19 7 5-2 15 10 1 1 26 3-1-9 9-11 13-16v14l1 24v3l-3 22-1 13zM2732 1333v3l4 13-2 5 8 3-4-9-5-12zM2780 1354l14-7-3-7-15-9-22 8 14 13zM2788 1458l-19 3 7 12 22 10z"/></clipPath><clipPath id="cB0"><path id="rB0" d="M163 856l20 8-14-66 13-26 29-1 21 27 30 3 20-24-5-24-20-11-35 9-19-47-4-1-16-32-10 22-28 38-3 3-27 32-3 26-4 43zM593 1273l-9 38-16 63-47-34-3-21-11-12-53-9-13 15-16 88-14 3-57-12-15 21-40 13-2 5 19 49 8 6 1 13-41 29-4 15 21 36-10 33 5 3 80 2 2 3-7 56h4l69 9 12 2-9 15 161 97 58 34 29 5 98 16 52 7 5-33 18 3 44 6 42 5v-2l-2-14h6l67 8 1 1 68 7 5-38-4-26 43-29 17 7 23 42 6-60 5-46 7-64 3-31 4-37-4 38 34-6v-1l32-5 2-28 27-5 6 5 37-10 10-12-23-2 28 2-4-36-7-1h4l-1-19-23-3-4-26-5-3-24 4-17-13 7-71-26 1-3-3-1-23-15-20-33 7-2-41 37 9 9-7-20-41 2-3 58 7 5 4 6-55-40-5-15-1-10-1-44-6h-1l11-80 3-24 5-41 6-46-24-6-26-70 20-28-7-1-51-8-41-7-11-2 47 8 9-37-8-13 3-23-14-14-6-30-39-5 2-43-24-15-10-25 11-19-11-31-33-15 32-46-45-9-13-3-9-3-47-11-25-6-23-7-1 1-64 22-22-47-19-6-20 40-25 13-3 25 12 15 4 33-21 14 1 1 10 30 15 4-10 21-4 10-18 42 24 3h3l14 47-9-30-34 11 2 49-1 2 4 7 20 14-11 38 18 9 6 28 6 3 9 34-22 19-15 3-1 44-3-1h-3l-53-14-16 68-17 68-12 50-4 15zM440 1424l59 95-5-8-26-41-35-56-8-13zM511 1483l-7 22-5 14zM495 1547l-4 24 8-52zM1295 1532l-30-3 21 2 30 2 8 1zM1313 1497l-4-1 5 1 27 2zM1035 871l-5-1-11-2 26 4 2 1 23 4zM818 1697l-5 34-10 56 9-56 20-119 12-77 15-97 1-3 3-15-3 16 37-24 15-32 14-4-3-34 40-11-9-29 11-11 39 3 1-1-15-49 33-8 13 9 25-12 14 3 3 31-15 10 2 37-1 2 15 33-33 28-9-10-33-17-9 19 25 32-42 10 10 48 7 1 50 7-43-6 6 73-16 13 6 38-5 10-41 11-12 35-47 7-3 8 22 56-17 18zM1069 1470l31 4 4 1-54-7-5-1zM1157 1481h3l3 1-7-1-52-6zM911 1151l1-4-4 20zM857 1137l15 2 40 8zM967 1157l-8-1-47-9zM917 847l41 8 10 3-5-1zM866 836l43 9 8 2zM858 872l-18 81-11-26 4-14-27-38 9-17 11 1-7-32 39-32 3 62 5-21zM627 1393h-1l-12-3zM664 1401l23 5-60-13zM733 1415l14 3-60-12zM747 1037l-4-1-11-3zM793 1009l34 4-9 40-8-2-47-11-3-1 13-20zM816 1064l-11 48 13-59zM495 1597l22-17-28 22zM474 1669l12-54 3-13zM758 848l-3-10-5-17zM758 1420l30-34zM899 1221l-1 6 2-12zM887 1285l-22-18zM1076 1175l-19-3-35-5-1-1 49 8zM1212 1487l10 1-11-1zM1209 1509l-2 14 4-36zM1266 1492l9 1 7 1-14-1zM1236 1629l-40 3-3 26 46 3z"/></clipPath><clipPath id="cB1"><path id="rB1" d="M319 488l6 8 7-21 7-7 22-23v-18l-14-8-4-2-41-23-24-25-3 22-6 39-1 6-5 47-3 10-4 12-10 29-8 19-32 69-2 3-21 46 16 32 4 1 19 47 35-9 20 11 5 24-20 24-30-3-21-27-29 1-13 26 14 66-20-8-7-3-48-18-7 18-2 20-14 28-11 21-22 22 3 34 1 15 3 33-9 43 1 3 8 25 4 36 2 20 7 10 15 19-8 43 4 7 8 13 3 6 12 12-15 16-4 23 21 53 1 3 19 31 7 26-1 10-1 21-2 21 47 18 22 16 7 8 18 21 19 5v11l1 9 28 19 18 38 10-33-21-36 4-15 41-29-1-13-8-6-19-49 2-5 40-13 15-21 57 12 14-3 16-88 13-15 53 9 11 12 3 21 48 34 24-100 12-51 10-39 30-125 11-45 1 1 52 13 6 1 1-44 15-3 22-19-9-34-6-3-6-28-18-9 11-38-20-14-4-7 1-2-2-49 34-11-5-17-27-3 15-35 3-7 1-4 13-27-15-4-10-30-1-1 21-14-4-33-12-15 3-25 25-13 20-40-61-18-45-15-59-21-62-22-18-7-42-17-44-18-41-16 2 21-8 26-2 27v5l-8 14-6 13-20 21-21 4zM262 543l12 7-28-16zM495 970l50 14-18-5zM506 934l7-23-5 17-13 42zM492 823l42 20zM256 891l-38-14 14 5zM445 643l-37-3 31 2zM279 1090l-14 42 16-50 23-69 24-73 7-21-13 40zM491 968l-36-10-19-6 18 5zM381 934l7 2 48 16zM327 916l-55-19 32 11zM313 1219l21 36-11-18zM268 1147l-5-9 36 59 7 11zM685 597l-3-7 14 32zM679 563l3 23v4zM608 606l1-3 9-26zM590 683l-54-18 46 15zM564 766l-2 3 8-10zM600 725l-22 25-8 9zM633 1008l21 6-54-14zM297 1652l5 15 38 4 31 5 7-56-2-3-80-2-5-3 8 17zM866 531l1-1-71-19-16-5 22 47zM1041 661l-11 19 10 25 24 15-2 43 39 5 6 30 14 14-3 23 8 13-9 37 5 1 51 8 18 2 33 5-44-6-20 28 26 70 24 6 6-41-1 7-2 15-9 65-4 33-4 34-4 32-1 6-6 40 17 2 34 4 4 1 31 3 18 2 6 1-2 15-2 24-4 33 2-17-5-4-58-7-2 3 20 41-9 7-37-9 2 41 33-7 15 20 1 23 3 3 26-1 6-60 1-9v1l-3 31-3 30-3 26-3 33-2 19 17 13 24-4 5 3 4 26 23 3 5-4 22 1 5-5 25 2 4 30h-5l-15-2-5 36 2 1-35-3-10 12-37 10-6-5-27 5-2 28-32 5v1l-34 6-3 34 40-3 3 32-46-3-3 26-5 49-4 32-3 36-3 27-2 22 4-46 1-6-23-42-17-7-43 29 4 26-5 38 5 1-25-3-36-4-12-1-16-2-25-3-33-4 3 16 12 14 17 18 14 18 13 18 6 9 30 21v3l12 38 11 39 5 4 19 17 21 11 31 18 17-27 16-26 20-7 6-2 18 4 12 3 26 5 20 22 10 11 6 14 16 35 6 18 2 6 3 9 35 42 13 16 2 5 8 31 12 45h1l44 20 13 6 14 5 31 11 23-6-1-15-1-24-3-16-5-29v-6l7-19 10-24 18-15 28-23 10-6 22-11 3-3 40-27 8-5 10-7 16-11 33-15 21-10 34-5 19 6 14 5 5 1 24 3 7 1 25 3 5 2 8 4 19 8 32 18 7-2 5-1 38-9h3l16 3 19 3 16 7 9-15-7-18-6-18-12-21-2-4-13-7 3-3 16-8 12-1 44-5h19l5-26 5 20 23-16-3-17-6-3-7-35h-17l-7-27 11-11-1-7-15-14 7-25 5-3 6-19-5-11 4-13 7-7-5-31-4-4 7-24 26-6-5-19-20-8 9-33-28 1 11-31-16-7-2-9 16-10 8 11 19-8v-14l26 4v11l16 11 5-3 15 8 8-6 2-18 12 1 6-4 16 1 3 3 24-2 2-1 13 3 6 25-2 6-18-7-20 18 5 9 11-1 11-1 1 6-19 20 12 25-4 3-2 20-6 9 1 3 19 8 3 3 1 10-16 6 6 26 1 6 3 10 9 21 4 9 4 11-1 2-1 4-36 4-4 14 31 24-3 4-18 45 36-3-21 2 11 24-37-2-30-19-4 1-19 1v7l26 41 14 4 21 6 4 7 17 26 21 2 1 1 39-27 1-1 17-12 14 8 20 11 17 20 21 25 4 2 8 5 16 9-3 27-3 25 2 9 5-6 6-26 11-10-10-28 6-9 32 5-3 30 21 1 13-22 4-2 21 6-4 24 6 19 29-10 6 23 11 4-11-36-2-4-18-28-16-24-1-1-14-29-1-1-9-18-7-24-2-9-6-25 2-11 4-19v-2l3-25v-3l5-14 9-27 8-9 3-4 14-17 5-4 4-4 22-22 14-14 1-1 23-23 7-21 5-15 1-3 20-16 36-3h1l18-31 14-23 22-7 23-8 4-5 13-15 22-24 13-14-7-19-15-37-5-11-10-25-5-9-9-16-9-2-9-1-1-7-3-12-3-18-1-3-4-26-2-7-4-9-5-12-1-3-12-36-2-7v-10l-1-9 9-11 13-16v14l1 24v3l-3 22-1 13 12 13 6 6 14 13 12 2-4 14-7 22 6 27 10-23 4-13 9-27 4-11 5-21v-3l1-9-8-23-5-4-16-13-16-34 5-20-3 16 13 9 15 11 5 7 11 14 13-23 9-15 3-10 7-18 2-7-4-28-3-20-13-1h-2l2-4v-3l3-2 4-8 6 8 35-12 22-12 19-11 30-28h-25l-13 16-18 6-9 3-35 14 4-11 34-26 2-1h1l31-11 25-9 2-2 20-14h1l9-6 5-2 18-20 8 9 33-19-1-5-5-15-12-4 7 18-7 2-14 5-4-3-7-7-15-13-12-11 3-6 12-22-16-12 2-19 13-43 2-4 18-13 31-29 2-10 3-13 2-11 33-3 26-24 3-4 21-30-29-17-11-25-3-6-24-16-12-33-17-50-19-8-13-5-24 23-8-9-6-6h-9l-11 35-2 7-7 25-2 15-2 25 1 8 4 26-7 23-5 19h-13l-15 8-1 19-36 10-14 4-30 8-14 3-40 10-31 8-6 5-14 12-11 15-14 20-4 7-9 13-7 11 8 25 5 14-14 9-7 8-7 7-31 9-10 2h-2l-33 1h-14l-28 13 5 10 6 2 22-3 13 22 20 4 3 7 9 6 3 32-17 3 10 10 5 30-5 2-15 27-22-10-5 5-10 22 6 7 1 11-9 12 1 23-2 2-26-2-6 14-30 7 4 26 13-2-14 9-18-13-1 7-11 11-8 8-11-13-17 1-4 19-4 2-17-7-5 3h-15l-5-6 2-17 2-1 3-23v-1l-25 3 1 16-5 4 1 22-2 3v15l20 5-4 22 4 4-3 24 18 14-25-19-5 1 5 24 10 5 2 13 4 5-7 15 8 7 15 5-1 13-13 7-2 6-10 6-12-3-1-2h-16l-4 4-2 9-21 7 7 14-8 11-12-11 1-12-12-6-9 1-3 3-20-3-10 18 4 4 1 13 6 10h5l-20 1 4 27v1l-2 9-6 6-14-2-7 4-17 1-2 3-23-10-3-7-17-2-4 4-13 4-25-2-1-2 6-29-35 2 1 3v10l-29 1h-2l17-1-8-7h-23l-2 2-2 7h-3l-11 24-26-3 1-3-17-1-5-24h-22l-13 10h24l-48 1h-17h-10l-35 1h-3h-17h-11l4-36-3-2v-25l-1-1-1-25-21-1-1-1-1-23-3-3 5-24-4-24-22 1-3-3-22-2-1-23-28 2-1 1 2 19 5 5-6 23 1 1 3 24-1 2 3 20-6 6-15-1v19l-22 6-3-2-27 1-1 1v27l33 1h-11l-27-1h-2l-25-1-34-1h7l30 1v-24l-4-5-26 5-4-30 2-3-4-21 1-1-1-31-2-1-26 2-6-25 4-5 28-2 1-1-5-26 2-2-1-25 4-5-2-18-32-2h2l36 2-6-32 3-3-1-27 27-9 1-1-7-24h-26l-4-3-1-26 1-2-2-24 1-1-5-30 15-16-11-9 26 19 13 8-7-36 1 5 16 1 1 1h23l5 24 2 1 20-1 4 4-1 23-2 3 2 17 22 5-1 24-23 1 3 26-3 3 3 21 24-1 3-24-3-2-2-22 26-3 2 2-5 25 4 3 24-5-1-18 6-6-5-24 2-2 21-3 7 6-5 23 27 2 1-2 22 2 3 23 2 1 19-1 6-23-3-3v-24h25l1-2 23 3 2 22 14 12 8-7 15-16 6-6 2-22-5-5 23-1 3-3-3-21h2v-15l-5-4 4-23-5-7h-22l-3-31h1l29 3 2 3 25 5 7-7 27 6 2-1-1-30 2-2 39 5 3-17 4-21 4-20 4-17 15-37-35 46-5 4-7 7 3-8 4-10 10-23 12-22 5-10 8-17 21 8 16-21v-1l28-12 11-4 29 7 11 2 41-12-13-17-13-15-1-1-27 3-5-20-12 3-28 7-11 3-14 7-20 12-16-3-19-2-19-12-12-8h-4l-18-2 11-15v-1l18-27-27 14-6 4-34 23-6 3-26 11h-2l-25 16-16-5-9-21-7 4-22 11h-7h-22l24-22 1-1 32-32 3-1 16-9 24-13 24-16-19 1-20-6-13-4-11-3-19 7-10 3-19-8-10-4-19-3-1-1-26-22-14-1h-3l-23 5-6-2-27-9-5-1-5-10-2-11-4-23-14-5-1 24v4h-4l-32-2-28-1-35-1-41-3-19-1-19-2-39-3-13-1-9-1-55-6-30-3-9-1-45-6-43-6-42-6-51-8-5-1-67-13-14-3-8-1-9-2-40-9-32 46 33 15zM1235 1049l7 1-15-2-23-3zM1382 1540v2v-3zM2280 1902l5 27v3zM2529 1832l-14-9 17 10zM2732 1354h2l8 3zM2775 1316l-10 2 19-4 24-4zM2781 1205v1l-13 10zM2789 1194l-2 3-6 8zM2906 776l17 53 1 4-3-9-20-63zM2926 839l19 58-2-6-8-24-11-34zM2889 816l-1-6-3-22zM1696 1486l-1 15 1-19zM1569 1513l-14-1-37-1 38 1 21 1zM1508 1510l-20-1h7l21 1 2 1zM1535 1092l-12 1 29-3 14-1zM1502 1078l-4-4 25 18v1zM1600 1072l7-28-1 6-8 30zM1937 832l19 8-17-7-20-8-3-2zM1831 1804l21 1h-1l-38-1zM1928 1132l7 7 1 1zM1914 1118l16-1 24-1-17 1zM1449 1054l-13 16zM1444 949l-7-7 1-35 2-3 32 5 2 1 5 25 6 6-7 38-30 1-1-2zM1238 798l-31-14 31 14zM1335 1280l-20-2 17 1 18 2zM1378 1065l-31-3-25-3 27 3 31 3zM1341 847h1l12 1zM1242 768l7-49-3 26zM1281 670l-21-20zM1230 858l-2 10 5-35zM1287 840l11 1 23 3-28-3zM1433 856l-35-3-4-1 24 2zM1420 1287l-8-1h1l23 2zM1388 1691l1 1-8-6-1-1zM1423 1709l-5-1 10 2zM1372 1679l2-27 1-13v2zM1549 1777l5-32zM1684 808l1-1 33 1 1 1 29-1 3 2 2 27-7 7-27-5-3-3-29 5zM1534 863l-26-1-6-1 28 2zM1512 1293l-29-2h6l25 2 23 1zM1598 775l2 22-1-8-5-42zM1605 822l3 19-3-18-5-26zM1655 680l26 1h1l2 28v32l-28 1-3-28-5-4zM1608 854l1 12v1zM1608 1019l2-48 2-41 1-16v6l-1 16-1 30-2 41-1 19zM1734 1591l18 10 1 11-18 11 6 23-4 5 13 30 20-3 4 32 2 3-9 16-16-3-11-24-20 12 2 22 18-1 9 20-9 12-24-6-2 2-14-4-5-2-44-15h-4l1-29-5-5 2-24 26-5-2-31 2-1-2-30 6-6 27 1-3-28 2 16 15-7 3 1zM1749 1927l-9-13 14 20 1 2zM1748 1990l-2 9-1 2zM1806 878l12-14-8 10zM1794 893l-1-1 8 7zM1845 989l-31-19 25 15zM1870 1012l9 9-27-25-4-4-3-3zM1881 1038v8l-1-14-1-11zM1886 1082l6 7-3-3zM2382 1951l-29 1h-21l-37 1 27-1 39-1h8l24-1h18l25-1h9l-29 1zM2416 1701l12 11 22 19 6 6-16-14-23-21zM2475 1755l10 10-19-18-10-10zM2435 1611l22-1h5l-16 1-24 1zM2435 1508l11-1-14 1zM2394 1420l19 14 8 6-22-16zM2529 1396l-12 1 12-1zM2544 1347l-3 10 1-4zM2560 1350h-2l-14-3zM2516 1266l25-4-7 2-24 3zM2069 1906l1 7 1 17v-1zM2072 1791v3l-2 31-2 34-1 20 2-44 2-27zM2079 1671l18 19-4 13-16 2-1 9 1-14 2-31zM1952 1655l8-7-11 11zM1966 1658l-5 1h-12zM1970 1619l12-33-10 28-3 9zM1952 1587h-10l25-1h15zM1901 1792l-1-16 1 14zM1908 1827l5 15 4 13-6-18zM1884 1922l-4 14 7-26zM1876 1950l16-1h12zM1989 1952l-4 21 3-17 2-9zM2062 1655l-30 1-23 1 19-1 28-1zM2375 1632l-35 3-12 1-14 2 3-1 40-4zM2325 1605l-6 3 3-2 26-13zM2303 1639l8-16 8-15zM2354 1502l-24 17 12-9zM2431 1310l5 4zM2306 1521h-4l-28 2 9-1 18-1zM2415 1331l-10-10zM2412 1343l-4 8-9 14zM2391 1371l-3 2 11-8zM2411 1451l-10 11-12 12 18-19zM2363 1655l15 8 14 7-11-5-17-9zM2365 1651l10-19h1l-13 23zM2370 1576l-8 6 6-5zM2395 1624l-9 3 7-3zM2620 1548l-5-6-3-13 6-8-5-20 9-8-1-7-33 5-16 2 12-2 30-4 30-5 18-2 10-2 11-2 18-3-2-19 6-4 12 7 5 12 20-3 8-1-7 1-18 3-41 7-4 1-15 25 10 12h11l6-5 18 8 1 1 3 14-3 4-3 25-2 1-5 23-15 2-5-6-16 5-7-9-19-3 2-20-3-4zM2640 1246l41-7-11 2-17 3-17 3-4 1zM2685 1238l24-5 23-4-4 1-27 5-20 4zM2624 1285h-1l17 5zM2524 1628l-1 3zM2535 1498l10-1-19 2-9 1-19 2 6-1zM2524 1412l-6 19 3-11 5-16zM2437 1458l3 3-1-1zM2472 1452l-7 4 24-14h1zM2501 1437l6-2-12 5-5 2zM2475 1504l10-1-4 1-30 3zM2602 1260l-13 1h-7zM2615 1250l-15 3-12 2 5-1zM2594 1310l5-12 1-3zM2591 1317l-5 9 8-16zM2545 1287l2 13-2-11-1-1zM2563 1352l-1-2zM2570 1623l-21 3-8 1 1-1zM2582 1622l12 9 31 23 10 8-11-8-10-7zM2775 1164l-10-16 8 12 5 8zM2766 1128v12l-1 8zM2795 1177l3 2-20-11zM2783 1095l-11 20-6 10zM2794 1099l-6-2-5-2zM2680 1338l3-13 1-3zM2686 1066l-15 17 15-17zM2737 1055l5 5 1 2zM2670 1069l8-1-22 4zM2661 1290l10 5-2-1zM2708 1346l-10-4 20 7zM2918 1011l10-2-28 6h1zM2948 1003h3l-23 6zM2800 854v-2v3zM2880 843l11-17-14 23-4 5zM2829 943l7 33-3-14-9-39-2-9zM2847 973l33-7-9 2-35 8zM2877 952l-3-18 6 32zM2814 916l7-2h1zM2810 899l4 15v2zM2807 882l-18 9 18-9zM2835 889l-31-18zM2855 923l18-24zM2836 1029l28-6 26-5-30 6zM2832 1111l-14-5 7 2zM2845 1065l-1 1 1-1zM829 927l11 26 11-47 7-34 3-15-3-62-39 32 7 31h-11l-9 17 27 38zM760 1040h3l55 13 9-40-34-4-20 10zM963 1331l-40 11 3 34-14 4-15 32-37 24-1 2-6 40-3 18-15 97-16 96-1 8 77 33 17-18-22-56 3-8 47-7 12-35 41-11 5-10-6-38 16-13-6-73-14-2-10-48 42-10-25-32 9-19 33 17 9 10 33-28-15-33 1-2-2-37 15-10-3-31-14-3-25 12-13-9-33 8 15 49-1 1-39-3-11 11zM1712 1288l5-4-5-26-20-1h-1h-26l-4 26 28 1 1-1zM1840 1517l1 36 31-1-8-35zM2075 1339l18 4 1-5v1l-3 18 22 4 2 4-3 18 1 1 19 2 3-2 18 3 2-1 16 3 5-3-2-18 4-3-1-17 1-1 20 2-1-19 4-4 16 6 7-6-3-17 2-2 2-19-24 1-3-3 6-19v-1l-2-20h-15l-3-4 3-18-19-2-2 2-19-5-2 2-4 19-18-1h-1v-19l-17-4-3 3-1 17-1 2-12-1 2 32v3l-34-2-1 23 25 2-4 24zM2093 1314l-2-27 1 12zM2249 1168v-14l-19 2 1 11 14 4zM2214 1155h-16h-6l-2 25h22zM2171 1529h-5l-23 1 3 9 23 1zM2631 2276l-42 5 2 24-5 2-14 31 12-2 36-14 2-7 9-31z"/></clipPath><clipPath id="cB2"><path id="rB2" d="M1681 681l-26-1-7 30 5 4 3 28 28-1v-32l-2-28zM1685 807l-1 1 3 33 29-5 3 3 27 5 7-7-2-27-3-2-29 1-1-1zM1448 980l30-1 7-38-6-6-5-25-2-1-32-5-2 3-1 35 7 7 3 29z"/></clipPath><clipPath id="cB3"><path id="rB3" d="M1566 1145l2 24-1 2 1 26 4 3h26l7 24-1 1-27 9 1 27-3 3 6 32 18 1-24-1 2 18-4 5 1 25-2 2 5 26-1 1-28 2-4 5 6 25 26-2 2 1 1 31-1 1 4 21-2 3 4 30 26-5 4 5v24l22 1h7v-27l1-1 27-1 3 2 22-6v-19l15 1 6-6-3-20 1-2-3-24-1-1 6-23-5-5-2-19 1-1 28-2 1 23 22 2 3 3 22-1 4 24-5 24 3 3 1 23 1 1 21 1 1 25 1 1v25l3 2-4 36h11h17l-1-36h24l8 35h17l35-1h6l13-10h22l5 24 17 1-1 3 26 3 11-24h3l2-7 2-2h23l8 7h5h9l-1-13 17-1 11-1h7l-6 29 1 2 25 2 13-4 4-4 17 2 3 7 23 10 2-3 17-1 7-4 14 2 6-6 2-9v-1l-4-27h-8l-32 2-22 1-2 11-23-1-3-9h-11h2l26-1h6l23-1 17-1 14-1 28-1-6-10-1-13-4-4 10-18 20 3 3-3 9-1 12 6-1 12 12 11 8-11-7-14 21-7 2-9 4-4h16l1 2 12 3 10-6 2-6 13-7 1-13-15-5-8-7 7-15-4-5-2-13-10-5-5-24 5-1 7 5 3-24-4-4 4-22-20-5v-15l2-3-1-22 5-4-1-16 25-3v1l-3 23-2 1-2 17 5 6h15l5-3 17 7 4-2 4-19 17-1 11 13 19-19 1-7 18 13 14-9-13 2-3-18-5-35 4 24v3l30-7 6-14 26 2 2-2-1-23 9-12-1-11-6-7 10-22 5-5 22 10 15-27 5-2-5-30-10-10 17-3-3-32-9-6-3-7-20-4-13-22-22 3-6-2 8 16-18 25-19 25-1 2-9 6-8 6-21 15-37 28-22 16h-2l-12 3-26 5-14 3-6-3-26-8-12-4 15-26 1-6 2-14 3-3 24-21v-10v-19l-2-7-12-33-1-3-22-31-10 5-13 6-12 14-8 8-3 3 2-3 12-24 12-24-1-2-6-28-5-24-11-11-13-13-19-11-2-1-23-7-5-1-11 3-14 29-3 8-4 14-6 21v-29l-23 24-3 8-3 14-1 5-10 37-1 3 9 33 3 12 3 12 7 31 1 4-9 35-3 10-16 26-4 3-16 7-5 2-13-7-4-9-8-26-6-20-7-38-1-1 3-28 2-20 1-6-39-5-2 2 1 30-2 1-27-6-7 7-25-5-2-3-29-3h-1l3 31h22l5 7-4 23 5 4v15h-2l3 21-3 3-23 1 5 5-2 19v3l-12 13-9 9-8 7-14-12-2-22-23-3-1 2h-25v24l3 3-6 23-19 1-2-1-3-23-22-2-1 2-27-2 5-23-7-6-21 3-2 2 5 24-6 6 1 18-24 5-4-3 5-25-2-2-26 3 2 22 3 2-3 24-24 1-3-21 3-3-3-26 23-1 1-24-22-5-2-17 2-3 1-23-4-4-20 1-2-1-5-24h-23l-1-1-16-1 6 31-13-8-15-10-15 16 5 30zM2296 1148l-21 3 15-3 12-1zM2084 1181l-1-14v-1zM2030 1113l-15 1-25 1 17-1 12-1 46-2zM1607 1123l4 13-4-12-2-8zM2187 1429l8-12-5 8-1 1zM2179 1431l-20 4 14-3 14-3zM2155 1386l-2 1-18-3-3 2-19-2-1-1 3-18-2-4-22-4 2-14-18-4 1-20 4-24-25-2 1-23 34 2-2-26-2-30 2 21 12 1 1-2 1-17 3-3 17 4v19h1l18 1 4-19 2-2 19 5 2-2 19 2-3 18 3 4h15l2 20v1l-6 19 3 3 24-1-2 19-2 2 3 17-7 6-16-6-4 4 1 19-20-2-1 1 1 17-4 3 2 18-5 3zM2192 1155h6h6h10l-2 25h-22zM2169 1157h-3l14-1h1zM2151 1159h-3h2l16-2zM1919 1365l24 26 3 4-18-20-11-11zM1899 1340l9 12-14-17zM1877 1304l3 5 14 26zM1696 1363l-14-20 13 17 3 5zM1678 1329l-2-5 5 13 1 6zM1635 1243l1 13-3-30zM1671 1257h21l3 1h17l5 26-5 4-22-5-1 1-28-1 4-26-29-1zM1655 1288l6 11-25-43zM1629 1207l4 17v2zM1608 1297h10h-16zM1892 1213v-1l6 22zM1875 1272l1 7 1 18-1-10zM1878 1258l-2 2 8-10 11-12zM2022 1510h-1l27-7zM1962 1446l3 3-16-13zM1974 1464l16 27-17-28-8-14zM1991 1493l-1-1v-1zM2011 1512l-2-1-18-18zM2065 1465l3-7-8 20-7 15-2 4zM2075 1462l-5-9zM2077 1417l1-2-2 6zM2082 1399l7-28-2 10-4 15-5 19zM2099 1439l-6 3-4 2zM2108 1439l10 1h-6l-13-1zM2284 1362v1l-3-4zM2242 1288l-2-22-1-10 4 38v2l3 32 1 16-1-13-2-21zM2265 1342l-3 1-15 1zM2230 1156h2l28-4-11 2v14l-4 3-14-4 3 30 1 14v5l-1-11-2-22zM2465 1260l3-13-2 11zM2468 1243v-6v10zM2463 1133l4 28 1 9v-2l-5-32zM2331 1366l4-1 9-2-8 2zM2474 1212l15 7zM1371 1477l-22-1-5 4 1 19 20 2-17-1 4 36 28 2 5-35 15 1h5l-4-30-25-2zM1645 1684l-2 24 5 5-1 29h4l28 10 21 7 14 4 2-2 24 6 9-12-9-20-18 1-2-22 20-12 11 24 16 3 9-16-2-3-4-32-20 3-13-30 4-5-6-23 18-11-1-11-18-10-15 3-3-1-15 7 4 32-3-20-27-1-6 6 2 30-2 1 2 31zM1704 1655l-1 22v5v-6l1-31zM2087 1654l26-2h5h-3l-9 33 20 8 5 19-26 6-7 24 4 4 5 31-7 7-4 13 5 11-6 19-5 3-7 25 15 14 1 7-11 11 7 27h17l7 35 6 3-1-10 14-1 35-2 31-1h5l29 18 37 2-11-24-15 1 18-45 3-4-31-24 4-14 36-4 2-6-4-11-7-16-6-14-8-32-1-3-8-34-1-3 6-9 2-20 4-3-12-25 19-20-1-6-11 1-11 1-5-9 20-18 18 7 2-6-6-25-13-3-2 1-24 2-3-3-16-1-6 4-12-1-2 18-8 6-15-8-5 3-16-11v-11l-26-4v14l-19 8-8-11-16 10 2 9 16 7zM2237 1935h7l-13 1zM2233 1670v-2l6 25 5 21-7-27zM2227 1645l-35 2 13-1zM2187 1648l-24 1-23 1 18-1 17-1 17-1zM2219 1936l-19-14zM2097 1690l-18-19-2 34 16-2zM2107 1997l25-5-4-23-23 16zM2185 1939l-40 2-21 1 8 50 13-2 10-2 39-6 17 5-26-41zM2254 1755l16-6-1-10-3-3-19-8zM2465 2193l5 10 7 11 19 31 6 6 16 18 20 14 4 3 8 6 3 6 18 40h1l14-31 5-2-2-24 42-5-1-12v-29v-25l-3-6-19-40-1-1-4-10-7-20-11-4-6-23-29 10-6-19 4-24-21-6-4 2-13 22-21-1 3-30-32-5-6 9 10 28-11 10-6 26-5 6 2 11 2 12zM2722 1469l-5-12-12-7-6 4 2 19zM2620 1548l18 2 3 4-2 20 19 3 7 9 16-5 5 6 15-2 5-23 2-1 3-25 3-4-3-14-1-1-18-8-6 5h-11l-10-12 15-25-18 3-11 1-30 5 1 7-9 8 5 20-6 8 3 13z"/></clipPath><clipPath id="cC0"><path id="rC0" d="M206 622l-2 3-21 46-10 22-28 38-3 3-27 32-3 26-4 43-7 18-2 20-14 28-11 21-22 22 3 34 1 15 3 33-9 43 1 3 8 25 4 36 2 20 7 10 15 19-8 43 4 7 8 13 3 6 12 12-15 16-4 23 21 53 1 3 19 31 7 26-1 10-1 21-2 21 47 18 22 16 7 8 18 21 19 5v11l36-3 4-15-28-41 6-9 2-31-24-15 17-47 10-9h2l17-21 60 18 2-4 38-31 39 63 15 23 81-84-3-21-11-12-53-9-13 15-69 2-8-12-8-13-6-9 64-55 64-37 4-26 52-41 81 62-4 16-4 15-14 58 47 9 21-25 23-11 5-10 69 7-21 58 15 7 61-2 5-24 47-15 22 18-4 22-7 40-3 14 39 19 14-4-3-34-6-7-2-27 11-12-7-26 35-25 9 4 26-5-4-39h1l33-7 3-31-1-1-31-5 38-75-16-18-5-11 54-51 26 6 21-2v-71l-8-5-19-55-11-2-35-6-5-1-11-2 26 4-32-60-14-31h-51l-4-3 5-33-8-8-9-39 11-15-8-22 15-32-31-31 43-44-47-11-25-6-23-7-71-19-16-5-19-6-61-18-45-15-59-21-62-22-18-7-42-17-44-18-41-16 2 21-8 26-2 27v5l-8 14-6 13-20 21-21 4-7-9 6 8 7-21 7-7 22-23v-18l-14-8-4-2-41-23-24-25-3 22-6 39-1 6-5 47-3 10-4 12-10 29-8 19zM262 543l12 7-28-16zM627 1134l18-75 11-45-16 68zM861 857l5-21-8 36zM909 845l8 2-51-11zM958 855l10 3-5-1-46-10zM334 1255l-11-18-10-18zM263 1138l36 59 7 11-38-61zM304 1013l24-73 7-21-13 40-43 131-14 42 16-50zM436 952l-55-18 7 2zM454 957l37 11-36-10-19-6zM272 897l32 11 23 8zM293 588l28-24zM218 877l14 5 24 9zM408 640l31 2 6 1zM685 597l-3-7 14 32zM679 563l3 23v4zM536 665l46 15 8 3zM609 603l9-26-10 29zM600 725l-22 25-8 9zM564 766l-2 3 8-10zM513 911l-5 17-13 42 11-36zM545 984l-18-5-32-9zM548 859l-18-5zM654 1014l-54-14 33 8zM734 675l-10 21-4 10 1-4zM734 768l-5-17 14 47zM758 848l-3-10-5-17zM911 1151l1-4-4 20zM857 1137l15 2 40 8zM967 1157l-8-1-47-9zM732 1033l15 4-4-1zM818 1053l-2 11-11 48zM899 1221l-1 6 2-12zM291 1612l8 17-2 23 5 15 38 4 31 5 7-56-2-3-80-2zM664 1401v-3l-19-61-20 1-39 46 41 9zM1452 803l1 1 1 37 39-6v25l-17-1-4 50 2 1 5 25 6 6-7 38 3 2 8 26 26 1 2 2 2 32-28 6-4 6 3 20h8l25 18v1l29-3 10-15 38-3 7-28 1-4v-21l2-48 2-41 1-16-19-22-1-1 16-24-1-26-3-18-5-26-1-8-5-42-2-22-1-12h27l1-1-1-30-29-5v-5l-2-27-41-3 6 36-2 2-31 6-7-6-4-41-39-3 2 44-33 11 7 33-1 2-1 36 2 2zM1530 863h4l-26-1-6-1zM1040 705l-10-25-32-2-20 14 2 38 25 15zM1126 848l-8-13-45 6-26 32 23 4 47 8zM1131 1183l16 2 7 26-4 6 6 36-24 16 20 42 42-26 4 4 2 41-2 4 6 29 13 5 32-2 3 3 26-1 6-60 3-25v-8l2-17 6-55-24-3-6-38-27 4-4 5 2 25 4 1-10-1-38-5 10 1 1-26-12-16-6 40 11-80-39 27-43-14-28 12-16 39 6 1zM1605 822l13-13v-33l-20-1 2 22zM1790 1462l1 1-6 24-20 1-1 1h-23l-1 23 24 4 1-1 25-1 1 2-2 37h24l4-36 22-1 1 1 1 36 31-1h17l35-1-7-34-23 1-1-1v-24v-1l-2-28-24 5-5-5 7-25-3-4 3-20-5-4-19-1-6-20-21-1-5 24-22-1-4-24-22 1-3 23 3 24-4 4 2 20v1zM1581 1714h-1l1 27 28 1h7h4l1 33 32 1 3-4-10-30h1h4l28 10-4-42 3-4-1-22 26-8 1-31-33 2-2 1h-28l-2-1-26 4-8-29-26 2 1 30 30 1 2 26 3 31-4 5zM1749 1755l-9 12-24-6 3-20-18-7-1 25 14 4 12 3v28v10h10v-8l14-11 10 2 5 7-1 10h36h13h18l21 1h33h16v-13l-1-16 1-4 30-8-1-19-5-5-15-2 2-4h-35l-1 1v22l-20 3-12-8-8 3-23-24h-4l-1 1-11 29-18-2-9-9-2-18-1-3-16-3-11 9zM2460 1970l-2 23 18 10 17-6 7 9-1 27 1 1-3 22-5 4-32-5-6 9h-24l16 9-3 27-3 25 2 9 2 11 2 12 19 36 5 10 7 11 19 31 6 6 16 18 20 14 4 3 8 6 3 6 18 40h1l12-2 36-14 2-7 9-31v-8l-1-12v-29v-25l-3-6-19-40-1-1-4-10-7-20-11-36-2-4-18-28-16-24-1-1-19-8 5-21-1-1-9-18-7-24-19 10-20-14zM2439 2020v-17l-9-7-23-2v1l-3 28h30zM2289 2033l39-27 1-1-1-2-22-15-19 6 1 38z"/></clipPath><clipPath id="cC1"><path id="rC1" d="M1373 771l-1 1-4 35-33 5 7 35 29 3 23 2 24 2 15 2-35-3 4 18-5 6-35 4 5 35 4 2-1 32 6 6-6 32-28-1-6 7 5 34-34 7-2-2-35-1-20 19-23-3-23-3-4 33-4 34-4 32-1 6 12 16-1 26 34 4-2-25 4-5 27-4 6 38 18 2 6 1-2 15-2 24-4 33-2 25-3 31-3 30 27-5 7 5 26-7 3 3 26-1 3-2v-29l25-1 5 5-2 29h1l28-3 2-3-7-25 4-4 25-2 2-3 31 4 3-3 24-4 8 6 23-5v1l4 30 25-1 2-2-1-25 4-5 26 3 2 25 2 2h26l4-6 29 1 12-10-6-19-11-11-25-43 35 1h21l3 1h25h26h1h20h27h9h17h28h10l17 14 1-12 8-10 14-16-6-21v-1l18-15 8-7 15-16 6-6 2-22-13-14-14-14-12-16-13-16-3-4-4-31-1-5-1-14-1-11 2 17h21l3-32-1-24 3-2 28 4 4-3-6-27 6-6-1-20-4-4-28 2-3-2 8-32-32-1-1-1 5-27 26 1 2-2-2-27 10-10-3-2-16-5-9-21-7 4-22 11h-7h-22l24-22 1-1 32-32 3-1 16-9 24-13 24-16-19 1-20-6-13-4-11-3-19 7-10 3-19-8-10-4-19-3-1-1-26-22-14-1h-3l-23 5-6-2-27-9-5-1-5-10-2-11-4-23-14-5-1 24v4h-4l-32-2-28-1-35-1 2 32 29 5 1 30-1 1h-27l1 12 2 22 4 28 20 1v33l-13 13 3 19v1l1 24v1l-16 24 20 23v6l-1 16-1 30-2 41-2 37-1 6-8 30 2-8-38 3-10 15 14-1-31 3-12 1-21-15-4-4-8-1-3-19 4-6 28-6-2-32-2-2-26-1-8-26-3-2 7-38-6-6-5-25-2-1 4-50 17 2v-26l-39 6-1-37-1-1-7-39-2-2 1-36 1-2-7-33 33-11-2-44-13-1-9-1-55-6-30-3-9-1-45-6 9 44 36-10 1 2 6 37-32 7-2 3 6 35 31-3zM1633 1226l2 17 1 13zM1629 1207l4 17v2zM1852 996l-4-4-3-3 25 23 9 9zM1814 970l25 15 6 4zM1599 1085l6 31-7-36zM1607 1123l4 13-4-12-2-8zM1592 1108l-15-10-11-9zM1608 1297h10h-16zM1718 1088h-1v22l-26 3v-25l5-4-1-22-3-2-1-14 26 1h27l3 11h24l9-11h15l3 35-6 5-23-3-2 3-23-1-1-1zM1380 1065h-2l-31-3-25-3 27 3zM1335 1280l-20-2 17 1 18 2zM1436 1288l-16-1-8-1h1zM1489 1291l25 2 23 1-25-1-29-2zM1581 1296l18 1-24-1-32-2h2zM1806 878l12-14-8 10zM1801 899l-7-6-1-1zM1073 841l-7-35-13-11 6-29-52-13-2-8-25-15-2-38-35-9-11 15 9 39 8 8-5 33 4 3h51l14 31 32 60 2 1zM1028 1086l-38 75 31 5 49 8 16-39 28-12 43 14 39-27 3-24-72-40-5-25-14-11-21 2-26-6-54 51 5 11zM441 1313l13-15 53 9 11 12 3 21 47 34-1 5 19 5 39-46 20-1 19 61v3l23 5 46 9 4-44 28-17 25 6 24-18 9-14 54 15 10-58-22-18-47 15-5 24-61 2-15-7 21-58-69-7-5 10-23 11-21 25-47-9 12-50 10-39-81-62-52 41-4 26-64 37-64 55 6 9 15 25zM262 1478l-6 9 28 41-4 15-36 3 1 9 28 19 18 38 5 3 80 2-9-47 23-18 29 27 36-7 40 25 22-17-26-9 8-52-5-8-26-41-35-56-8-13-39-63-38 31-2 4-60-18-17 21h-2l-10 9-17 47 24 15zM1552 678l-6-36-19-1-19-2 4 41 7 6 31-6zM1695 1516l1-34-22 6-3-2-27 1-1 1v27l33 1zM1695 1552l6 48 4 32-1 2v21l-1 22-1 28-1 29 18 7-3 20 24 6 9-12-9-20 11-9 16 3 1 3 2 18 9 9 18 2 11-29 1-1h4l23 24 8-3 12 8 20-3v-22l1-1h35l-2 4 15 2 5 5 1 19-30 8-1 4 1 14v15l3 10 9 27 4 13-9 16-12 22-9 17-3 12-8 28 16-1h37h15l32-1 14-1-1 5-4 21 10 17 9 15 16-8 12-1 44-5h19l5-26 5 20 2 12 25-5 13-2 10-2 39-6 17 5 14 4 21 6 4 7 17 26 21 2-1-38 19-6 22 15 1 2 17-12 14 8 1-1 11-6 15-35-5-8-29 1h-21l-37 1 27-1 39-1h8l11-21-10-10v-13l5-3 6-18 3-2-2-15 3-5-5-18 9-6-1-15-5-4-22 5-4-3 15-21-9-10 1-8h1l2-18 9-5-5-16 18-2 6-10-18-8-3-4 4-20-1-1-20 2-12-6-5 1-3-3h-15l-9-7-20 11-4-2 1-21-13-7-6 6-4 17-9 2-4 3-15-3 7 32 6-9 21-3 4 6-11 17 3 3 1 10 6 9-14 22-2 1-4-16-18 20-4 17-29 2-5 2-20-11-4-10-20-10-9 4-11-3-6-29 5-5-1-29 14-3 12-24 5-3 20 6 3 6 31 8 18-16-4-17-6-25-35 2-5 1-24 1-32 2h-5l-11 1-42 2-3 1h-8l-30 1-23 1h-9l-30 1-9 1h-12l3-4 8-7 3-10 14 6 10-12-1-14-14-4-3 9 1-4 12-33-30 1h-10l9-27 3-9-48 1h-17h-10l-35 1h-20h-34h-26h-5h-3l-54-1zM2128 1969l-3-17-1-10 8 50zM2138 1941l35-2 31-1-19 1-40 2-21 1zM2079 1671l-2 34-1 9 1-14 2-31zM2231 1936l6-1h7zM2256 1934l29-2-21 2zM2280 1902l5 27v3zM2069 1835l2-27 1-17v3l-2 31-2 34-1 20zM2071 1930v-1l-2-23 1 7zM2074 1959l6-6zM2284 1807l18 24-1 3-21 6 1-2-4-11-4-9zM1760 1787l-10-2-14 11v8h28l1-10zM2022 1440l-4 22 4 5 20-3 3 3 20-2 3-7-8 20 14-4 1-12 17-3 1-17-7 3 4-21 17-3 1-17 2-2 3-18-1-1-25-2-4 15-5 19 4-16 7-28 1-5-13 1-3-2-2-23 3-3 1-20h17l-2-32-1-15-2-26-2-30-28 4-2-2-21 2-3 22-25-6-3 3-1 24 1 1 2 27-3 2-2 20-1 1v28l25-2 2 2-3 24h-22v24v1l-5 22 27 1v1l-4 23zM2076 1421l1-4 1-2zM2058 952l-5 4 2 3 19 1 4-17 15-37zM2102 1219l-16-3 2 21 12 1 1-2zM2096 1596l8 11-3 13 14 5 1 1h18l4-4 17 4 2-1 24 7 5-4 21 10 3-3-4-22 6-5 15 1 4 8 22-10 3-16 2-1-1-13 4-6-7-25 3-2 1-20-5 1-20 1h-8l-32 2-22 1h-5l-23 1-32 1h-2l-6 29-23-2-3 18-4 3-1 21 8 6zM2242 1515l-25 2v-1l-9-3h-1l-16 3-2 12 17-1 14-1 28-1zM2535 1028l-18 25 1 1-8 30 8 12-10 2-8 2-3-20-9 6-8 6-21 15 2 16 6 38 5 34 1 9 1 8 5 30v3l4 26 33-5 25-4-7 2-11 15-19-7-5 31 4 4 21-5 6 7 1 19 5 3 4 19-23 3-1 16 4 4h16l-7 22v1l-12 1 3 22 1 1 5-16-2 8-6 19h-2l2 4-2 5-13 5-4 16-26-8-1-1-7 4h-2l-23 5-1-1 2 8 12 1 1 4-5 18 1 1-3 15 28-3 16-1 13-2 18-13 4-1 5-17 7-4 13 5-2 26 13-2 22-4 30-4 30-5h3l-26 4 1 7-9 8h-18l-3 18 5 4 15 6 3 13 5 6-15 25 7 5 27-4 2 22-16 5 5 23 20 2 3 7-6 16 28 10 4-2 3-12 15-5 17 6 14-23 22-7 23-8 4-5 13-15 22-24 13-14-7-19-15-37-5-11-10-25-5-9-9-16-9-2-9-1-1-7-3-12-3-18-1-3-4-26-2-7-4-9-5-12-1-3-12-36-2-7v-10l-1-9 9-11 13-16v14l1 24v3l-3 22-1 13 12 13 6 6 14 13 12 2-4 14-7 22 6 27 10-23 4-13 9-27 4-11 5-21v-3l1-9-8-23-5-4-16-13-16-34 5-20-3 16 13 9 15 11 5 7 11 14 13-23 9-15 3-10 7-18 2-7-4-28-3-20-13-1h-2l2-4v-3l3-2 4-8 1-9 1-14-26-9-18-5-5-2-11 20-6 10v3l-12 2-6-12-19 3-3-2-15 4-10 14-14 6-9-3-3-5v-14l-4-5-23-12v-2l7-19-6-10-27 5-4 1-32 6-10 2-3-24 18-19 9 6 18-2 15 16 22-9-10-28 5-7 2-11 3-3-5-33-3-3-7 7-31 9-10 2h-2l-33 1h-14l-28 13 5 10zM2732 1354h2l8 3zM2775 1316l-10 2 19-4 24-4zM2781 1205v1l-13 10zM2789 1194l-2 3-6 8zM2766 1140l-1 8 1-20zM2773 1160l5 8-3-4-10-16zM2795 1177l3 2-20-11zM2544 1288l1-1 2 13-2-11zM2545 1375l-9-3zM2542 1353l2-6-3 10zM2560 1350h-2l-14-3zM2701 1473l21-4 20-3 8-1-7 1-18 3-41 7-4 1-18 3 10-2 11-2zM2669 1294l-8-4 10 5zM2681 1239l-11 2-17 3-17 3-4 1 8-2zM2685 1238l24-5 23-4-4 1-27 5-20 4zM2603 1260l22-2 17 16 2 1-4 15-16-5-15-6-8 15-7 16 5-12-7-11-3-26h-7l20-1zM2591 1317l-5 9 8-16zM2600 1253l-12 2 5-1 22-4zM2684 1322l-4 16 3-13zM2718 1349l-10-3-10-4zM2404 1468l-3 13 15 13v2l18-4 3-3-4-14-9-3 2-27-5-5-20 22zM2393 1487l-10-7-20 15 7 7 23-3zM2719 1059l12 31 33 5 9-6-13-8-23-26zM2921 685l1 8 4 26-7 23-5 19h-13l-15 8-1 19 5 34 1 4-14 23-4 5v31l-1 39 1 6 7 36-9 2-35 8v21v32l6 25 3 12 7 25-6 16 34-26 2-1h1l31-11 25-9 2-2 20-14h1l9-6 5-2 18-20 8 9 33-19-1-5-5-15-12-4 7 18-7 2-14 5-4-3-7-7-15-13-12-11 3-6 12-22-16-12 2-19 13-43 2-4 18-13 31-29 2-10 3-13 2-11 33-3 26-24 3-4 21-30-29-17-11-25-3-6-24-16-12-33-17-50-19-8-13-5-24 23-8-9-6-6h-9l-11 35-2 7-7 25-2 15zM2906 776l17 53 1 4-3-9-20-63zM2926 839l19 58-2-6-8-24-11-34zM2864 1023l26-5-30 6-24 5zM2918 1011l10-2-28 6h1zM2948 1003h3l-23 6zM2949 1018l7-6z"/></clipPath><clipPath id="cC2"><path id="rC2" d="M1030 680l10 25-35 40 2 8 52 13-6 29 13 11 7 35 45-6 8 13-9 37 5 1-41-7 19 55 8 5v71l14 11 5 25 72 40 5-41 31 4 15 2 20-19 35 1 2 2 34-7-5-34 6-7 28 1 6-32-6-6 1-32-4-2-5-35 35-4 5-6-4-18-4-1-32-3-21-2h1l-7-35 33-5 4-35 1-1-10-38-31 3-6-35 2-3 32-7-6-37-1-2-36 10-9-44-43-6-42-6-51-8-5-1-67-13-14-3-8-1-9-2-40-9-45-9-13-3-9-3-43 44 31 31-15 32 8 22 35 9 20-14zM1210 999l6-41-1 7-2 15-9 65zM1233 833l-3 25-2 10zM1249 719l-3 26-4 23zM1180 895l-7-1 18 2 33 5zM1281 670l-21-20zM1287 840l11 1 23 3-28-3zM1022 1167l-3 31-33 7h-1l4 39-26 5-9-4-35 25 7 26-11 12 2 27 6 7 3 34 4 2 22 1 12-46-1-2-9-29 11-11 39 3-6 44 5 6 1 6 33 17 9 10v10l19 13 5 27h15l27 14 12-9-7-36 8-13 40 2 11 32 20-1 36 32 30-9 9 5 2-24 36-3 5-29 24 2 5-5h26l3 30h1l25-2 3-3 31 4 3-4 22-3 5-29 22 2 5 4 3 23 26 2h1l-1 24 10 8 21-7 2 1 27 1 4 21 29 4 1 1-2 23-26 5-1 2 1 21 30 1 22 1h2l-1 43-29-4 3-40-34-1h-8l-14-1-12 14-4 32-24 2-4-2-31 8-5-4-25 2-2-2-29-1-2 2 1 31-2 2v30l7 5-2 29-33-2v33l1 1 18 10 11 6 10 2-5-1-8 9v31l-3 3-28 1-6 7 1 23 36 5v1l-2 25 4 4 2 37-30-4-5 5-1 32 2 2 33-5 3 4v34h-1l-29-1-3-2-34 7-1-1-30 8-4-3h-31l-2-2 2-30h-38l-2 2-25-4-8 7-2 26-28 6-2-36h-33l-1 1-31 6-2 32-2 2 9 35-4 4-36-8-3 4-21 5 11 39 5 4 19 17 21 11 31 18 17-27 16-26 20-7 6-2 18 4 12 3 26 5 20 22 10 11 6 14 16 35 6 18 2 6 3 9 35 42 13 16 2 5 8 31 12 45h1l44 20 13 6 14 5 31 11 23-6-1-15-1-24-3-16-5-29v-6l7-19 10-24 18-15 28-23 10-6 22-11 3-3 40-27 8-5 10-7 16-11 33-15 21-10 34-5 19 6 14 5 5 1 24 3 7 1 25 3 5 2 8 4 19 8 32 18 7-2 5-1 38-9h3l16 3 19 3 16 7 9-15-7-18-6-18-12-21-2-4-13-7 3-3-6-11-13-21 3-17 2-9-37 1-9 1h-14h-26l-28 1 4-14 7-26 3-4 13-24 14-27-6-18-3-10-7-22h-31h-19l-38-1h-1h-28h-29h-29v-3v-35l-26-7 2-49 1-34-26 8 1 22-3 4 4 42-28-10h-5l10 30-3 4-32-1-1-33h-11l-24-1h-4l-1-27h1l30 3 4-5-3-31-2-26-30-1-1-30 26-2 8 29 26-4 2 1h28l2-1 33-2 1-13-3-20-3-28-4-32 15 1h17h32h20h10l2-37-1-2-25 1-1 1-24-4 1-23h23l1-1 20-1 6-24-1-1-27-1v-1l-2-20 4-4-3-24 3-23 22-1 4 24 22 1 5-24 21 1 6 20 19 1 5 4-3 20 3 4-7 25 5 5 24-5 2 28v1v24l1 1 23-1 7 34h6h24l-6 17-6 19 25-1h15l-10 28 14 4 1 14-10 12-14-6-3 10-11 11 31-1 25-1h4l19-1 28-1h14l3-1h6h8l26-2 18-1h2l25-2 17-1 17-1 13-1 22-1 5 21 7 27 15 3 4-3 9-2 4-17 6-6 13 7-1 21 4 2 20-11 9 7h15l3 3 5-1 12 6 20-2-2-17 6-8v-10l-17-9-1-1 2-4 3-10 7-9-35 3-12 1-14 2 3-1 40-4-4-17 3-4 6-23-3-5 9-7 2-1 18-12 6 5-2 21 13 9-8 24 25-11 13-1-5-9-13-6v-27v-1l1-19-21 7-4 3-18-6-6 4-4 18-16 2-7-4 1-21 5-6 2-13-3-4-17 1-12-10h3l1-21 19 5 3-15h22l-7-21 10-6 17 16 3-4 18-19-16 2-7-8 1-13 14-12-5-4-5-13-10-25-16 9-10-5-6 5-13 4h-1l-18-7-2-5 6-14-5 2-17-5v17l-6 2-1 20-2 2-12-2-7-10v-11l7-6-1-14 6-5-16-17-3 1 2 16-10 2-5 14-12 4 5 18-2 2-23-3-7-8 7-14-1-2-19-5-1 1-5 20-15-2-2-18 4-3-1-17 1-1 2-18-2-3 4-17 19-1 1 1h19l2-2 2-19-24 1-3-3 6-19-21-4-2 21-4 19-17 1-3 3-17-4 2-19-23-4 5-17 15-1 3-3 20 3 2-2v-17l-22-3h-1l-18-1h-1l-21-3-1 2-12-1 2 32v6l2 24 1 20h-17l-1 20-3 3 2 23 3 2 13-1-1 5-2 10 25 2 1 1-3 18-2 2-1 17-17 3-4 21 13-6-6 3-1 17-17 3-1 12-14 4-7 15-2 4 14-32-20 2-3-3-20 3-4-5 4-22-2-2 4-23v-1l-27-1 5-22v-1v-24h22l3-24-2-2-25 2v-28l1-1 2-20 3-2-2-27-1-1 1-24 3-3 25 6 3-22 21-2 2 2 28-4 16 3 3-3 17 4 4-4 2-18 18-1 4 4h19l1 2 20 1 2-2 18 1 24 2-2-22-19-2-1-1h-22v1l-18-1-1 1-22-1-22-5 2-15-8 1-4 3-16 7-5 2-13-7-4-9-8-26-6-20-7-38-1-1 3-28 2-20 1-6 3-17 4-21 4-20-19-1-2-3-7 7 3-8 4-10 10-23 12-22 5-10 8-17 21 8 16-21v-1l28-12 11-4 29 7 11 2 41-12-13-17-13-15-1-1-27 3-5-20-12 3-28 7-11 3-14 7-20 12-16-3-19-2-19-12-12-8h-4l-18-2 11-15v-1l18-27-27 14-6 4-34 23-6 3-26 11h-2l-25 16 21 9 19 8-17-7-20-8-10 10 2 27-2 2-26-1-5 27 1 1 32 1-8 32 3 2 28-2 4 4 1 20-6 6 6 27-4 3-28-4-3 2 1 24-3 32h-21v8l3 23 2 13 14 18 14 18 21 21 1 2 5 5-2 19v3l-12 13-9 9-18 15-8 7 6 22-1 1-19 23-2 2-1 12-17-14h-17h-27h-11h-8h-29h-19h-11h-24l-20-1h-1h-26l-29-1 19 32 6 11 11 11 3 10 6 17 1 6-4-14-12 10-29-1-4 6h-26l-2-2-2-25-26-3-4 5 1 25-2 2-25 1-4-30v-1l-23 5-8-6-24 4-3 3-31-4-2 3-25 2-4 4 7 25-2 3-28 3h-1l2-29-5-5-25 1v29l-3 2-26 1-3-3-26 7-7-5-27 5-2 15 1-8-26 1-3-3-32 2-13-5-6-29 2-4-2-41-4-4-42 26-20-42 24-16-6-36 4-6-7-26-16-2-20-3-35-5-19-3zM1643 1515v-27l1-1 27-1 3 2 22-6v4l-1 27v3h-30l-27-1zM2108 1439l10 1h-6l-13-1zM2084 1181l-1-14v-1zM2030 1113l-15 1-25 1 17-1 12-1 46-2zM1930 1117l24-1-17 1-23 1zM1876 1279l1 18-1-10-1-15zM1695 1360l3 5-2-2-14-20zM1917 1364l2 1 24 26 3 4-18-20zM1495 1988v-1l-2-32 1-1-2-33 31-7h1l-3-26 6-9 29-2 3 3-6 32 8 7 31-7 2 35-2 2-32-2-1 30 8 6 27-1 3 33v1l-29 3-6-5-26-1-6 9-34-8-3 5-32 3-4-3 4-31zM1583 1880l5-6h36l1 1-4 34-29 3zM1745 2001l3-11-2 9zM1754 1934l1 2-6-9-9-13zM1894 1335l5 5 9 12zM1877 1304l3 5 14 26zM2181 1632l-24-7-2 1-17-4-4 4h-18l-1-1-14-5 3-13-8-11-16 10-8-6 1-21 4-3 3-18 23 2 6-29h19l6-1 26-1h6l23-1 2-12 16-3h1l9 3v1l25-2 6 10h5l5-1-1 20-3 2 7 25-4 6 1 13-2 1-3 16-22 10-4-8-15-1-6 5 4 22-3 3-21-10zM2074 1533l17-1 11-1h7zM2075 1536v10l-1-13zM2046 1547h-2l17-1h5h9zM2009 1511l-18-18 20 19zM1990 1492v-1l1 2zM1973 1463l-8-14 9 15 16 27zM1949 1436l13 10 3 3zM2021 1510l27-7-26 7zM2094 1338v1l-2 13 1-9zM2134 1342l1-1 21 3 2 2-3 18h-19zM2179 1431l-20 4 14-3 14-3zM2195 1417l-5 8-1 1-2 3zM2348 1593l-23 12-6 3 3-2zM2303 1639l8-16 8-15zM2306 1521h-4l-28 2 9-1 18-1zM747 1418l-60-12-60-13h-1l-59-14 2-5-48-34-81 84 59 95-4 28-4 24 26 9-28 22 6-5-40-25-36 7-29-27-23 18 9 47 2 3-7 56h4l69 9 12 2-9 15 161 97 58 34 29 5 98 16 6-38 13-85-25-11-56 19-28-17v-89l45-15 27 9 57-15 12-77 15-97 1-3 3-15-3 16 37-24 15-32-38-19 3-18-54-15-9 14-24 18-25-6-28 17-4 44zM511 1483l-7 22-5 14zM474 1669l12-54 3-13zM1717 1088h1l25-3 1 1 23 1 2-3 23 3 6-5-3-35h-15l-9 11h-24l-3-11h-26h-1l-26-1 1 14 3 2 1 22-5 4v25l26-3zM1839 1516l-22 1-4 36h11h17l-1-36zM2144 931l-3 8-3 14-1 5-10 37-1 3 9 33 3 12 25 8-6 28 31-4 1-22 2-1 26 5 1-1 24 3 4-4-1-21 4-4 23 2 2 4-6 22 4 6 22 1 1 1h25l1 30 2 2 24-21v-10v-19l-2-7-12-33-1-3-22-31-10 5-13 6-12 14-8 8-3 3 2-3 12-24 12-24-1-2-6-28-5-24-11-11-13-13-19-11-2-1-23-7-5-1-11 3-14 29-3 8-4 14-6 21v-29zM2215 1082l-1-2-23-2-4 25 26 4zM2160 1100l-10-14h-2l1 4-9 35 18-1zM2166 1157l14-1 1-24-22-5-9 32zM2205 1243l-3 3 2 20 18 1 2-2v-17zM2156 1775l20 10 4 10 20 11 5-2 29-2 4-17 18-20-1-3-8-34 7 27 6 26 2-1 14-22-6-9-1-10-3-3 11-17-4-6-21 3-6 9-9-38-18 16-31-8-3-6-20-6-5 3-12 24-14 3 1 29-5 5 6 29 11 3zM2235 1139l25-3 4-19-25-11-5 4zM2331 1178l4-3 5-16-26-8-1 22-24 1v19l19 6 8-23zM2299 1283l4 5-10 20 4 4h21l3 3-4 20 25 1-2-22 3-3 20 5 3-2 5-18-5-6-21 3-1-22 5-4-1-16 25-3v-19l-2-2 5-22 21 5 6-4 16 4-2 22 3 2-3 20-3 3v20l-21-1-2 17 17 7 4-2 4-19 17-1 11 13-10 10-4 9 6 4 10-1 12 14-2 7 16 11 9-4-10-17 3-3 27 3 2-17-4-4 5-31 19 7 11-15-33 4-5 1-13 2-3-18-7-49-1-11-4-25-5-32-4-29-37 28-22 16h-2l-12 3-26 5 2 19-6 4-3 18-1 1-18-1-3 2-1 20-22 1-1 17-3 2-5 20 3 3zM2347 1249l-17-4 1-22 21 1 2 2zM2466 1258l-1 2 3-13zM2468 1243v-6v10zM2255 1261l6-4 1-18-2-2h-23l2 19zM2243 1294v2l3 32 25-2 4-16 4-3-2-24h-1l-22 1zM2295 1335l-3 19 26 3-2-21-19-3zM2280 1840l21-6 1-3-18-24-11 11 4 9 4 11zM2395 1254l-1-1-21-4-3 23 21 1zM2432 1340l-5-5-13 2 2-5-11-11h-16l-4 2-5 16 5 7 27-3-4 8-9 14-8 6 3 4 26 3 2-12 11-8zM2465 1456l24-14-6-9-18-4 5-24-2-2-21 9-6 13 22 5-3 27zM2399 1424l13 26 9-10zM2426 1547l6-2 14-38-31 3-3 16zM2460 1582l24 7 4-25-2-3 6-25-20 1-12-9-22 3 9 20 18 4 6 6zM2382 1629l-6 3-13 23 15 8 4-6zM2439 1690l1-1 4-25-2-2h-26l-6 18-8 4 14 17 12 11zM2461 1696l-6 30 32-4-6-23-13-5zM2456 1737l-16-14-23-21 1 24 1 1 19-2 4 24 11 4 13-6zM2395 1733l5-5-5-25-17-2-4 20 3 4zM2403 1806l9-11-6-9-15-3-2 17zM2480 1836l8-8v-6l-13-14v-8l-6-4-16-4-4 4v11l3 8 11 5 1 5 13 11zM2430 1828l-18 2-4 11 15 11 19 9 11-10-5-11-9-7-5-1zM2481 1916l1-1 2-17 18-8 8 11-8 14 1 1 8 7 4-19v-2l3-25v-3l5-14-15-9-3 1-5 25-11-3-8 5-15-3-3 2h-16l-4 17 2 2 2 13 14 7 5-3zM2375 1904l-5 3v13l10 10-11 21 24-1 4-22 18 11-4 11 25-1h15l6-16v-1l-22-1-5 5h-3l-12-19h-16v-2l6-19-8-10-13-2-3 2zM2766 844l-13-3-12 11-1 11-28 8 2 22 13 5 16-29 25 14-12 17 4 16 28-13 1 7-14 27 3 3-8 34h-1l6 26-9 10-35-23 17-18-4-7-20-11-13 10-23-7-9 15-29 4 5 33-3 3-2 11-5 7 10 28-22 9-15-16-18 2-9-6-18 19 3 24 27-5 15-3 12-2 19-4 6 10-7 19v2l23 12 4 5v14l3 5 9 3 14-6 10-14 15-4 3 2 19-3 6 12 12-2v-3l17-30 27 9 15 4 7 3-2 23 6 8 35-12 22-12 19-11 30-28h-25l-13 16-18 6-9 3-35 14 4-11 1-2 5-14-7-27-6-24-3-11v-35v-18l11-3 33-7-3-14-5-28 1-25v-7v-7v-18v-13l7-11 11-17-3-16-3-22-36 10-14 4-30 8-14 3 3 12zM2833 962l-9-39-2-9 7 29 7 33zM2814 916l7-2h1zM2810 899l4 15v2zM2804 871l31 18zM2800 855v-1v-2zM2670 1069l8-1-22 4zM2764 1095l-33-5-12-31 18-4 5 5 1 2 17 19 13 8zM2510 1084l8-30-1-1-19 25-1 2 3 20 18-3zM2640 1290l4-15-19-17-23 2-13 1 3 26 7 11 10-19 9 4zM2574 1525l18-6 3-18h18l9-8-1-7-33 5-22 3-13 2-8 1-19 2 12 30 12-7 22 4zM2582 1622l12 9 31 23 10 8-11-8v24l-26 5 8 25-11 5-2 33-19-9-13 26 6 5-1 27 22-22 14-14 1-1 23-23 7-21 5-15 1-3 20-16 36-3h1l18-31-17-6-15 5-3 12-4 2-28-10 6-16-3-7-20-2-6 3-23-5 2-11 16-12 6 2 16-5-2-22-27 4-7-5 15-25-5-6-3-13-15-6-8 26-1 1-2 14 9 10-8 18-13 5-2 26zM2539 1594l18-9v-12l-15-5-13 3-1 17zM2512 1602l3-8-9-12-21 9 2 17 9-1 4 2zM2538 1670l5-11-20-28-3 3-3 36-2 29 2 3 17 2 13-23zM2543 1739l28-5 2-25-1-1-30 8-3 16-31-3 3 21 24 12 6-5zM2532 1833l8-9 3-4 14-17 5-4-30-26-7 5-22 7-8 6 2 4 18 28z"/></clipPath><clipPath id="cC3"><path id="rC3" d="M860 1436l-1 2-6 40-3 18-15 97-3 19-57 15-27-9-45 15v89l28 17 56-19 25 11 7-41-1 7-5 34-14 82-6 41 52 7 5-33 18 3 44 6 42 5v-2l-2-14 3 16 12 14 17 18 14 18 13 18 6 9 30 21v3l12 38 21-5 3-4 36 8 4-4-9-35 2-2 2-32 31-6 1-1h33l2 36 28-6 2-26 8-7 25 4 2-2h38l-2 30 2 2h31l4 3 30-8 1 1 34-7 3 2 29 1h1v-34l-3-4-33 5-2-2 1-32 5-5 30 4-2-37-4-4 2-25v-1l-36-5-1-23 6-7 28-1 3-3v-31l8-9-5-1-29-16-8-6-1-1 8 6v-33l33 2 2-29-7-5v-30l2-2-1-31 2-2 29 1 2 2 25-2 5 4 31-8 4 2 24-2 4-32 12-14-37-1 38 1 21 1h7l-1-21 1-2 26-5 2-23-1-1-29-4-4-21-27-1-2-1-21 7-10-8 1-24h-1l-26-2-3-23-5-4-22-2-5 29-22 3-3 4-31-4-3 3-25 2h-1l-3-30h-26l-5 5-24-2-5 29-36 3-2 19v5l-9-5-30 9-36-32-20 1-11-32-40-2-8 13 7 36-12 9-27-14h-15l-5-27-19-13v-10l-9-10-33-17-1-6-5-6 6-44-39-3-11 11 9 29 1 2-12 46-22-1-4-2-14 4-15 32zM958 1826l67 8 1 1-16-2-25-3-33-4zM1508 1510l-20-1h7l21 1 2 1zM1352 1536l28 2 2 1-35-3-23-2zM1382 1540v2v-3zM1295 1532l-30-3 21 2 30 2 8 1zM1314 1497l27 2-28-2-4-1zM1345 1499l20 2-17-1-7-1zM1180 1783l-2 18-3 27-2 22 4-46 1-6zM1203 1560l-4 38-3 34-3 26-3 26-5 49-3 20 2-15 5-46 7-64 3-31zM1160 1481l3 1-7-1-52-6 53 6zM1050 1468l-5-1 24 3 31 4 4 1zM1002 1461h-1l44 6zM1067 1839l27 3 5 1-25-3zM1211 1487h1l10 1zM1209 1509l-2 14 4-36zM1282 1494l-14-1-2-1 9 1zM1372 1679l2-27 1-13v2zM1493 1955l2 32v1h-34l-4 31 4 3 32-3 3-5 34 8 6-9 26 1 6 5 29-3v-1l-3-33-27 1-8-6 1-30 32 2 2-2-2-35-31 7-8-7 6-32-3-3-29 2-6 9 3 26h-1l-31 7 2 33zM2129 1160l-2 15 22 5 22 1 1-1 18 1v-1h22l1 1 19 2-2-27 1 11 3 30 1 14v5l-1-11-24-2-18-1-2 2-20-1-1-2h-19l-4-4-18 1-2 18-4 4-17-4-3 3-1 17 21 3h1l18 1h1l22 3v17l-2 2-20-3-3 3-15 1-5 17 23 4-2 19 17 4 3-3 17-1 4-19 2-21 21 4-6 19 3 3 24-1-2 19-2 2h-19l-1-1-19 1-4 17 2 3-2 18-1 1 1 17-4 3 2 18 15 2 5-20 1-1 19 5 1 2-3 6-4 8 7 8 23 3 2-2-5-18 12-4 5-14 10-2-2-16-15 1 18-2 5 6 11 11-6 5 1 14-7 6v11l7 10 12 2 2-2 1-20 6-2v-17l17 5 5-1-6 13 2 5 18 7h1l13-4 6-5 10 5 16-9 8 20 7 18 19 14 8 6 5 5-2 27 9 3 4 14-3 3-18 4v-2l-15-13 3-13-3-6-16 16-16-16-10 6 7 21h-22l-3 15-19-5-1 21h-3l12 10 17-1 3 4-2 13-5 6-1 21 7 4 16-2 4-18 6-4 19 6 3-3 4-1 17-5-1 18v1v27l13 6 5 9 22-1h5l-16 1-24 1-19 8-6 2 8-23-13-9 2-21-7-6-17 13-11 8 3 5-6 23-3 4 4 17 18-1-7 9-3 10 10-19h1l6-3v28l-4 6 14 7-11-5v10l-6 8 2 17 1 1 17 2 5 25-5 5-6 10-18 2 5 16-9 5-2 18h-1l-1 8 9 10-15 21 4 3 22-5 5 4 1 15-9 6 5 18-3 5 2 15 13 2 8 10-6 19v2h16l12 19h3l5-5 22 1v1l-6 16h-6l-29 1-34 1 5 8-15 35-11 6-1 1 20 11 17 20 21 25 4 2 8 5h24l6-9 32 5 5-4 3-22-1-1 1-27-7-9-17 6-18-10 2-23 18-6 20 14 19-10-2-9-6-25 2-11-8-7-1-1 8-14-8-11-18 8-2 17-1 1-15-2-5 3-14-7-2-13-2-2 4-17h16l3-2 15 3 8-5 11 3 5-25 3-1 15 9 9-27-3-1-14-9-3-6-4-6-11-16-2-4 8-6 22-7 7-5 30 26 4-4 1-27-6-5 13-26 19 9 2-33 11-5-8-25 26-5v-24l-10-7-32-25h-3l-7 1 2-26 13-5 8-18-9-10 2-14 1-1 8-26-5-4-18 6-2 1-22-4-12 7-12-30-9 1-30 3-6 1-34 3 3-15-1-1 5-18-1-4-12-1-2-8-2-2 3 3 8-1 12-3 3-27-22-5 6-13 21-9 2 2-5 24 18 4 6 9h1l-18 10 1 1 26 8 4-16 13-5 2-5-2-3 2-1 3-11-1-1-3-22 12-1 7-23h-16l-4-4 1-16 23-3-4-19-5-3-1-19-6-7-21 5-2 17-27-3-3 3 10 17-9 4-16-11 2-7-12-14-10 1-5-4 2-6 1-3 10-10-11-13-17 1-4 19-4 2-17-7 2-17 21 1v-20l3-3 3-20-3-2 2-22-16-4-6 4-21-5-5 22 2 2v19l-25 3 1 16-5 4 1 22 21-3 5 6-5 18-3 2-20-5-3 3 2 22-25-1 4-20-3-3h-21l-4-4 10-20-4-5 3-18-3-3 5-20 3-2 1-17 22-1 1-20 3-2 18 1 1-1 3-18 6-4-2-19-14 3-6-3-5 16-4 3-15-2-8 23-19-6v-19l24-1 1-22-12-4 15-26 1-6 2-14 3-3-2-2-1-30h-25l-1-1-22-1-4-6 6-22-2-4-23-2-4 4 1 21-4 4-24-3-1 1-26-5-2 1-1 22-31 4 6-28-25-8 3 12 7 31h2l10 14-2 24-18 1-3 10-16 26zM2246 1331l-2-21-2-22-2-22-1-10 4 38 11-10 22-1h1l2 24-4 3-4 16-25 2 1 16zM2238 1246l-1-9h23l2 2-1 18-6 4-16-5zM2284 1362v1l-3-4zM2501 1437l6-2-12 5-5 2zM2296 1148l-21 3 15-3 12-1zM2234 1110l5-4 25 11-4 19-25 3zM2181 1156l-12 1h-3l-15 2h-3h2l9-32 22 5-1 24zM2191 1078l23 2 1 2-2 25-26-4zM2222 1267l-18-1-2-20 3-3 19 5v17zM2420 1378l-26-3-3-4-3 2 11-8 13-22-27 3-5-7 5-16 4-2h16l10 10-1 6 13-2 5 5 1 18-11 8zM2353 1361l7 5 18 14zM2249 1154l-6 1 17-3zM2292 1354l3-19 2-2 19 3 2 21zM2335 1365l9-2-8 2-5 1zM2395 1254l-4 19-21-1 3-23 21 4zM2460 1528l12 9 20-1-6 25 2 3-4 25-24-7 11-21-6-6-18-4-9-20zM2426 1547l-14-21 3-16 20-2 11-1-9 23-5 15zM2383 1480l10 7v12l-23 3-7-7 6-4zM2354 1502l-24 17 12-9zM2408 1841l4-11 18-2 4 4 5 1 9 7 5 11-11 10-19-9zM2419 1727l-1-1-1-24-1-1-14-17 8-4 6-18h26l2 2-4 25-1 1-11 22 22 19 6 6 19 18 10 10-19-18-13 6-11-4-4-24zM2393 1624h2l-9 3zM2403 1806l-14-6 2-17 15 3 6 9zM2407 1994l23 2 9 7v17l-5 3h-30l3-28zM2542 1716l30-8 1 1-2 25-28 5-2 18-6 5-24-12-3-21 31 3zM2520 1634l3-3 20 28-5 11 9 11-13 23-17-2-2-3 2-29zM2524 1628l-1 3zM2485 1591l21-9 9 12-3 8-11 7-5-2-9 1zM2475 1808l13 14v6l-8 8h-3l-13-11-1-5-11-5-3-8v-11l4-4 16 4 6 4zM2481 1699l6 23-32 4 6-30 7-2zM2542 1626l28-3-21 3-8 1zM2528 1588l1-17 13-3 15 5v12l-18 9zM2156 1344l-21-3-1 1 2 22h19l3-18zM1608 1554l29 4 1-43h-2l-25-1zM1624 1874h-36l-5 6 9 32 29-3 4-34zM2331 1223l-1 22 17 4 7-23-2-2zM2407 1455l5-5-13-26-14 12-1 13 7 8zM2415 1939l-18-11-4 22h18zM2714 836l-14 12-11 15-14 20-4 7-9 13-7 11 8 25 5 14-14 9-7 8 3 3 29-4 9-15 23 7 13-10 20 11 4 7-17 18 35 23 9-10-6-26h1l8-34-3-3 14-27-1-7-28 13-4-16 12-17-25-14-16 29-13-5-2-22 28-8 1-11 12-11 13 3 28-19-3-12-40 10-31 8zM2545 1497h4l2-26-13-5-7 4-5 17-4 1-18 13 31-3zM2601 1622l23 5 6-3-5-23-6-2-16 12zM2534 2011l-5 21 19 8z"/></clipPath><clipPath id="cD0"><path id="rD0" d="M256 505l-10 29-8 19-32 69-2 3-21 46-10 22-28 38-3 3-27 32-3 26-4 43-7 18-2 20-14 28-11 21-22 22 3 34 50-13 39 18 2 1 25-17 8 5 47 2 11-9-25-42 44-31v-1l-38-14 14 5 11-14 55-27 9 3 20-22 30 6 34-17 2-6-14-41 25-16 8-17 6-34-15-9-6-36 4-12 38 2 9 1 8 16 51 4 5-6 13 5 7-14 34-9 1-3-18-39 1-2 35-10 24 18 15-45 55 3-1-8 11-34 11-37-45-15-59-21-62-22-18-7-42-17-44-18-41-16 2 21-8 26-2 27v5l-8 14-6 13-20 21-21 4-7-9 6 8 7-21 7-7 22-23v-18l-14-8-4-2-41-23-24-25-3 22-6 39-1 6-5 47-3 10zM262 543l12 7-28-16zM321 564l-28 24zM545 816l1 3-11 21-5 14 18 5 16 31 8 3h1l6-8 56-3-5 37 2 3 13 7 44-28 1-5-12-17-9-3-8-49h1l-4-31-26-13-16 6-24-32-14-7-8 9-6 7-25 28zM990 990l-60-14 18-62-5-8-45-14-51 79-6 1-5-1-18 82-2 11 40-3 21 19-3 56-2 3 40 8 55 10 23 4-35-50 57-43-5-11 54-51-40-44zM1255 1198l-15-1-10-1-5 11 1 40 58 7zM1291 1242l-4 33-1 8-42 8-9 7-2 25 15 20 36-35 1-9v1l-3 31h24l1-2 30 1-1-28 4-4-5-18-20-2 17 1 18 2 17 2-9-31-22-1-6-4 1-24-2-2-36-3z"/></clipPath><clipPath id="cD1"><path id="rD1" d="M512 657l-5 6-51-4-8-16-47-3-4 12 6 36 15 9-6 34-8 17-25 16 14 41-2 6-34 17-30-6-20 22-9-3-55 27-11 14 24 9v1l-44 31 25 42-11 9-47-2-8-5-25 17-2-1-39-18-50 13 1 15 3 33-9 43 1 3 8 25 4 36 2 20 7 10 15 19-8 43 4 7 8 13 3 6 12 12-15 16-4 23 21 53 1 3 19 31 7 26-1 10-1 21-2 21 47 18 22 16 7 8 18 21 19 5v11l1 9 28 19 18 38 8 17-2 23 5 15 38 4 31 5h4l69 9 12 2-9 15 161 97 58 34 29 5 98 16 52 7 5-33 18 3 44 6 42 5v-2l-2-14 3 16 12 14 17 18 14 18 13 18 37-1 4 3-4 31h-1l12 38 11 39 5 4 19 17 21 11 31 18 17-27 16-26 20-7 6-2 18 4 12 3 26 5 20 22 10 11 6 14 16 35 6 18 2 6 3 9 35 42 13 16 2 5 8 31 12 45h1l44 20 13 6 14 5 31 11 23-6-1-15-1-24-3-16-5-29v-6l7-19 10-24 18-15 28-23 10-6 22-11 3-3 40-27 8-5 10-7 16-11 33-15 21-10 34-5 19 6 14 5 5 1 24 3 7 1 25 3 5 2 8 4 19 8 32 18 7-2 5-1 38-9h3l16 3 19 3 16 7 9-15-7-18-6-18-12-21-2-4-13-7 3-3 16-8 12-1 44-5h19l5-26 5 20 2 12 25-5 13-2 10-2 39-6 17 5 14 4 21 6 4 7 17 26 21 2 1 1 39-27 1-1 17-12 14 8 20 11 17 20 21 25 4 2 8 5 16 9-3 27-3 25 2 9 2 11 2 12 19 36 5 10 7 11 19 31 6 6 16 18 20 14 4 3 8 6 3 6 18 40h1l12-2 36-14 2-7 9-31v-8l-1-12v-29v-25l-3-6-19-40-1-1-4-10-7-20-11-36-2-4-18-28-16-24-1-1-14-29-5 21-3 2h-26l-1-1 1-27 33 4-9-18-7-24-2-9-6-25 2-11 4-19v-2l3-25v-3l5-14 9-27 8-9 3-4 14-17 5-4 4-4 22-22 14-14 1-1 23-23 7-21 5-15 1-3 20-16 36-3h1l18-31 14-23 22-7 23-8 4-5 13-15 22-24 13-14-7-19-15-37-5-11-10-25-5-9-9-16-9-2-9-1-1-7-3-12-3-18-1-3-4-26-2-7-4-9-5-12-1-3-12-36-2-7v-10l-1-9 9-11 13-16v14l1 24v3l-3 22-1 13 12 13 6 6 14 13 12 2-4 14-7 22 6 27 10-23 4-13 9-27 4-11 5-21v-3l1-9-8-23-5-4-16-13-16-34 5-20-3 16 13 9 15 11 5 7 11 14 13-23 9-15 3-10 7-18 2-7-4-28-3-20-13-1h-2l2-4v-3l3-2 4-8 6 8 35-12 22-12 19-11 30-28h-25l-13 16-18 6-9 3-35 14 4-11 34-26 2-1h1l31-11 25-9 2-2 20-14h1l9-6 5-2 18-20 8 9 33-19-1-5-5-15-12-4 7 18-7 2-14 5-4-3-7-7-15-13-12-11 3-6 12-22-16-12 2-19 13-43 2-4 18-13 31-29 2-10 3-13 2-11 33-3 26-24 3-4 21-30-29-17-11-25-3-6-24-16-12-33-17-50-19-8-13-5-24 23-8-9-6-6h-9l-11 35-2 7-7 25-2 15-2 25 1 8 4 26-7 23-5 19h-13l-15 8-1 19-36 10-14 4-30 8-14 3 3 12-28 19 8 14 26-4v-2l2 11 2 8 3 11-18 9-1 12-28 13-2 14 17 7 3 3-8 34 34-7 5 17-21 18-13-2-6-26-21-5-17 18 35 23-3 6-29-1-5-5v-22l-14-4-2 1-30-7-4-9-29 4-3-3-7 7-31 9-10 2h-2l-33 1h-14l-28 13 5 10 8 16-18 25-19 25-1 2-9 6-8 6-21 15-37 28-22 16h-2l-12 3-26 5-14 3-6-3-26-8-12-4 15-26 1-6 2-14 3-3 24-21v-10v-19l-2-7-12-33-1-3-22-31-10 5-13 6-12 14-8 8-3 3 2-3 12-24 12-24-1-2-6-28-5-24-11-11-13-13-19-11-2-1-23-7-5-1-11 3-14 29-3 8-4 14-6 21v-29l-23 24-3 8-3 14-1 5-10 37-1 3 9 33 3 12 3 12 7 31 1 4-9 35 18-1 1 3-9 32 16-2 14-1 1-24 3-2 24 2v1l26 7 1-1 25-3 12 15h-1l-22 3v14l19 3 4-2 17 5v19l19 6v1l-3 20 3 3 22-1 1 1 21 1v-23l-18-1-3-22 4-3 21 7-3 18 22 4 1 1 21 5 6-4 16 4-2 22 3 2-3 20-3 3v20l2 2 17-1 11 13-10 10-4 9 6 4-9 21 5 5 21-1 3-5 2-7 13-3 3-3 27 3 14 8-1 18 3 3-1 16 4 4-5 22 2 2 3 22 1 1 8-24v-1l8-2 10 20-6 6-17-7-6 19h-2l2 4h13l10 14-20 3-2 6 12 12-5 17 9 11 10-1h4l13-2 4-1 8 31-2 1v7l-12 17 5 14-8 9v12l7 7 10 5-2 26-23 3 7 23-13 10-5 11 9 11-13 23 8 12-3 16-31-3 3 21 24 12-3 11-7 5-22 7-8 6-1-4-4 8-15 5-6-4-16-4-4 4-20-3-4 3-1 14-18 6-3-10 9-11-6-9-15-3h-1l-25 1 2-18 9-5-5-16-2-2-14 1-5-6 7-15-2-2 2-19-12-6 17-17-4-5-15-4-2-9-2-1 1-25-12 1-14 2 3-1 11-27-3-5-6 3 3-2-5-8 4-17-16-10-5-8-3-14 5-4v-24l-28 2 9-1 18-1 20-1 1-21-1-1 7-15-4-7-21 7h-1l1-23-13 1-7-8 1-7 6-7 16 3 1-1 20 5 1-2v-17l-4-4-11 1-4-18 1-1 5-17 18 7 3-30-5 1 4-1 7-29-25-1-1 1-19-3-2 2-22-5-2-4-25 2 1 16-1-13-2-21-21-3-2 2 3 17-7 6-16-6-4 4-17-1-2-3h-17l-3-3-21 2-1-1-21-4v-1l5-17-2-2-26-1 1 15-2-27-1-12 29 6v-1l23 4 2-2-5-20-15 1-5-7 4-17h-1v-19l4-4 2-18-3-2 1-20-21-1-4-4-5 2-13-7-4-9-8-26-6-20-7-38-1-1 3-28 2-20 1-6 3-17 4-21 4-20 4-17 15-37-35 46-5 4-7 7 3-8 4-10 10-23 12-22 5-10 8-17 21 8 16-21v-1l28-12 11-4 29 7 11 2 41-12-13-17-13-15-1-1-27 3-5-20-12 3-28 7-11 3-14 7-20 12-16-3-19-2-19-12-12-8h-4l-18-2 11-15v-1l18-27-27 14-6 4-34 23-6 3-26 11h-2l-25 16-16-5-9-21-7 4-22 11h-7h-22l24-22 1-1 32-32 3-1 16-9 24-13 24-16-19 1-20-6-13-4-11-3-19 7-10 3-19-8-10-4-19-3-1-1-26-22-14-1h-3l-23 5-6-2-27-9-5-1-5-10-2-11-4-23-14-5-1 24v4h-4l-32-2-28-1-35-1-41-3-19-1-19-2-39-3-13-1-9-1-55-6-30-3-9-1-45-6-43-6-42-6-51-8-5-1-67-13-14-3-8-1-9-2-40-9-45-9-13-3-9-3-47-11-25-6-23-7-71-19-16-5-19-6-61-18-14 45-8 26 1 8-55-3-2 7-14 41 1-3-24-18-35 10-1 2 18 39-1 3-34 9-7 13zM958 1826l14-61-3-4-71 13-11-14 8-30-77-33-5 34-10 56 9-56 20-119 12-77 15-97 1-3 3-15-3 16 37-24 36 14 1-1 38-23-3-12 26-21 9-19 33 17 9 10v10l19 13 19-7 21 4-20 30 27 14 12-9 2 1 47-10 2 22 44 17 13-14 30-9 9 5-5 48 9 1 14-17 27 5 5-4 23 3 5-4 22 1 5-5-1-25 28-4 1-1 29-5 2 2 25 3 2-3 32 1 1-1 23-6 10 8 21-7 2 1 27 1 1-1 29-6 7 6-4 26 1 1-2 23-26 5-1 2-29-3 2 23 21 1h-8l-14-1-37-1-10-1-32-2 3 21-3 2-29-1-4-3-23 6-7-5-31 12-2 20-2 34-3 42v5l13 17v33l1 1-8-6-3 35 6 32-6 7 1 23-5 5 6 30-29 10-8-6 4-32-3-3-34 3h-1l4 34-27 8-4-3-35 1h-1l-32 5-2-2h-33l-1 29 10 9-5 28v1h-33l-1 1 5 35-4 4-34-1-2 2-26 2-7-32 2-3-6-34-3-2-26 6-5-3-5-39-12-1-16-2-25-3-33-4zM1584 1513l30 1 22 1-25-1-34-1zM2128 1969l-3-17-1-10 8 50zM2138 1941l35-2 31-1-19 1-40 2-21 1zM2529 1832l-14-9 17 10zM2732 1354h2l8 3zM2775 1316l-10 2 19-4 24-4zM2781 1205v1l-13 10zM2789 1194l-2 3-6 8zM2906 776l17 53 1 4-3-9-20-63zM2926 839l19 58-2-6-8-24-11-34zM2889 816l-1-6-3-22zM2296 1148l-21 3 15-3 12-1zM2303 1639l8-16 8-15zM2265 1342l-3 1-15 1zM2084 1181l-1-14v-1zM2030 1113l-15 1-25 1 17-1 12-1 46-2zM1937 832l19 8-17-7-20-8-3-2zM1813 1804h18l21 1h-1zM1854 1701l-18-1-35 6v2l-25 5-2-3-32-12v-9l8-8-13-30 4-5 29-7 1-12 12-13h15l5 4 24 4 4-2 12 2 7 5 34-8 3 5 31 2v28l27-4 7 5 8-7 3-10 14 6 3 14 20-1 10 12-1 18 8 8-19 21 6 7 25 1-3 17-20 8-4-1-9 3-11 12-23-33h-1l-10-13-17-4-6-5-13 26h-35l9-32-27 4zM1841 1553l31-1h7l-35 1zM1877 1304l3 5 14 26zM1899 1340l9 12-14-17zM1918 1190l15-16 6-6-12 13zM1928 1132l7 7 1 1zM1914 1118l16-1 24-1-17 1zM1523 1093l-21-15-4-4 25 18zM1552 1090l14-1-31 3-12 1zM1592 1108l-15-10-11-9zM1070 1174l6 1-19-3-35-5-1-1zM1122 886l-41-7-11-2 47 8zM1035 871l-5-1-11-2 26 4 2 1 23 4zM1249 719l-3 26-4 23zM614 1390l13 3h-1zM664 1401l23 5-60-13zM733 1415l14 3-60-12zM635 882l-56 3-6 8h-1l-8-3-16-31-18-5 4-11 1-3 11-21-7-25 18-20 13-15 30-34-22 25 14 7 24 32 16-6 26 13 4 31h-1l8 49 9 3 12 17-1 5-44 28-13-7-2-3zM685 597l-3-7 14 32zM679 563l3 23v4zM263 1138l36 59 7 11-38-61zM602 1234l3-11 1-5zM611 1200l-3 10 4-16zM304 1013l24-73 7-21-13 40-43 131-14 42 16-50zM381 934l7 2 48 16zM454 957l37 11-36-10-19-6zM508 928l-13 42 11-36 7-23zM545 984l-18-5-32-9zM590 683l-54-18 46 15zM327 916l-55-19 32 11zM627 1134l18-75 11-45-16 68zM600 1000l33 8 21 6zM425 1401l15 23 59 95-5-8-26-41-35-56zM511 1483l-7 22-5 14zM495 1547l-4 24 8-52zM334 1255l-11-18-10-18zM517 1580l-28 22 6-5zM474 1669l12-54 3-13zM908 1167l3-16 1-4zM857 1137l15 2 2-3 3-56-21-19-40 3-11 48 13-59 9-40 9-42 5 1 6-1 51-79 45 14 5 8-18 62 60 14 31-28 40 44-54 51 5 11-57 43 35 50-5-1-18-3-8-1-47-9zM755 838l-5-17 8 27zM861 857l5-21-8 36zM909 845l8 2-51-11zM958 855l10 3-5-1-46-10zM734 675l-10 21-4 10 1-4zM743 798l-9-30-5-17zM743 1036l-11-3 15 4zM887 1285l-22-18zM898 1227l2-12-1 6zM1281 670l-21-20zM1278 1368l6-60-36 35-15-20 2-25 9-7 43-8v-8l2-17 4-40 36 3 2 2-1 24 6 4 22 1 5-7-5-26 3-4 28-2 1 2 4 23-4 5 3 41-18-1-10 13 6 29-34 6v-1l-30-1-1 2h-24l-3 30-2 15zM1354 848l-13-1h1zM1185 1190l11-80 3-24 5-41-4 33-4 34-4 32-1 6zM1210 999l6-41-1 7-2 15-9 65zM1235 1049l7 1-15-2-23-3zM1180 895l-7-1 18 2 33 5zM1298 841l23 3-28-3-6-1zM1228 868l5-35-3 25zM1225 1207l5-11-38-5 10 1 34 4 4 1 15 1 29 56-58-7zM1289 1202l6 1-24-3zM1418 854l15 2-35-3-4-1zM1449 1054l-13 16zM1436 1288l-16-1-8-1h1zM1380 1065h-2l-31-3-25-3 27 3zM1530 863h4l-26-1-6-1zM1423 1709l-5-1 10 2zM1676 1516h-11l-27-1h5zM1682 1343l-4-14-2-5 5 13zM1695 1360l3 5-2-2-14-20zM1661 1299l-25-43 19 32zM1633 1226l2 17 1 13zM1629 1207l4 17v2zM1671 1257h-6l-29-1zM1600 1072l7-28-1 6-8 30zM1599 1085l6 31-7-36zM1607 1123l4 13-4-12-2-8zM1608 854l1 12v1zM1598 775l2 22-1-8-5-42zM1605 822l3 19-3-18-5-26zM1610 971l2-41 1-16v6l-1 16-1 30-2 41-1 19v-7zM1599 1297l-24-1-32-2h2l36 2zM1514 1293l23 1-25-1-29-2h6zM1554 1745l-5 32zM1618 1297h-16h6zM1748 1990l-2 9-1 2zM1755 1936l-6-9-9-13 14 20zM1879 1021l-27-25-4-4-3-3 25 23zM1881 1038v8l-1-14-1-11zM1814 970l25 15 6 4zM1705 1632l-3-20-3-28 2 16zM1696 1486l-1 15 1-19zM1703 1676l1-31v10l-1 22v5zM1794 893l-1-1 8 7zM1818 864l-8 10-4 5zM1889 1086l-3-4 6 7zM1884 1250l11-12-17 20-2 2zM1892 1213v-1l6 22zM1875 1272l1 7 1 18-1-10zM2244 1935l-13 1 6-1zM2233 1668l6 25 5 21-7-27-4-17zM2056 1655h6l-30 1-23 1 19-1zM2074 1533l17-1 11-1h7zM2075 1536v10l-1-13zM2046 1547h-2l17-1h5h9zM1952 1587h-10l25-1h15zM1972 1614l-3 9 1-4 12-33zM1930 1551h24l-48 1h-17l35-1zM1962 1446l3 3-16-13zM1974 1464l16 27-17-28-8-14zM1991 1493l-1-1v-1zM2011 1512l-2-1-18-18zM1946 1395l-18-20-11-11 2 1 24 26zM2048 1503l-26 7h-1zM2094 1339l-2 13 1-9 1-5zM2090 1272l-2-26-2-30 2 21 2 32zM2099 1439l-6 3-4 2zM2108 1439l10 1h-6l-13-1zM2083 1396l-5 19 4-16 7-28-2 10zM2076 1421l1-4 1-2zM2060 1478l-7 15-2 4 14-32 3-7zM1901 1792l-1-16 1 14zM1917 1855l-6-18-3-10 5 15zM1904 1949l-28 1 16-1zM1887 1910l-3 12-4 14zM1990 1947l-1 5-4 21 3-17zM2118 1652h-3h-5h3zM2189 1528l17-1 14-1 28-1h5l-20 1h-8l-32 2-22 1h-5zM2143 1530h-11h2l26-1h6zM2077 1705l-1 9 1-14 2-31v2zM2071 1930v-1l-2-23 1 7zM2080 1953l-6 6zM2071 1808l1-17v3l-2 31-2 34-1 20 2-44zM2173 1432l14-3-8 2-20 4zM2195 1417l-5 8-1 1-2 3zM2227 1645l-35 2 13-1zM2187 1648l-24 1-23 1 18-1 17-1 17-1zM2284 1362v1l-3-4zM2462 2035l-23-15-5 3h-30l3-28v-1l-1-26 11-7-1-11-34 1-29 1h-21l-37 1 27-1 39-1h8l24-1h18l25-1-6-13 5-5 22 1v1l-6 16 12-1 10 14 1-20v-8h6l-2 30 20 14-5 19-17 6-9 28zM2594 1631l31 23 10 8-11-8-10-7-32-25zM2584 1491l30-4 30-5h3l-26 4-33 5-16 2zM2596 1420h-14l-2-10-8-11 8-12 17 2 6-9 1-6-1-3-13-7 4-19 20 7 3-2-10-22 8-3 11 9 6-2 9 3 5 13v1l3 7 11 9 4-2 7-21-4-4 1-11 4-4 11 2 1-3-4 16 16 4h2l20 7-10-3-2 16 16 5-3 15-4 7-17-9-11 15 16 9-13 13 4 8 18-9 5 11-5 9-5 4-2 10-6 4 2 19 21-4 20-3 7-1-6 1-18 3-41 7-4 1-18 3 10-2 11-2 4-22-19-1-3 12-22 7-3-4-5-1-9-6-2-18h-3l-15 7-9-6 6-19zM2615 1250l-15 3-12 2 5-1zM2256 1934l29-2-21 2zM2280 1902l5 27v3zM2247 1728l7 27 6 26-4-16-1-3zM2479 1245l4 26-3-18-5-35 4 24zM2468 1247v-4v-6zM2466 1258l-1 2 3-13zM2463 1133l4 28 1 9v-2l-5-32zM2510 1267l6-1 25-4-7 2zM2589 1261h-7l20-1zM2544 1347l-3 10 1-4zM2560 1350h-2l-14-3zM2562 1350l1 2-1-2zM2594 1310l5-12 1-3zM2591 1317l-5 9 8-16zM2545 1287l2 13-2-11-1-1zM2775 1164l-10-16 8 12 5 8zM2766 1128v12l-1 8zM2795 1177l3 2-20-11zM2681 1239l4-1 24-5 23-4-4 1-27 5zM2670 1241l-17 3-17 3-4 1 8-2 41-7zM2686 1066l-15 17 15-17zM2670 1069l8-1-22 4zM2737 1055l5 5 1 2zM2661 1290l10 5-2-1zM2623 1285l17 5-16-5zM2814 914v2l-4-17zM2821 914h1l-8 2zM2829 943l7 33-3-14-9-39-2-9zM2847 973l33-7-9 2-35 8zM2877 952l-3-18 6 32zM2880 843l11-17-14 23-4 5zM2836 1029l28-6 26-5-30 6zM2900 1015h1l17-4 10-2zM2948 1003h3l-23 6zM2788 1097l-5-2 11 4zM2772 1115l-6 10 17-30zM2845 1065l-1 1 1-1zM2818 1106l7 2 7 3z"/></clipPath><clipPath id="cD2"><path id="rD2" d="M934 1425l-1 1-36-14-37 24-1 2-6 40-3 18-15 97-16 96-1 8 77 33-8 30 11 14 71-13 3 4-14 61 67 8 1 1 12 1 5 39 5 3 26-6 3 2 6 34-2 3 7 32 26-2 2-2 34 1 4-4-5-35 1-1h33v-1l5-28-10-9 1-29h33l2 2 32-5h1l35-1 4 3 27-8-4-34h1l34-3 3 3-4 32 8 6 29-10-6-30 5-5-1-23 6-7-6-32 3-35-1-1 8 6v-33l-13-17-3 38 2-27 3-38 2-29 3-46v1l31-12 7 5 23-6 4 3 29 1 3-2-3-21 19 1 21 1 2 1 38 1-2-23 29 3 1-2 26-5 2-23-1-1 4-26-7-6-29 6-1 1-27-1-2-1-21 7-10-8-23 6-1 1-32-1-2 3-25-3-2-2-29 5-1 1-28 4 1 25-5 5-22-1-5 4-23-3-5 4-27-5-14 17 7 1-14-1-2-1 5-48-9-5-30 9-13 14-44-17-2-22-47 10-2-1-12 9-27-14 20-30-21-4-19 7-19-13v-10l-9-10-33-17-9 19-26 21 3 12zM1347 1536l-23-2 28 2 28 2 2 1zM1295 1532l-30-3 21 2 30 2 8 1zM1074 1840l-7-1 27 3 5 1zM1207 1523l4-36-2 22zM1212 1487l10 1-11-1zM1196 1632l-3 26-3 26-5 49-3 20 2-15 5-46 7-64 3-31 4-37-4 38zM1002 1461h-1l44 6zM1069 1470l31 4 4 1-54-7-5-1zM1157 1481h3l3 1-7-1-52-6zM1178 1798l2-15-2 18-3 27-2 22 4-46zM1309 1496l5 1 27 2-28-2zM1345 1499l20 2-17-1-7-1zM1047 1940v3h1l4-31-4-3-37 1 6 9zM2117 1164l-16 7 4 4 21 1-1 20 3 2-2 18-4 4v19h1l-4 17 5 7 15-1 5 20-2 2-23-4v1l-29-6 2 24 26 1 2 2-5 17v1l21 4 1 1 21-2 3 3h17l2 3 17 1 4-4 16 6 7-6-3-17 2-2 21 3-2-22-2-22-1-10 4 38v2l3 32 25-2 2 4 22 5 2-2 19 3 1-1 25 1-7 29 9-2-8 2-3 30-18-7-5 17-1 1 4 18 11-1 4 4v17l-1 2-20-5-1 1-16-3-6 7-1 7 7 8 13-1-1 23h1l21-7 4 7-7 15 1 1-1 21h-3l-16 1v24l-5 4 3 14 5 8 16 10-4 17 5 8 26-13-23 12 3 5-11 27 40-4 18-1-35 3-1 25 2 1 2 9 15 4 4 5-17 17 12 6-2 19 2 2-7 15 5 6 14-1 2 2 5 16-9 5-2 18 25-1h1l15 3 6 9-9 11 3 10 18-6 1-14 4-3 20 3 4-4 16 4 6 4 15-5 4-8 1 4 8-6 22-7 7-5 3-11-24-12-3-21 31 3 3-16-8-12 13-23-9-11 5-11 13-10-7-23-8 1 1-1 30-3 2-26-10-5-7-7v-12l8-9-5-14 12-17v-7l2-1-8-31-13 2-8 1-19 2-9 1-19 2 6-1 31-3-9-11 5-17-12-12 2-6 20-3-10-14h-13l-2-3 2-1 3-11-1-1-3-22-2-2 5-22-4-4 1-16-3-3 1-18-14-8-27-3-3 3-13 3-2 7-3 5-21 1-5-5 9-21-5-4 2-6 1-3 10-10-11-13-17 1-2-2v-20l3-3 3-20-3-2 2-22-16-4-6 4-21-5-1-1-22-4 3-18-21-7-4 3 3 22 18 1v23l-21-1-1-1-22 1-3-3 3-20v-1l-19-6v-19l-17-5-4 2-19-3v-14l-6 1 29-4-12-15-25 3-1 1-26-7v-1l-24-2-3 2-1 24h1l-12 1h-3l-15 2h-3h2l9-32-1-3-18 1-3 10-16 26zM2379 1382l-16 9zM2353 1361l7 5 18 14zM2235 1211v5l-1-11-2-22-2-27 1 11 3 30zM2428 1712l22 19 6 6-16-14-23-21-1-1zM2475 1755l10 10-19-18-10-10zM2435 1611l22-1h5l-16 1-24 1zM2446 1507l-14 1h3zM2394 1420l19 14 8 6-22-16zM2362 1582l6-5 2-1zM2330 1519l12-9 12-8zM2378 1663l14 7-11-5-17-9-1-1zM2365 1651l10-19h1l-13 23zM2412 1343l-4 8-9 14zM2391 1371l-3 2 11-8zM2415 1331l-10-10 10 10zM2411 1451l-10 11-12 12 18-19zM2394 1569l-6-5zM2393 1624h2l-9 3zM2507 1435l-12 5-5 2 11-5zM2472 1452l-7 4 24-14h1zM2485 1503l-4 1-30 3 24-3zM2439 1460l-2-2 3 3zM2438 1531l-1-1zM2407 1994v1l-3 28h30l5-3 23 15 5-4 9-28 17-6 5-19-20-14 2-30h-6l-1 28-10-14-12 1 6-16v-1l-22-1-5 5 6 13h9l-29 1 1 11-11 7zM2751 823l-31 8-6 5-14 12-11 15-14 20-4 7-9 13-7 11 8 25 5 14-14 9-7 8 3 3 29-4 4 9 30 7 2-1 14 4v22l5 5 29 1 3-6-35-23 17-18 21 5 6 26 13 2 21-18-5-17-34 7 8-34-3-3-17-7 2-14 28-13 1-12 18-9-7-28-26 4-8-14 28-19-3-12zM2524 1412l17 7 6-6-10-20-8 2zM2534 2011l-1-1-33-4-1 27 1 1h26l3-2z"/></clipPath><clipPath id="cD3"><path id="rD3" d="M1335 1280l5 18-4 4 1 28v1l34-6-6-29 10-12 18 1-3-42 4-5-4-23-1-2-28 2-3 4 5 26-5 7 9 30-17-1zM1737 1651l13 30-8 8v9l32 12 2 3 25-5v-2l35-6 18 1 5 5 27-4-9 32h35l5-10 8-16 6 5 17 4 10 13h1l23 33 11-12 9-3 4 1 20-8 3-17-25-1-6-7 19-21-8-8 1-18-10-12-20 1-3-14-14-6-3 10-11 11 3-4-7-5-27 4v-28l-31-2-3-5-34 8-7-5-12-2-4 2-24-4-5-4h-15l-12 13-1 12-29 7zM1966 1658l-5 1h-12zM2632 1332l-6 2-11-9-8 3 10 22-3 2-20-7-4 19 13 7 1 3-1 6-6 9-17-2-8 12 8 11 2 10h14l7 5-6 19 9 6 15-7h3l2 18 9 6 5 1 3 4 22-7 3-12 19 1-4 22 18-3-2-19 6-4 2-10 5-4 5-9-5-11-18 9-4-8 13-13-16-9 11-15 17 9 4-7 3-15-16-5 2-16-10-4-5-1-13-3 3-13-11-2-4 4-1 11 4 4-7 21-4 2-11-9-3-7v-1l-5-13z"/></clipPath><clipPath id="cE0"><path id="rE0" d="M347 493l-21 4-7-9 6 8 7-21 7-7 22-23v-18l-14-8-4-2-41-23-24-25-3 22-6 39-1 6-5 47-3 10-4 12-10 29-8 19-32 69-2 3-21 46 16 32-43 34-14-3-27 32-3 26-4 43 55 21 20 8h1l13 58-27 25 1 20 8 5 47 2 2 38 27 8-6 48-42 2-2 5 10 47 5 5-13 48-16 8-1 3 3 45-22 15-9 12 17 34 30 10 9 16 40-4 27 24 39-44 17 11 23-2-8-13-6-9 64-55 64-37 4-26 52-41 7-30-34-48 20-65-32-9-4-2-36-10-19-6 18 5 3-6 44-19 5 2 22-73 6-18 1-3 11-21-7-25 18-20 13-15 30-34-4-17-6-25-54-18-24-8-5 6-51-4-8-16 6 1 24 3 7-17-29-24 4-15 44 4v-20l-34-22 14-23-10-19 31-20-19-35 2-5-17-25 3-26-44-18-41-16 2 21-8 26-2 27v5l-8 14-6 13zM262 543l12 7-28-16zM381 934l7 2 48 16zM408 640l31 2 6 1zM281 1082l23-69 24-73 7-21-13 40-43 131-14 42zM304 908l23 8-55-19zM256 891l-38-14 14 5zM306 1208l-38-61-5-9 36 59zM334 1255l-11-18-10-18zM119 929l38 4-5-72-48 41zM1365 1296l6 29v29l-3 2 2 28-1 1 3 30h1l25-2 3-3 1-25 28-2 1-1 30-5 1 1-5 29 8 8 24-5 3-3 26 2 3-30-4-4-2-24-1-2 6-28-8-6v-22l-29-2h6l-2-23-31 4 5 18-6-1-35-2-8-1-9-1-28-2zM1282 1829l-35 1h-1l-32 5-2-2h-33l-4-5-2 22-29-3-36-4 2 27 36-1 4 31-1 1-31 6-2 32 34 1-1 29-26 7-4 4 1 25-1 1 6 33 32-1 6 5 16-26 20-7 6-2 18 4 12 3 26 5 20 22 6-7 43-8 1 1 29-1 4-32-8-9 4-23 3-3-9-33-1-1-5-33 3-3-3-32-27-1-7-33h-1l-4-34-29-1-4 3zM1362 2061l-33 2v1l8 30-18 26 2 6 3 9 35 42 13 16 2 5 8 31 12 45h1l44 20 6-32 24-2 5-34 2-2-3-30 1-1-4-32 4-4-6-34 1-1-2-32 1-2-1-28 1-2 27-6-2-33-32 3-4-3-26 5-1 1-35 7-2-2-31-2zM1655 679l-35 1-2 2 1 30 29-2 5 4 3 28-4 5 5 27-3 3-2 30 2 1 2 33-3 4 2 27-4 4-33-3 5 34 28-6 4 34-43 1-1 30 45 3-4 33 4 2 2 42h4h28l27 1 4-47 30 3v44h21h4l11-13 29-5 3-4 28 2 5-31-4-4-3-3-31-19 25 15 10-10-3-24 3-4-2-26 1-2 3-27v-1l-1-31 2-2-2-26 1-1 4-19h-22l24-22 1-1 32-32 3-1 16-9-4-38-11-3-19 7-10 3-19-8-4 33-25-2-8-31-26 3-6-6-1-28h-3l-23 5-6-2-27-9-6 6-29 4h-1l-26-1zM1810 874l-4 4 12-14zM1801 899l-7-6-1-1zM1717 1110l2 2-5 24-18 1-2 24-3 2-1 24 2 2 26-3 2 2 22 5 6-6 20 1 3 24 21 1 3-24 1-2 22 2 2-3h25l3 3h21h1v-27l1-2v-22v-22l4-4-6-27 4-4 4-25-30 5 2 24-3 4-26-5 3-24-15-13h-13h-15l-9 11h-24l-5 4 1 23-25 3h-1zM1738 1434l2 3-5 25 4 5 24-7v1l27 1 1 1 21 1h1l25 4 6-5 18 1 5 5 24-5 1-20 2-2-1-26-3-4 3-21v-27l-4-3-20 2-3-1 1-27-28 3 3 23-24 4-3-2h-26l-1-2-21-1-1-1-25-2-2 4 1 23 22 2 3 3-3 23h-22l-3-25-20 1-6 23 1 1 27 1zM2086 1216l2 21 12 1-1 20 20-2 5 7-5 17v1l-1 19-26-1 1 20h-17l-1 20 18 4 1-5-1-17 22-2v1l3 21-24-2-3 18 22 4 2 4 21-1-1 20 18 3-2 21v1h18l2-2v-18l-16-3 2-20 17 2 4-3 18 3-5 20 12 15 11-23 21-3v-20l6-6h-20l-4-4v-15l-16-6 1-17-1-1v-19l-3-3 6-19v-1l18 1 2-2v-17l-19-5v-15l5-3v-22l24 2-2-22-19-2-1-1 2-25h-10l4-22 26 7 1-1 25-3 12 15h-1l1 18 17 5 7-26-21 3 15-3 12-1 15-26 1-6-26 2-5-4 1-20 6-5 27 8-1-30h-25l-1-1-22-1-4-6-22-3-4 4-24-3-1 1-3 23-23-2-4 25-27-3-2 24 1 3 22 5-1 24h1l-12 1h-3l-15 2-22 1-8 1-4 3-16 7 4 4v21v1v19l-3 3zM2213 1107l-5 25-24-2 3-27zM1899 1340l18 24 2 1 24 26 7-5 23 2 2-2 27 4v-24h22l3-24 24 3 3-3-4-24-23 2-1-1 4-26-2-3 4-23-2-3h-26l2 27-3 2-22-6-5 4h-16l-5-6 1-19-25-5-3 3-20-2-6 23 3 4 23-4 3 3 1 21-2 2-27-2-1 1 2 24zM2026 1387l-5 4 3 23v1h20l5-21 5-4-3-21-1-2-23 2zM1917 1390l5 23 20 1 4-19-18-20zM2132 1406v-20l-19-2-3 18 21 5zM2096 1596l8 11 19-8v1l-8 25-14-5-3 2-16-7-13 11 10 28h8l26-2 18-1h2l25-2-3-23 2-1 24 7-6 16 17-1 13-1 2-8 3-3 22-4 5 4 5 9 11-1 24-2 1-4-3-13 2-6-6-25 13-5v-9l16-16-3-14 5-4v-24l-33 2-11 1-5 1-20 1h-8l-32 2-22 1h-5l-23 1h-15l-1-19-6-9-12-3-8 6 1 26h7l-6 29-23-2-3 18 19 7zM2245 1171l-14-4 3 30 9-10zM2277 1668v-9l-12-11-19 20 25 6zM2575 1118l-17 14 1 12-5 5-10 22 6 7 1 11 24 11-5 24 1 2-6 32-16 3-8 1-7 2-24 3 6-1 3-10-10-18-30 7 4 26 18-3 3 4-5 31 4 4 21-5 6 7 1 19 5 3 4 19-23 3-1 16 4 4-5 22 2 2 12-1v-1l8-2 10 20-6 6 1 5 11 11 3 9-1 1 15 14 1 3 15 3h1l2-19 8-2 9 6 1 17 1 1 18-7-2-18 4-2 18 10-6 17 3 4 22-7 7 13 11-2 4-22h1h11l6-4 2-10 5-4 15 8 2 3 11 3 4-6h21v-13l-9-1-1-7-3-12-18-3-3-5 10-10h8l-1-3-4-26-2-7-4-9-5-12-1-3-12-36-2-7v-10l-1-9 9-11 13-16v14l1 24v3l20 4-7-34-6-29-14 3 5-17h26l4-21-6-11 13-16-10-16-10-3-13 8-10-4-10 3-21-15 10-14-14-17-22 15v14l-31 1-2-3 6-29v-2h-23l-8 19-11 5-5-1-5 2zM2732 1354h2l8 3zM2667 1437l-2 12h-16l-2-18 9-3zM2640 1246l41-7-11 2-17 3-17 3-4 1zM2685 1238l24-5 23-4-4 1-27 5-20 4zM2624 1285h-1l17 5zM2591 1317l-5 9 8-16zM2599 1298l1-3-6 15zM2615 1250l-15 3-12 2 5-1zM2589 1261h-7l20-1zM2547 1300l-2-11-1-1 1-1zM2545 1375l-9-3zM2542 1353l2-6-3 10zM2560 1350h-2l-14-3zM2684 1322l-4 16 3-13zM2718 1349l-10-3-10-4zM2661 1290l10 5-2-1zM2684 1476l9 13 24-2 8-18z"/></clipPath><clipPath id="cE1"><path id="rE1" d="M504 575v20l-44-4-4 15 29 24-7 17-24-3-6-1 8 16 51 4 5-6 13 5 11 3 46 15 8 3 7 33 3 9-22 25-8 9-6 7-25 28 6 22 1 3-11 21-5 14-13 43-9 31-13 42 50 14-18-5-20 65 34 48-7 30-52 41-4 26-64 37-64 55 6 9 8 13-23 2-17-11-39 44-27-24-40 4-9-16-30-10-17-34 9-12 22-15-3-45 1-3 16-8 13-48-5-5-10-47 2-5 42-2 6-48-27-8-2-38-47-2-8-5-1-20 27-25-13-58-21-8-7-3-48-18-7 18-2 20-14 28-11 21-22 22 3 34 1 15 3 33-9 43 1 3 8 25 4 36 2 20 7 10 15 19-8 43 4 7 8 13 3 6 12 12-15 16-4 23 21 53 1 3 19 31 7 26-1 10-1 21-2 21 47 18 22 16 7 8 18 21 19 5v11l1 9 28 19 18 38 8 17-2 23 5 15 38 4 31 5 7-56 29-6 37 17 42-16 3-13 6-5 22-17-26-9 8-52 12-36-2-39 43 2 15-67 2-5 24-100 12-51 10-39 30-125 11-45 1 1 52 13 6 1 45 11 13-21-42-37 22-19-9-34 33-14 4-30-17-8-32 21-18-9 11-38-20-14-4-7 1-2-2-49 34-11-5-17-27-3 15-35 3-7 1-4 13-27-10 21 57-26v-1l-27-36-25-7-4-33-12-15 3-25 25-13 20-40-61-18-45-15-59-21-62-22-18-7-42-17-3 26 17 25-2 5 19 35-31 20 10 19-14 23zM494 1511l-26-41-35-56-8-13 15 23 59 95zM682 590l14 32-11-25zM679 563l3 23v4zM608 606l1-3 9-26zM152 861l5 72-38-4-15-27zM633 1008l21 6-54-14zM199 703l-16-32-10 22-28 38-3 3 14 3zM501 932l-44 19-3 6 37 11 4 2 11-36zM851 906l-18 7-4 14 11 26zM1060 1204l-37 2-4-8-33 7h-1l4 39h1l15 49-1 1-39-3-11 11 9 29 1 2 34 5 5 6 1 6 33 17 9 10v10l19 13 19-7 21 4 12-1 8-13-10-23-6-6 9-31 34-11v-1l-20-42-13-2-15-41 1-2 45-7 4-6-7-26-16-2-20-3-35-5-19-3 11 21zM1282 1331l-3 30-3 26-3 33-2 19-5 53 9 1 7 1 32 3 27 2h4l20 2-17-1 4 36 28 2 2 1-35-3-10 12-3 36 1 1h44l-1 9-3 42v5l-3 38 5 4-34 6-4-3-29 2-5-29-34-1-4 4 5 27h-1l-34 6-5-3 7-31-3-32-40 3-3 26-3 26-5 49-4 32-3 36-3 27 4 5h33l2 2 32-5h1l35-1-6-37 4-3 29 1 4 34h1l7 33 27 1 3 32-3 3 5 33 1 1 9 33-3 3-4 23 8 9-4 32-29 1-1-1-43 8-6 7 10 11 6 14 16 35 6 18 18-26-8-30v-1l33-2v-33l31 2 2 2 35-7 1-1 26-5 4 3 32-3 2 33-27 6-1 2 1 28-1 2 2 32-1 1 6 34-4 4 4 32-1 1 3 30-2 2-5 34-24 2-6 32 13 6 14 5 31 11 23-6-1-15-1-24-3-16-5-29v-6l7-19 10-24 18-15 28-23 10-6 22-11 3-3 40-27-16-14-27 2-4-31-2-2-2-31v-1l-3-33v-1l-2-32 2-2-2-35-9-32 5-6-1-27 5-5-4-27 31-7-3-28-27-4h-1l-3-35 24 1h7h30l10 30 30-6 9-9 5 2 1-25 18 7-3 20 24 6 9-12-9-20 11-9 16 3 9-16-2-3-32-12v-9l8-8-13-30 4-5-6-23 18-11 18 15-1 12 7 9 18-1 8-29-5-4h-15l-5-16-13-7-1-38h15h10h1l8 25 7 8 21 4 6-6 24 14 7-4 18-1-2-41h10l35-1h6h24l-48 1 11 12v21l26 10 9-8h-10l25-1h15v-2l15 13-6 18-5 3-14-4-9 24-3 10-11 11 31-1 25-1h4l19-1 28-1h14l3-1h6l-10-28 13-11 16 7 3-2 14 5 8-25v-1l-19 8-8-11v-13l-19-7 3-18 23 2 6-29-35 2 17-1 11-1-1-26 8-6 12 3 6 9 1 20 6-1 26-1h6l23-1 17-1 14-1 28-1h5l17-2 13-1 18-1h5h-4v24l-5 4 3 14-16 16v9l-13 5 6 25-2 6 3 13-1 4 26-2 8-16 8-15 3-2-5-8 4-17 5-5 16-3 1-21-24-4 11-18-12-10h3l9-1 19-2-2 12 3 4 25 2 1 2-1 16 19 6 3-3 4-1 25-8-14-21 3-16 20-2 11-1-9 23 1 1 22-3 21-24-30 3 24-3 16-1 13-2 31-3 10-1-19 2 12 30 12-7 22 4 2-1 18-6 3-18h18l5 20 23-5 6 10 15 1 8 13 18-1h1l22-3 3-4 17 6 7 10-3 9 22 20-5 12-2 1v26l23-8 4-5 13-15 22-24 13-14-7-19-15-37-5-11-10-25-5-9-9-16-9-2v13h-21l-4 6-11-3-2-3-15-8-5 4-2 10-6 4h-11h-1l-4 22 18-3 21-4 20-3 8-1-7 1-18 3-8 18-24 2-9-13-4 1-18 3 10-2-7-13-22 7-3-4 6-17-18-10-4 2 2 18-18 7-1-1-1-17-9-6-8 2-2 19h-1l-15-3-1-3-15-14 1-1-3-9-11-11-1-5 6-6-10-20-8 2v1l-12 1-2-2 5-22-4-4 1-16 23-3-4-19-5-3-1-19-6-7-21 5-4-4 5-31-3-4-5 1-13 2-3-18-5-35 4 24v3l30-7 10 18-3 10 25-4 8-1h4l12-2 6-33-1-2 5-24-24-11-1-11-6-7 10-22 5-5-1-12 17-14 21 9 5-2 5 1 11-5 8-19h23v2l-6 29 2 3 31-1v-14l22-15 14 17-10 14 21 15 10-3 10 4 13-8 10 3 8 12 5 8-3-4-13 16 6 11-4 21h-26l-5 17 14-3 12 63-19-4-3 22-1 13 12 13 6 6 14 13 12 2-4 14-7 22 6 27 10-23 4-13 9-27 4-11 5-21v-3l1-9-8-23-5-4-16-13-16-34 5-20-3 16 13 9 15 11 5 7 11 14 13-23 9-15 3-10 7-18 2-7-4-28-3-20-13-1h-2l2-4v-3l3-2 4-8 6 8 35-12 22-12 19-11 30-28h-25l-13 16-18 6-9 3-35 14 4-11 34-26 2-1h1l31-11 25-9 2-2 20-14h1l9-6 5-2 18-20 8 9 33-19-1-5-5-15-12-4 7 18-7 2-14 5-4-3-7-7-15-13-12-11 3-6 12-22-16-12 2-19 13-43 2-4 18-13 31-29 2-10 3-13 2-11 33-3 26-24 3-4 21-30-29-17-11-25-3-6-24-16-12-33-17-50-19-8-13-5-24 23-8-9-6-6h-9l-11 35-2 7-7 25-2 15-2 25 1 8 4 26-7 23-5 19h-13l-15 8-1 19-36 10-14 4-30 8-14 3-40 10-31 8-6 5-14 12-11 15-14 20-4 7-9 13-7 11 8 25 5 14-14 9-7 8-7 7-31 9-10 2h-2l-33 1h-14l-28 13 5 10 8 16-18 25-19 25-1 2-9 6-8 6-21 15-37 28-22 16h-2l-12 3-26 5-14 3-6-3-26-8-12-4-6 1-7 26-17-5-1-18h1l-12-15-25 3-1 1-26-7-4 22h10l-2 25 1 1 19 2-2-27 1 11 14 4-2 16-9 10 1 14v5l-1-11-24-2v22l-5 3v15l19 5v17l-2 2-18-1v1l-6 19 3 3v19l1 1-1 17 16 6v15l4 4h19l-1 1-4 4v21l-21 3-4 8-7 15-12-15 5-20-18-3-4 3-17-2-2 20 16 3v18l-2 2h-18v-1l2-21-18-3 1-20-21 1-3 18-25-2-4 15-5 19-2 6 1-4-30 2-3-4h-20v-1l-3-23 5-4 1-18-3-3h-22v24l-27-4-2 2-23-2-7 5 3 4-4 18v1l-20-1-5-23 11-15-11-11v-1l-23-28 5 5 5-6-2-24 1-1 27 2 2-2-1-21-3-3-23 4-3-4 6-23 20 2 3-3 25 5-1 19 5 6h16l5-4 22 6 3-2-2-27h26l2-21v-1l-25-6 1-20v-26l2-1 20 3 5-23 2-1v-23l-2-1-5-31-15 1-25 1h-4v24l-1 1-23-3-3-21h2v-15l-5-4-24 3-5-28 6-5-3-31h1v-26l1-1 3-25 4-3-6-27-23 1-5-4 1-25-3-2 8-32v-1l23 4 7-32 28 3 15-14h-1l-44-19-20-8-3-2-16-5-9-21-7 4-22 11h-7l-4 19-1 1 2 26-2 2 1 31v1l-3 27-1 2 2 26-3 4 3 24-10 10 6 4 25 23 9 9-27-25-5 31-28-2-3 4-29 5-11 13h-4h-21v-44l-30-3-4 47-26-1 1 14 3 2 1 22-5 4-20-2-1 1-4 24 4 4-1 23 26-2 1 1 18-1 5-24-2-2v-22h1l25-3-1-23 5-4h24l9-11h28l15 13-3 24 26 5 3-4-2-24 30-5-4 25-4 4 6 27-4 4v22v22l-1 2v27h-1h-21l-3-3h-25l-2 3-22-2-1 2-3 24-21-1-3-24-20-1-6 6-22-5-2-2-26 3-2-2 1-24-22-5-3 3 1 27 3 26 24-3 3 2-3 24-24 1-1 2 2 17h20l-1 26-1 1-28-1 4-26-29-1 19 32 6 11-17-1-42-1h6l3-37-5-3-28 4-3 3 6 32 18 1-24-1-32-2h2l-1-26-27-2-4-5-24 4-2 3 2 23 25 2 23 1-25-1v22l8 6-6 28 1 2 2 24 4 4-3 30-26-2-3 3-24 5-8-8 5-29-1-1-30 5-1 1-28 2-1 25-3 3-25 2h-1l-3-30 1-1-2-28 3-2v-29l-6-29 10-13-8-1-9-30-22-1-4 28 18 2-15-1-26-3-22-2-2 25zM1382 1540v2v-3zM1844 1553h-3l31-1h7zM2075 1536v10l-1-13zM2046 1547h-2l17-1h5h9zM2342 1510l12-8-24 17zM2766 1128v12l-1 8zM2795 1177l3 2-20-11zM2775 1316l-10 2 19-4 24-4zM2781 1205v1l-13 10zM2789 1194l-2 3-6 8zM2906 776l17 53 1 4-3-9-20-63zM2926 839l19 58-2-6-8-24-11-34zM2889 816l-1-6-3-22zM1877 1304l3 5 14 26zM1881 1038v8l-1-14-1-11zM2009 1511l-18-18 20 19zM1990 1492v-1l1 2zM1973 1463l-8-14 9 15 16 27zM1949 1436l13 10 3 3zM1556 1512l-2-23-1-1-26 8-6-31-25 1-2-26 1-1 23-6 10 8 21-7 2 1 27 1 1-1 29-6 7 6 21-2 6-7-3-23 3-3 25-2 3-4 27 3v14l-1 28v17l-26 2 1 28 3 2 2 28h-11l-27-1h-2l-25-1-34-1h-8l-14-1-37-1zM1508 1510l-20-1h7l21 1 2 1zM1389 1692l-8-6-1-1 8 6zM1423 1709l-5-1 10 2zM1695 1360l3 5-2-2-14-20zM1678 1329l-2-5 5 13 1 6zM1866 1314l11-13zM1876 1279l1 18-1-10-1-15zM1704 1655l-1 22v5v-6l1-31zM1701 1600l4 32-3-20-3-28zM1695 1501l1-19v4zM1813 1464h-1l-21-1-1-1-27-1v-1l-24 7-4-5 5-25-2-3 1-21-27-1-1-1 6-23 20-1 3 25h22l3-23-3-3-22-2-1-23 2-4 25 2 1 1 21 1 1 2h26l3 2 24-4-3-23 28-3-1 27 3 1 20-2 4 3v27l-3 21 3 4 1 26-2 2-1 20-24 5-5-5-18-1-6 5zM1939 1168l-12 13-9 9 15-16zM1935 1139l1 1-8-8zM1954 1116l-17 1-23 1 16-1zM1889 1086l-3-4 6 7zM1892 1212l6 22-6-21zM1884 1250l11-12-17 20-2 2zM2394 1420l19 14 8 6-22-16zM2431 1310l5 4-5-4zM2190 1425l-1 1-2 3 8-12zM2179 1431l-20 4 14-3 14-3zM2053 1493l-2 4 14-32 3-7-8 20zM2110 1402l3-18 19 2v20l-1 1zM2070 1453l5 9-5-9zM2099 1439h9l10 1h-6zM2093 1442l-4 2 10-5zM2021 1510l27-7-26 7zM2243 1294v2l3 32 1 16-1-13-2-21-2-22-2-22-1-10zM2265 1342l-3 1-15 1zM2243 1155l17-3-11 2zM2281 1359l3 3v1zM2415 1331l-10-10zM2336 1365l-5 1 4-1 9-2zM2360 1366l18 14-25-19zM2408 1351l-9 14 13-22zM2391 1371l-3 2 11-8zM2411 1451l-10 11-12 12 18-19zM2614 1487l30-5h3l-26 4-33 5-16 2 12-2zM2800 855v-1v-2zM2489 1442h1l-18 10-7 4zM2501 1437l6-2-12 5-5 2zM2474 1212l15 7zM2463 1133l4 28 1 9v-2l-5-32zM2468 1247l-2 11-1 2zM2468 1243v-6v10zM2521 1420l5-16-2 8-6 19zM2440 1461l-1-1-2-2zM2743 1062l-6-7 5 5zM2678 1068l-22 4 14-3zM2783 1095l11 4-6-2zM2772 1115l-6 10 17-30zM2864 1023l26-5-30 6-24 5zM2901 1015l17-4 10-2-28 6zM2948 1003h3l-23 6zM2822 914l7 29 7 33-3-14-9-39zM2814 916l7-2h1zM2810 899l4 15v2zM2847 973l33-7-9 2-35 8zM2877 952l-3-18 6 32zM2880 843l11-17-14 23-4 5zM2956 1012l-7 6 7-6zM2818 1106l7 2 7 3zM2845 1065l-1 1 1-1zM1209 1509h43l16-16-2-1-44-4-11-1zM1207 1523l-4 37-4 38 34-6v-1l-6-30 4-4-2-32zM1026 1835l-16-2-25-3-33-4 3 16 12 14 17 18 14 18 13 18 6 9 30 21v3l12 38 11 39 5 4 19 17 21 11 31 18 17-27-6-5-32 1-6-33 1-1-1-25 4-4 26-7 1-29-34-1 2-32 31-6 1-1-4-31-36 1-2-27h-9l-25-3-36-4zM1618 776l-20-1 2 22 5 25 3 19-3-18-36 10 5 33 35 1-16 24 20 23v6l-1 16 43-1-4-34-28 6-5-34 33 3 4-4-2-27 3-4-2-33-2-1 2-30 3-3-5-27 4-5-3-28-5-4-29 2-1-30 2-2 35-1v1l26 1h1l29-4 6-6-5-1-5-10-2-11-4-23-14-5-1 24v4h-4l-32-2-28-1-35-1 2 32v4l2 32 1 12 2 22 26-2-1 29zM1608 854l1 12v1zM1611 966l-2 41-2 37 51 2-2-42-4-2 4-33zM1592 1003l2-29-8-8-35 8-1 1 7 34h1zM1605 1116l-7-36 2-8-38 3-10 15 14-1 26 19zM1584 1513l30 1v-24l-4-5-26 5-1 2zM1776 677l1 28 6 6 26-3 8 31 25 2 4-33-10-4-19-3-1-1-26-22zM1799 1796l1 8h13h18l21 1 1-14-1-2-18-10-6-12-28-2v29zM1765 1794l-5-7-10-2-14 11-10-2v10h10h28zM1733 1975l16 13 6-23v-29l-6-9-13 12zM1918 713l-13-4 4 38 24-13 24-16-19 1zM1901 1792l-11 2-5 11h16zM2138 953l-1 5-10 37-1 3 9 33 3 12 3 12 7 31 1 4-9 35-3 10-16 26 29-2 16-2 14-1 1-24-22-5-1-3 2-24 27 3 4-25 23 2 3-23 1-1 24 3 4-4 22 3 4 6 22 1 1 1h25l1 30-27-8-6 5-1 20 5 4 26-2 2-14 3-3 24-21v-10v-19l-2-7-12-33-1-3-22-31-10 5-13 6-12 14-8 8-3 3 2-3 12-24 12-24-1-2-6-28-5-24-11-11-13-13-19-11-2-1-23-7-5-1-11 3-14 29-3 8-4 14-6 21v-29l-23 24-3 8zM2058 952l-5 4 2 3 19 1 4-17 15-37zM2085 1196h20v-21l-4-4-5 2-13-7zM2090 1269v6l2 24 26 1 1-19v-1l5-17-5-7-20 2 1-20-12-1zM2089 1371l1-5 3-23-18-4-3 3 2 23 3 2-2 26 7 6zM2175 1648l6-16-24-7-2 1 3 23zM2213 1107l-26-4-3 27 24 2zM2237 1635l-5-4-22 4-3 3-2 8 22-1 15-1zM2314 1638l3-1 11-27-3-5-6 3-16 31zM2597 1523l-8 26 26-7-3-13zM2752 1411l-3-18h-8l-10 10 3 5zM2667 1437l-11-9-9 3 2 18h16zM2714 1646l-17-6-15 5-3 12-4 2-18 20 2 1 36-3h1z"/></clipPath><clipPath id="cE2"><path id="rE2" d="M761 500l-20 40-25 13-3 25 12 15 4 33 25 7 27 36v1l-57 26-4 10-18 42 24 3h3l14 47-9-30-34 11 2 49-1 2 4 7 20 14-11 38 18 9 32-21 17 8-4 30-33 14 9 34-22 19 42 37-13 20-17-3-31-8h-3l-53-14-16 68-17 68-12 50-4 15-14 58-9 38-17 68-15 67-5-1-38-1 2 39-7 22-5 14-4 28-4 24 26 9-28 22-15 67 12-54-42 16-37-17-29 6-7 56h4l69 9 12 2-9 15 161 97 58 34 29 5 98 16 52 7 5-33 18 3 44 6 42 5v-2l-2-14h6l67 8 1 1 68 7 5 1 74 7 4-46 1-6 6-60 5-46 7-64 3-31 8-74 4-36h1l10 1 44 4 5-48 7-76 6-60 3-25v-8l19 2 26 2 4-28 22 1 9 31 26 2 19 1h1l48 4-5-18 31-4 2-3 24-4 4 5 27 2 1 26 36 2-6-32 3-3 28-4 5 3-3 37 53 2-25-43 35 1-2-17 1-2 24-1 3-24-3-2-24 3-3-26-1-27 3-3 22 5 3-2 2-24-1-1-26 2 1-23-4-4 4-24 1-1 20 2 5-4-1-22-3-2-1-14h-24h-5l-22-1-33-1-1 6-8 30 1 5 6 31-13-8-15-10-15 16h-27l-3-2-24 4-2-1-30-4-5 8 9 26 23-2 6 30v1l-34 3-1-24-28-6-4 5 5 29-25 6-8-7 3-28-2-2-33 7 6 26v1l-32 5-1-29-29 3-1-2-28-4-2 2 2 34-8 9 6 1-24-3-6-38-2-28v-1h-25l-6 6-40 5-1 6-6 40 11-80-39 27-43-14 6-64 7-13-5-25-14-11v-71l-8-5-74 16-4 5-58-38 66-47-11-2-51-10-5-1-46-10 41 8 9-16 46-27-14-31 8-28-2-8-25-15-2-38 20-14-23-53 8-9 14-1 32-46-45-9-13-3-9-3-47-11-25-6-23-7-71-19-16-5zM1289 1258l3-26-1 10-4 33zM1633 1226l2 17 1 13zM1629 1207l4 17v2zM1607 1123l4 13-4-12-2-8zM866 836l43 9 8 2zM858 872l3-15 5-21zM832 1612l-57 15-27-9-3-92 25-104 36 7 53 9 7 1 60 10 10 2 29 4-28 28 13 54-16 14-8 24 26 31 41-11 10 43-38 22 3 42-13 14-43-4-22-56-71 33zM860 1435l-25-27-47-22 2-26 24-18 9-14 54 15-1 4-3 14-13 75-1 2zM898 1227l2-12-1 6zM908 1167l3-16 1-4zM857 1137l15 2 40 8zM967 1157l-8-1-47-9zM833 913l17-7-10 47-11-26zM750 821l8 27-3-10zM816 1064l-11 48 13-59zM812 1731l7-41-1 7-5 34-10 56zM614 1390l13 3h-1zM664 1401l23 5-60-13zM733 1415l14 3-60-12zM1240 1197l-10-1-38-5 10 1 34 4zM1104 1226l15 41 13 2 20 42v1l-34 11-9 31 6 6 10 23-8 13-12 1-21-4-19 7-19-13v-10l-9-10-33-17-1-6-5-6-34-5-1-2-9-29 11-11 39 3 1-1-15-49h-1l-4-39h1l33-7 4 8 37-2 8-11-11-21-35-5-1-1 49 8 6 1 55 8 16 2 7 26-4 6-45 7zM995 1460l32-24-32 24zM1163 1482l-7-1-52-6 53 6h3zM1050 1468l-5-1 24 3 31 4 4 1zM1002 1461h-1l44 6zM1236 1629l3 32-7 31 5 3 34-6h1l-5-27 4-4 34 1 5 29 29-2 4 3 35-6-6-4 2-27 3-38 2-29h-44l-1-1 3-36 10-12-23-2 28 2-4-36-7-1-28-2-26-3h-5l-14-1-16 16h-43l-2 14 22 2 2 32-4 4 6 30v1l-34 6-3 34zM1295 1532l-30-3 21 2 30 2 8 1zM1551 1435l-2-1-21 7-10-8-23 6-1 1 2 26 25-1 6 31 26-8 1 1 2 23 21 1h7l-1-21 1-2 26-5 4 5v24l22 1h7l33 1-2-28-3-2-1-28 26-2 1-29v-30l-27-3-3 4-25 2-3 3 3 23-6 7-21 2-7-6-29 6-1 1zM1589 1776l27 4 3 28-31 7 4 27-5 5 1 27-5 6 9 32 2 35-2 2 2 32v1l3 33v1l2 31 2 2 4 31 27-2 16 14 8-5 10-7 16-11 33-15 21-10 34-5 19 6 14 5 5 1 24 3 7 1 25 3 5 2 8 4 19 8 32 18 7-2 5-1 38-9h3l16 3 19 3 16 7 9-15-7-18-6-18-12-21-2-4-13-7 3-3 16-8 12-1 44-5h19l5-26 5 20 2 12 25-5 13-2 10-2 39-6 17 5 14 4 21 6 4 7 17 26 21 2 1 1 39-27 1-1 17-12 14 8 20 11 17 20 21 25 4 2 8 5 16 9-3 27-3 25 2 9 2 11 2 12 19 36 5 10 7 11 19 31 6 6 16 18 20 14 4 3 8 6 3 6 18 40h1l12-2 36-14 2-7 9-31v-8l-1-12v-29v-25l-3-6-19-40-1-1-4-10-7-20-11-36-2-4-18-28-16-24-1-1-14-29-1-1-9-18-7-24-2-9-6-25 2-11 4-19v-2l3-25v-3l5-14 9-27 8-9 3-4 14-17 5-4-30-26-7 5-22 7 2-30-27-2-3 2 10 10-19-18-13 6-2 21-22-2-3 2-9-2-11-10 3-8-14-21 5-5 18-2-1-24-1-1-14-17 8-4 6-18-6-13 5-15-12-14 19-8 13-1 22-1 30-2 9-1 4 2 12-7 3-8 13-6 11 6 18-9 7 7-22 34 30-3 10-1 12 9 7-9 2-11 16-12 6 2 5 23-6 3 1 27 10 8-11-8v24l-26 5 8 25-11 5-22-4-2 25 3 3-13 26 6 5-1 27 22-22 14-14 1-1 23-23 7-21 5-15 1-3 20-16-2-1 18-20 4-2 3-12 15-5 17 6 14-23 22-7v-26l2-1 5-12-22-20 3-9-7-10-17-6-3 4-22 3h-1l-18 1-8-13-15-1-6-10-23 5-5-20h-18l-3 18-18 6-2 1-22-4-12 7-12-30-9 1-30 3-6 1-21 24-22 3-1-1 9-23-31 3-3 16 14 21-8 2-21 7-4 3-18-6 1-16-1-2-25-2-3-4 2-12-19 2-12 1 12 10-11 18 24 4-1 21-16 3-5 5-4 17 5 8 26-13-23 12 3 5-11 27 40-4 18-1-35 3-12 1-14 2-11 1h-4l-35 3-11 1-26 2-35 2-5 1-24 1-32 2h-5l-11 1-42 2-3 1h-8l-30 1-23 1h-9l-30 1-9 1v35l22 13 2 6-9 11-17 6h-1l-2 2-3 34-14 2-8-4-30 8 3-10h-24l-4-5v-22l1-1h35l-2 4 15 2 6-27-6-5-8 16-10-11-20-11h-1l-27 4-5-5 5-17-8-9-20 8-5-6 5-18 22-5 2-1-5-26-7-5 13-24-24-14-6 6-21-4-7-8-8-25h-26l1 38 13 7 5 16h15l5 4-8 29-18 1-7-9 1-12-18-15-18 11 6 23-4 5 13 30-8 8v9l32 12 2 3-9 16-16-3-11 9 9 20-9 12-24-6 3-20-18-7-1 25-5-2-9 9-30 6-10-30h-26h-11l-24-1 3 35zM2128 1969l-3-17-1-10 8 50zM2138 1941l35-2 31-1-19 1-40 2-21 1zM2529 1832l-14-9 17 10zM1990 1947l-1 5-4 21 3-17zM1800 1794v-29l28 2 6 12 18 10 1 2-1 14h-1l-38-1h-1h-12l-1-8zM1764 1804h-9h-29v-3v-7l10 2 14-11 10 2 5 7zM1755 1964v1l-6 23-16-13 3-36 13-12-9-13 14 20 1 2zM1748 1990l-2 9-1 2zM1917 1855l-6-18-3-10 5 15zM1885 1805l5-11 11-2v13zM1900 1776l1 14v2zM1876 1950l16-1h12zM1887 1910l-3 12-4 14zM2285 1932l-21 2h-8zM2280 1902l5 27v3zM2363 1655l15 8 14 7-11-5-17-9zM2365 1651l10-19h1l-13 23zM2395 1624l-9 3 7-3zM2247 1728l7 27 6 26-4-16-1-3zM2070 1913l1 17v-1l-2-23zM2072 1791v3l-2 31-2 34-1 20 2-44 2-27zM2079 1671l-2 34-1 9 1-14 2-31zM2244 1714l-7-27-4-17v-2l6 25zM2277 1668l-6 6-25-6 19-20 12 11zM2246 1725l6-9zM2237 1935h7l-13 1zM2368 1577l2-1-8 6zM2295 1953l27-1 39-1h8l24-1h18l25-1h9l-29 1-34 1-29 1h-21zM2403 1806l-14-6 2-17 15 3 6 9zM2612 1529l3 13-26 7 8-26zM1661 1283l28 1 1-1 1-26h-20h-6zM1937 832l41 18 5 2h1l-15 14-28-3-7 32-23-4v1l-8 32 3 2-1 25 5 4 23-1 6 27-4 3-3 25-1 1v26h-1l3 31-6 5 5 28 24-3 5 4v15h-2l3 21 23 3 1-1v-24h4l17-1 12-1 46-2-7-38-1-1 3-28 2-20 1-6 3-17 4-21 4-20-19-1-2-3-7 7 3-8 4-10 10-23 12-22 5-10 8-17 21 8 16-21v-1l28-12 11-4 29 7 11 2 41-12-13-17-13-15-1-1-27 3-5-20-12 3-28 7-11 3-14 7-20 12-16-3-19-2-19-12-12-8h-4l-18-2 11-15v-1l18-27-27 14-6 4-34 23-6 3-26 11h-2l-25 16zM1887 1601l-3 18 3 5 31 2v28v24l17 11 14-30 3-4-7-5 1-29-4-4 1-22-26-10v-21l-11-12h-17h-10l2 41zM2008 1190v26l-1 20 25 6v1l-2 21 2 3-4 23 2 3-4 26 1 1 23-2 4 24-3 3-24-3-3 24 3 3 23-2 1 2 3 21-5 4-5 21 3 4 30-2 1-2 4-16-7-6 2-26-3-2-2-23 3-3 1-20h17l-2-32-1-15-2-26-2-30 16 3 3-3v-19v-1h-20v-1l-2-28v-1l-4-9-8-26-6-20-35 2 5 31 2 1v23l-2 1-5 23-20-3zM2094 1338v1l24 2-3-21v-1l-22 2zM2089 1371l-2 10 25 2 3-18-2-4-22-4zM2514 1629l-10-19-15 32 6 3 25-11 3-3 1-3z"/></clipPath><clipPath id="cE3"><path id="rE3" d="M1100 584l-14-3-8-1-9-2-40-9-32 46-14 1-8 9 23 53-20 14 2 38 25 15 2 8-8 28 14 31-46 27-9 16 10 3 51 10 26 4 2 1 23 4-35-6-5-1-66 47 58 38 4-5 74-16 8 5v71l14 11 5 25-7 13-6 64 43 14 39-27 3-24 5-41-4 33-4 34-4 32 40-5 6-6h25v1l2 28 6 38 18 2 8-9-2-34 2-2 28 4 1 2 29-3 1 29 32-5v-1l-6-26 33-7 2 2-3 28 8 7 25-6-5-29 4-5 28 6 1 24 34-3v-1l-6-30-23 2-9-26 5-8 30 4 2 1 24-4 3 2h27l15-16-11-9-31 3-12 1 29-3 10-15 38-3 7-28 1-4v-21l2-48 2-41 1-16-19-22-1-1 16-24-25-1h-10l-5-33 36-10-5-26-1-8-5-42-2-22-1-14-2-30v-9l-2-27-41-3-19-1-19-2-39-3-13-1-9-1-55-6-30-3-9-1-45-6-43-6-42-6-51-8-5-1zM1117 885l5 1-41-7-11-2zM1210 999l6-41-1 7-2 15-9 65zM1235 1049l7 1-15-2-23-3zM1502 1078l-4-4 25 18v1zM1398 853l-4-1 24 2 15 2zM1354 848l-13-1h1zM1191 896l33 5-44-6-7-1zM1238 798l-31-14 31 14zM1260 650l21 20-21-20zM1242 768l7-49-3 26zM1321 844l-28-3-6-1 11 1zM1228 868l5-35-3 25zM1347 1062l-25-3 27 3 31 3h-2zM1551 974l35-8 8 8-2 29-34 6h-1l-7-34zM1530 863h4l-26-1-6-1zM1490 1073l-3-19 3 19zM788 1386l47 22 25 27 17-92-54-15-9 14-24 18zM775 1627l57-15-13 77 71-33 22 56 43 4 13-14-3-42 38-22-10-43-41 11-26-31 8-24 16-14-13-54 28-28-39-6-60-10-7-1-53-9-36-7-25 104 3 92zM853 1478l-3 15 9-55zM835 1593l-1 4 6-36zM1619 774l1-29-26 2 4 28 20 1zM1972 1614l14 4 5-3 6-18-15-13v2zM1952 1655l8-7 10-29 12-33-30 1-9 8-1 22 4 4-1 29zM1853 1654l-22 5-5 18 5 6 20-8 8 9-5 17 5 5 27-4h1l20 11 10 11 8-16 6 5-6 27-15-2 2-4h-35l-1 1v22l4 5h24l-3 10 30-8 8 4 14-2 3-34 2-2h1l17-6 9-11-2-6-22-13v-35h-12l-14 30-17-11v-24v-28l-31-2-3-5 3-18-6-8-18 1-7 4-13 24 7 5 5 26zM2557 1585l-18 9-11-6-13 6-3 8-11 7-5-2-14 1-36 3-24 1-19 8 12 14-5 15 6 13-6 18-8 4 14 17 12 11 22 19 6 6 19 18 3-2 27 2-2 30 22-7 7-5 30 26 4-4 1-27-6-5 13-26-3-3 2-25 22 4 11-5-8-25 26-5v-24l-10-7-32-25h-3l-30 4-8 1 1-1 22-34zM2524 1628l-1 3-3 3-25 11-6-3 15-32 10 19zM2417 1772l9 2 3-2 22 2 2-21 13-6-10-10-16-14-23-21 1 24-18 2-5 5 14 21-3 8zM2391 1783l-2 17 14 6 9-11-6-9zM2603 1611l-2 11-7 9 31 23-1-27 6-3-5-23-6-2z"/></clipPath></defs>
<rect width="712" height="859" fill="#fff"/>
<g transform="translate(0 0) scale(0.1)" fill="none" stroke-linejoin="round"><use href="#o" fill="#b2b2b2"/><use href="#rA0" fill="#000"/><use href="#rA1" fill="#686868"/><use href="#rA3" fill="#fff"/><g clip-path="url(#cA0)"><use href="#m" stroke="#6a6a6a" stroke-width="4.2"/></g><g clip-path="url(#cA1)"><use href="#m" stroke="#808080" stroke-width="4.5"/></g><g clip-path="url(#cA2)"><use href="#m" stroke="#666" stroke-width="6"/></g><g clip-path="url(#cA3)"><use href="#m" stroke="#666" stroke-width="6"/></g><use href="#s" stroke="#000" stroke-width="8"/><use href="#x"/></g><g transform="translate(382 0) scale(0.1)" fill="none" stroke-linejoin="round"><use href="#o" fill="#fff"/><use href="#rB0" fill="#000"/><use href="#rB2" fill="#ababab"/><use href="#rB3" fill="#000"/><g clip-path="url(#cB0)"><use href="#m" stroke="#707070" stroke-width="5"/></g><g clip-path="url(#cB1)"><use href="#m" stroke="#000" stroke-width="8.5"/></g><g clip-path="url(#cB2)"><use href="#m" stroke="#828282" stroke-width="5"/></g><g clip-path="url(#cB3)"><use href="#m" stroke="#888" stroke-width="6.2"/></g><use href="#s" stroke="#000" stroke-width="8"/><use href="#x"/></g><g transform="translate(0 281.1) scale(0.1)" fill="none" stroke-linejoin="round"><use href="#o" fill="#fff"/><use href="#rC1" fill="#e1e1e1"/><use href="#rC2" fill="#686868"/><use href="#rC3" fill="#000"/><g clip-path="url(#cC0)"><use href="#m" stroke="#666" stroke-width="6"/></g><g clip-path="url(#cC1)"><use href="#m" stroke="#666" stroke-width="6"/></g><g clip-path="url(#cC2)"><use href="#m" stroke="#808080" stroke-width="4.5"/></g><g clip-path="url(#cC3)"><use href="#m" stroke="#6a6a6a" stroke-width="4.2"/></g><use href="#s" stroke="#000" stroke-width="8"/><use href="#x"/></g><g transform="translate(382 281) scale(0.1)" fill="none" stroke-linejoin="round"><use href="#o" fill="#fff"/><use href="#rD0" fill="#000"/><use href="#rD2" fill="#9c9c9c"/><use href="#rD3" fill="#000"/><g clip-path="url(#cD0)"><use href="#m" stroke="#707070" stroke-width="5"/></g><g clip-path="url(#cD1)"><use href="#m" stroke="#000" stroke-width="8.5"/></g><g clip-path="url(#cD2)"><use href="#m" stroke="#828282" stroke-width="5"/></g><g clip-path="url(#cD3)"><use href="#m" stroke="#888" stroke-width="6.2"/></g><use href="#s" stroke="#000" stroke-width="8"/><use href="#x"/></g><g transform="translate(188.7 561.8) scale(0.1)" fill="none" stroke-linejoin="round"><use href="#o" fill="#b2b2b2"/><use href="#rE0" fill="#fff"/><use href="#rE2" fill="#686868"/><use href="#rE3" fill="#000"/><g clip-path="url(#cE0)"><use href="#m" stroke="#666" stroke-width="6"/></g><g clip-path="url(#cE1)"><use href="#m" stroke="#666" stroke-width="6"/></g><g clip-path="url(#cE2)"><use href="#m" stroke="#808080" stroke-width="4.5"/></g><g clip-path="url(#cE3)"><use href="#m" stroke="#6a6a6a" stroke-width="4.2"/></g><use href="#s" stroke="#000" stroke-width="8"/><use href="#x"/></g>
<text x="3" y="13" font-size="11.4" font-weight="bold" >A. Estimates (β) for percentage of population that walks</text><text x="18.3" y="26.5" font-size="11.4" font-weight="bold" >or cycles to work</text><text x="390.3" y="13" font-size="11.4" font-weight="bold" >B. <tspan font-style="italic">t</tspan> Values for percentage of population that walks</text><text x="406.6" y="26.5" font-size="11.4" font-weight="bold" >or cycles to work</text><text x="3" y="304.5" font-size="11.4" font-weight="bold" >C. Estimates (β) for percentage of physically inactive population</text><text x="390.3" y="304.5" font-size="11.4" font-weight="bold" >D. <tspan font-style="italic">t</tspan> Values for percentage of physically inactive population</text><text x="161.0" y="585.7" font-size="11.4" font-weight="bold" >E. Local R<tspan font-size="7.5" dy="-4">2</tspan><tspan dy="4"> for diabetes prevalence</tspan></text><rect x="3.3" y="209.3" width="24.3" height="12.299999999999983" fill="#000" stroke="#6e6e6e" stroke-width="0.7"/><text x="32.4" y="219.9" font-size="11.3" font-weight="normal" >−32.12 to −8.06</text><rect x="3.3" y="227" width="24.3" height="11.800000000000011" fill="#686868" stroke="#6e6e6e" stroke-width="0.7"/><text x="32.4" y="236.7" font-size="11.3" font-weight="normal" >−8.05 to −3.79</text><rect x="3.3" y="244.2" width="24.3" height="11.400000000000006" fill="#b2b2b2" stroke="#6e6e6e" stroke-width="0.7"/><text x="32.4" y="253.6" font-size="11.3" font-weight="normal" >−3.78 to 0</text><rect x="3.3" y="261.5" width="24.3" height="11.300000000000011" fill="#fff" stroke="#6e6e6e" stroke-width="0.7"/><text x="32.4" y="270.8" font-size="11.3" font-weight="normal" >0.01 to 6.70</text><rect x="382.2" y="196.4" width="25.6" height="11.299999999999983" fill="#000" stroke="#000" stroke-width="0.7"/><text x="411.6" y="205.5" font-size="11.3" font-weight="normal" ><tspan font-style="italic">t</tspan> ≤ −1.96</text><rect x="382.2" y="213.4" width="25.6" height="11.299999999999983" fill="#fff" stroke="#000" stroke-width="0.7"/><text x="411.6" y="222.9" font-size="11.3" font-weight="normal" >−1.96 &lt; <tspan font-style="italic">t</tspan> &lt;1.96</text><rect x="382.2" y="230.5" width="25.6" height="11.400000000000006" fill="#ababab" stroke="#6e6e6e" stroke-width="0.7"/><text x="411.6" y="240.2" font-size="11.3" font-weight="normal" ><tspan font-style="italic">t</tspan> ≥ 1.96</text><rect x="3.5" y="490.5" width="29.2" height="13.899999999999977" fill="#fff" stroke="#6e6e6e" stroke-width="0.7"/><text x="36.5" y="501.8" font-size="11.3" font-weight="normal" >−0.08 to −0.02</text><rect x="3.5" y="508.4" width="29.2" height="14.0" fill="#e1e1e1" stroke="#6e6e6e" stroke-width="0.7"/><text x="36.5" y="519.7" font-size="11.3" font-weight="normal" >−0.019 to 0</text><rect x="3.5" y="528.3" width="29.2" height="13.300000000000068" fill="#686868" stroke="#6e6e6e" stroke-width="0.7"/><text x="36.5" y="538.9" font-size="11.3" font-weight="normal" >0.01 to 0.04</text><rect x="3.5" y="547.1" width="29.2" height="12.399999999999977" fill="#000" stroke="#6e6e6e" stroke-width="0.7"/><text x="36.5" y="557.1" font-size="11.3" font-weight="normal" >0.041 to 0.11</text><rect x="382.2" y="488.2" width="28.4" height="13.300000000000011" fill="#000" stroke="#000" stroke-width="0.7"/><text x="414.7" y="500.2" font-size="11.3" font-weight="normal" ><tspan font-style="italic">t</tspan> ≤ −1.96</text><rect x="382.2" y="506.5" width="28.4" height="14.0" fill="#fff" stroke="#000" stroke-width="0.7"/><text x="414.7" y="517.9" font-size="11.3" font-weight="normal" >−1.96 &lt; <tspan font-style="italic">t</tspan> &lt; 1.96</text><rect x="382.2" y="525.6" width="28.4" height="12.799999999999955" fill="#9c9c9c" stroke="#6e6e6e" stroke-width="0.7"/><text x="414.7" y="535.8" font-size="11.3" font-weight="normal" ><tspan font-style="italic">t</tspan> ≥ 1.96</text><rect x="161.5" y="751.5" width="24.8" height="13.0" fill="#fff" stroke="#6e6e6e" stroke-width="0.7"/><text x="191.1" y="761.9" font-size="11.3" font-weight="normal" >0.06 to 0.37</text><rect x="161.5" y="768.3" width="24.8" height="13.0" fill="#b2b2b2" stroke="#6e6e6e" stroke-width="0.7"/><text x="191.1" y="778.9" font-size="11.3" font-weight="normal" >0.37 to 0.55</text><rect x="161.5" y="785.6" width="24.8" height="12.799999999999955" fill="#686868" stroke="#6e6e6e" stroke-width="0.7"/><text x="191.1" y="796.6" font-size="11.3" font-weight="normal" >0.55 to 0.73</text><rect x="161.5" y="802.6" width="24.8" height="13.5" fill="#000" stroke="#6e6e6e" stroke-width="0.7"/><text x="191.1" y="813.9" font-size="11.3" font-weight="normal" >0.73 to 0.94</text>
<rect x="234.5" y="850.6" width="225.0" height="3.7999999999999545" fill="#fff" stroke="#000" stroke-width="0.6"/><rect x="234.5" y="850.6" width="14.0625" height="3.7999999999999545" fill="#000"/><rect x="262.625" y="850.6" width="14.0625" height="3.7999999999999545" fill="#000"/><rect x="290.75" y="850.6" width="56.25" height="3.7999999999999545" fill="#000"/><rect x="403.25" y="850.6" width="56.25" height="3.7999999999999545" fill="#000"/><text x="234.5" y="846.4" font-size="8.7" font-weight="normal" text-anchor="middle">0</text><text x="262.625" y="846.4" font-size="8.7" font-weight="normal" text-anchor="middle">270</text><text x="290.75" y="846.4" font-size="8.7" font-weight="normal" text-anchor="middle">540</text><text x="347.0" y="846.4" font-size="8.7" font-weight="normal" text-anchor="middle">1,080</text><text x="403.25" y="846.4" font-size="8.7" font-weight="normal" text-anchor="middle">1,620</text><text x="459.5" y="846.4" font-size="8.7" font-weight="normal" text-anchor="middle">2,160</text><text x="461.5" y="854.8" font-size="8.7" font-weight="normal" >Miles</text>
</svg></body></html>
